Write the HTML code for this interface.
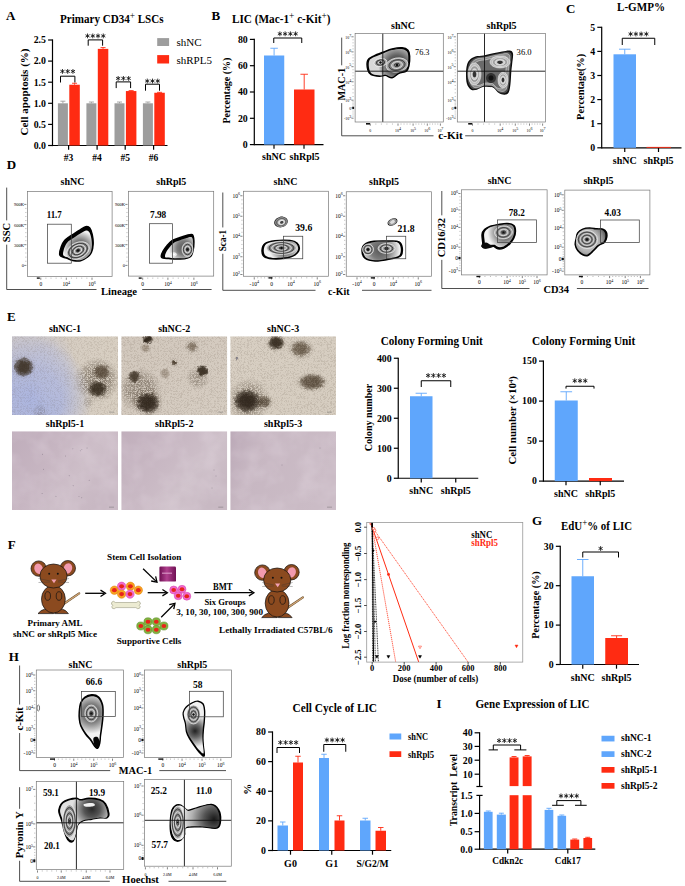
<!DOCTYPE html>
<html><head><meta charset="utf-8"><title>Figure</title>
<style>html,body{margin:0;padding:0;background:#fff;} svg{display:block;} text{font-family:"Liberation Serif", serif;}</style>
</head><body>
<svg width="685" height="886" viewBox="0 0 685 886">
<defs><radialGradient id="z3g1" gradientUnits="userSpaceOnUse" cx="397" cy="65" r="18.76"><stop offset="0" stop-color="#3a3a3a"/><stop offset="0.5" stop-color="#5e5e5e"/><stop offset="0.85" stop-color="#a0a0a0"/><stop offset="1" stop-color="#d8d8d8"/></radialGradient><radialGradient id="z3g2" gradientUnits="userSpaceOnUse" cx="80" cy="248" r="16.94"><stop offset="0" stop-color="#555"/><stop offset="0.45" stop-color="#7a7a7a"/><stop offset="0.8" stop-color="#c4c4c4"/><stop offset="1" stop-color="#f2f2f2"/></radialGradient><radialGradient id="z3g3" gradientUnits="userSpaceOnUse" cx="184" cy="248" r="15.35"><stop offset="0" stop-color="#555"/><stop offset="0.45" stop-color="#7a7a7a"/><stop offset="0.8" stop-color="#c4c4c4"/><stop offset="1" stop-color="#f2f2f2"/></radialGradient><radialGradient id="z3g4" gradientUnits="userSpaceOnUse" cx="284.5" cy="247.8" r="15.39"><stop offset="0" stop-color="#555"/><stop offset="0.45" stop-color="#7a7a7a"/><stop offset="0.8" stop-color="#c4c4c4"/><stop offset="1" stop-color="#f2f2f2"/></radialGradient><radialGradient id="z3g5" gradientUnits="userSpaceOnUse" cx="380" cy="250" r="20"><stop offset="0" stop-color="#555"/><stop offset="0.45" stop-color="#7a7a7a"/><stop offset="0.8" stop-color="#c4c4c4"/><stop offset="1" stop-color="#f2f2f2"/></radialGradient><radialGradient id="z3g6" gradientUnits="userSpaceOnUse" cx="504.6" cy="232.4" r="16.97"><stop offset="0" stop-color="#555"/><stop offset="0.45" stop-color="#7a7a7a"/><stop offset="0.8" stop-color="#c4c4c4"/><stop offset="1" stop-color="#f2f2f2"/></radialGradient><radialGradient id="z3g7" gradientUnits="userSpaceOnUse" cx="588" cy="241" r="19"><stop offset="0" stop-color="#ddd"/><stop offset="0.6" stop-color="#b0b0b0"/><stop offset="0.85" stop-color="#808080"/><stop offset="1" stop-color="#555"/></radialGradient><filter color-interpolation-filters="sRGB" id="grain" x="0" y="0" width="100%" height="100%"><feTurbulence type="turbulence" baseFrequency="1.3" numOctaves="1" seed="4"/><feColorMatrix type="matrix" values="0 0 0 0 0.3  0 0 0 0 0.24  0 0 0 0 0.18  0 0 0 4 -0.45"/></filter><filter color-interpolation-filters="sRGB" id="grain2" x="0" y="0" width="100%" height="100%"><feTurbulence type="fractalNoise" baseFrequency="0.05" numOctaves="3" seed="9"/><feColorMatrix type="matrix" values="0 0 0 0 1  0 0 0 0 0.97  0 0 0 0 1  0 0 0 -1.6 1.05"/></filter><filter color-interpolation-filters="sRGB" id="speck" x="-10%" y="-10%" width="120%" height="120%"><feTurbulence type="turbulence" baseFrequency="0.75" numOctaves="2" seed="2" result="n"/><feColorMatrix in="n" type="matrix" values="0 0 0 0 0.24  0 0 0 0 0.19  0 0 0 0 0.13  0 0 0 3.2 -0.05" result="m"/><feComposite in="m" in2="SourceGraphic" operator="in"/></filter><filter color-interpolation-filters="sRGB" id="rough" x="-30%" y="-30%" width="160%" height="160%"><feTurbulence type="fractalNoise" baseFrequency="0.35" numOctaves="2" seed="5" result="t"/><feDisplacementMap in="SourceGraphic" in2="t" scale="4" xChannelSelector="R" yChannelSelector="G"/></filter><radialGradient id="halo"><stop offset="0" stop-color="#000" stop-opacity="1"/><stop offset="0.55" stop-color="#000" stop-opacity="0.8"/><stop offset="1" stop-color="#000" stop-opacity="0"/></radialGradient><radialGradient id="col"><stop offset="0" stop-color="currentColor" stop-opacity="1"/><stop offset="0.5" stop-color="currentColor" stop-opacity="0.95"/><stop offset="0.78" stop-color="currentColor" stop-opacity="0.6"/><stop offset="1" stop-color="currentColor" stop-opacity="0"/></radialGradient><radialGradient id="softw2"><stop offset="0" stop-color="currentColor" stop-opacity="1"/><stop offset="0.5" stop-color="currentColor" stop-opacity="0.85"/><stop offset="1" stop-color="currentColor" stop-opacity="0"/></radialGradient><clipPath id="clipE1"><rect x="12" y="336.25" width="106" height="78.75"/></clipPath><linearGradient id="gE1" x1="0" y1="0" x2="1" y2="0"><stop offset="0" stop-color="#d4cbc2"/><stop offset="1" stop-color="#d8cfc2"/></linearGradient><radialGradient id="sw0"><stop offset="0" stop-color="#a8b3e2" stop-opacity="1"/><stop offset="0.5" stop-color="#a8b3e2" stop-opacity="0.85"/><stop offset="1" stop-color="#a8b3e2" stop-opacity="0"/></radialGradient><radialGradient id="sw1"><stop offset="0" stop-color="#b8bcd8" stop-opacity="1"/><stop offset="0.5" stop-color="#b8bcd8" stop-opacity="0.85"/><stop offset="1" stop-color="#b8bcd8" stop-opacity="0"/></radialGradient><radialGradient id="sw2"><stop offset="0" stop-color="#bcc0dc" stop-opacity="1"/><stop offset="0.5" stop-color="#bcc0dc" stop-opacity="0.85"/><stop offset="1" stop-color="#bcc0dc" stop-opacity="0"/></radialGradient><radialGradient id="col3"><stop offset="0" stop-color="#3a2e20" stop-opacity="1"/><stop offset="0.5" stop-color="#3a2e20" stop-opacity="0.95"/><stop offset="0.78" stop-color="#3a2e20" stop-opacity="0.6"/><stop offset="1" stop-color="#3a2e20" stop-opacity="0"/></radialGradient><radialGradient id="col4"><stop offset="0" stop-color="#4a3c2c" stop-opacity="1"/><stop offset="0.5" stop-color="#4a3c2c" stop-opacity="0.95"/><stop offset="0.78" stop-color="#4a3c2c" stop-opacity="0.6"/><stop offset="1" stop-color="#4a3c2c" stop-opacity="0"/></radialGradient><radialGradient id="col5"><stop offset="0" stop-color="#33291c" stop-opacity="1"/><stop offset="0.5" stop-color="#33291c" stop-opacity="0.95"/><stop offset="0.78" stop-color="#33291c" stop-opacity="0.6"/><stop offset="1" stop-color="#33291c" stop-opacity="0"/></radialGradient><clipPath id="clipE2"><rect x="121.25" y="336.25" width="106" height="78.75"/></clipPath><linearGradient id="gE2" x1="0" y1="0" x2="1" y2="1"><stop offset="0" stop-color="#d2c8bd"/><stop offset="1" stop-color="#d6cdc2"/></linearGradient><radialGradient id="col6"><stop offset="0" stop-color="#2a2016" stop-opacity="1"/><stop offset="0.5" stop-color="#2a2016" stop-opacity="0.95"/><stop offset="0.78" stop-color="#2a2016" stop-opacity="0.6"/><stop offset="1" stop-color="#2a2016" stop-opacity="0"/></radialGradient><radialGradient id="col7"><stop offset="0" stop-color="#8a7a68" stop-opacity="1"/><stop offset="0.5" stop-color="#8a7a68" stop-opacity="0.95"/><stop offset="0.78" stop-color="#8a7a68" stop-opacity="0.6"/><stop offset="1" stop-color="#8a7a68" stop-opacity="0"/></radialGradient><radialGradient id="col8"><stop offset="0" stop-color="#3b2f22" stop-opacity="1"/><stop offset="0.5" stop-color="#3b2f22" stop-opacity="0.95"/><stop offset="0.78" stop-color="#3b2f22" stop-opacity="0.6"/><stop offset="1" stop-color="#3b2f22" stop-opacity="0"/></radialGradient><radialGradient id="col9"><stop offset="0" stop-color="#2e241a" stop-opacity="1"/><stop offset="0.5" stop-color="#2e241a" stop-opacity="0.95"/><stop offset="0.78" stop-color="#2e241a" stop-opacity="0.6"/><stop offset="1" stop-color="#2e241a" stop-opacity="0"/></radialGradient><radialGradient id="col10"><stop offset="0" stop-color="#6a5a48" stop-opacity="1"/><stop offset="0.5" stop-color="#6a5a48" stop-opacity="0.95"/><stop offset="0.78" stop-color="#6a5a48" stop-opacity="0.6"/><stop offset="1" stop-color="#6a5a48" stop-opacity="0"/></radialGradient><radialGradient id="col11"><stop offset="0" stop-color="#2e2418" stop-opacity="1"/><stop offset="0.5" stop-color="#2e2418" stop-opacity="0.95"/><stop offset="0.78" stop-color="#2e2418" stop-opacity="0.6"/><stop offset="1" stop-color="#2e2418" stop-opacity="0"/></radialGradient><radialGradient id="col12"><stop offset="0" stop-color="#3a2c1c" stop-opacity="1"/><stop offset="0.5" stop-color="#3a2c1c" stop-opacity="0.95"/><stop offset="0.78" stop-color="#3a2c1c" stop-opacity="0.6"/><stop offset="1" stop-color="#3a2c1c" stop-opacity="0"/></radialGradient><radialGradient id="col13"><stop offset="0" stop-color="#7a6a58" stop-opacity="1"/><stop offset="0.5" stop-color="#7a6a58" stop-opacity="0.95"/><stop offset="0.78" stop-color="#7a6a58" stop-opacity="0.6"/><stop offset="1" stop-color="#7a6a58" stop-opacity="0"/></radialGradient><clipPath id="clipE3"><rect x="230.25" y="336.25" width="105.75" height="78.75"/></clipPath><linearGradient id="gE3" x1="0" y1="0" x2="1" y2="1"><stop offset="0" stop-color="#d8cfc3"/><stop offset="1" stop-color="#d6cdc0"/></linearGradient><radialGradient id="col14"><stop offset="0" stop-color="#32281c" stop-opacity="1"/><stop offset="0.5" stop-color="#32281c" stop-opacity="0.95"/><stop offset="0.78" stop-color="#32281c" stop-opacity="0.6"/><stop offset="1" stop-color="#32281c" stop-opacity="0"/></radialGradient><radialGradient id="col15"><stop offset="0" stop-color="#4b3c2a" stop-opacity="1"/><stop offset="0.5" stop-color="#4b3c2a" stop-opacity="0.95"/><stop offset="0.78" stop-color="#4b3c2a" stop-opacity="0.6"/><stop offset="1" stop-color="#4b3c2a" stop-opacity="0"/></radialGradient><radialGradient id="col16"><stop offset="0" stop-color="#5a5a70" stop-opacity="1"/><stop offset="0.5" stop-color="#5a5a70" stop-opacity="0.95"/><stop offset="0.78" stop-color="#5a5a70" stop-opacity="0.6"/><stop offset="1" stop-color="#5a5a70" stop-opacity="0"/></radialGradient><clipPath id="clipE4"><rect x="12" y="431.25" width="106" height="78.75"/></clipPath><linearGradient id="gE4" x1="0" y1="0" x2="1" y2="0.5"><stop offset="0" stop-color="#bfadbb"/><stop offset="0.45" stop-color="#c7b6c2"/><stop offset="0.7" stop-color="#cdbec8"/><stop offset="1" stop-color="#c8b8c3"/></linearGradient><clipPath id="clipE5"><rect x="121.25" y="431.25" width="106" height="78.75"/></clipPath><linearGradient id="gE5" x1="0" y1="0" x2="1" y2="0.6"><stop offset="0" stop-color="#c1afbc"/><stop offset="0.5" stop-color="#c9b9c4"/><stop offset="0.75" stop-color="#cec0c9"/><stop offset="1" stop-color="#c8b9c3"/></linearGradient><clipPath id="clipE6"><rect x="230.25" y="431.25" width="105.75" height="78.75"/></clipPath><linearGradient id="gE6" x1="0" y1="0" x2="1" y2="0.3"><stop offset="0" stop-color="#bba9b7"/><stop offset="0.3" stop-color="#c7b7c2"/><stop offset="1" stop-color="#cbbcc6"/></linearGradient><linearGradient id="mag" x1="0" y1="0" x2="1" y2="0"><stop offset="0" stop-color="#6e0f52"/><stop offset="0.45" stop-color="#b0408e"/><stop offset="1" stop-color="#701054"/></linearGradient><clipPath id="ldaclip"><rect x="366.7" y="522.5" width="156.05" height="139.6"/></clipPath><radialGradient id="z3g8" gradientUnits="userSpaceOnUse" cx="91.3" cy="713.2" r="20.42"><stop offset="0" stop-color="#555"/><stop offset="0.45" stop-color="#7a7a7a"/><stop offset="0.8" stop-color="#c4c4c4"/><stop offset="1" stop-color="#f2f2f2"/></radialGradient><radialGradient id="z3g9" gradientUnits="userSpaceOnUse" cx="195" cy="731" r="16"><stop offset="0" stop-color="#222"/><stop offset="0.4" stop-color="#666"/><stop offset="0.8" stop-color="#c0c0c0"/><stop offset="1" stop-color="#f0f0f0"/></radialGradient><radialGradient id="z3g10" gradientUnits="userSpaceOnUse" cx="92" cy="809" r="20"><stop offset="0" stop-color="#2a2a2a"/><stop offset="0.4" stop-color="#555"/><stop offset="0.75" stop-color="#a0a0a0"/><stop offset="1" stop-color="#e0e0e0"/></radialGradient><radialGradient id="z3g11" gradientUnits="userSpaceOnUse" cx="214" cy="819" r="34"><stop offset="0" stop-color="#1a1a1a"/><stop offset="0.3" stop-color="#555"/><stop offset="0.65" stop-color="#b0b0b0"/><stop offset="1" stop-color="#f2f2f2"/></radialGradient></defs>
<rect width="685" height="886" fill="#fff"/>
<text x="6" y="20" font-size="13" font-weight="bold" fill="#000" text-anchor="start">A</text>
<text x="60" y="22.5" font-size="12" font-weight="bold" textLength="103.5" lengthAdjust="spacingAndGlyphs">Primary CD34<tspan dy="-4" font-size="10" font-weight="normal">+</tspan><tspan dy="4"> LSCs</tspan></text>
<line x1="52.5" y1="39.4" x2="52.5" y2="146.1" stroke="#000" stroke-width="1.2"/>
<line x1="48.1" y1="145.5" x2="52.5" y2="145.5" stroke="#000" stroke-width="1.2"/>
<text x="45.9" y="148.83" font-size="9.8" font-weight="bold" fill="#000" text-anchor="end">0.0</text>
<line x1="48.1" y1="124.4" x2="52.5" y2="124.4" stroke="#000" stroke-width="1.2"/>
<text x="45.9" y="127.73" font-size="9.8" font-weight="bold" fill="#000" text-anchor="end">0.5</text>
<line x1="48.1" y1="103.3" x2="52.5" y2="103.3" stroke="#000" stroke-width="1.2"/>
<text x="45.9" y="106.63" font-size="9.8" font-weight="bold" fill="#000" text-anchor="end">1.0</text>
<line x1="48.1" y1="82.2" x2="52.5" y2="82.2" stroke="#000" stroke-width="1.2"/>
<text x="45.9" y="85.53" font-size="9.8" font-weight="bold" fill="#000" text-anchor="end">1.5</text>
<line x1="48.1" y1="61.1" x2="52.5" y2="61.1" stroke="#000" stroke-width="1.2"/>
<text x="45.9" y="64.43" font-size="9.8" font-weight="bold" fill="#000" text-anchor="end">2.0</text>
<line x1="48.1" y1="40" x2="52.5" y2="40" stroke="#000" stroke-width="1.2"/>
<text x="45.9" y="43.33" font-size="9.8" font-weight="bold" fill="#000" text-anchor="end">2.5</text>
<text x="27.8" y="92" font-size="11" font-weight="bold" fill="#000" text-anchor="middle" textLength="87" lengthAdjust="spacingAndGlyphs" transform="rotate(-90 27.8 92)">Cell apoptosis (%)</text>
<line x1="52.5" y1="145.5" x2="167.5" y2="145.5" stroke="#000" stroke-width="1.2"/>
<line x1="68.6" y1="145.5" x2="68.6" y2="149.7" stroke="#000" stroke-width="1.2"/>
<line x1="97.1" y1="145.5" x2="97.1" y2="149.7" stroke="#000" stroke-width="1.2"/>
<line x1="125.2" y1="145.5" x2="125.2" y2="149.7" stroke="#000" stroke-width="1.2"/>
<line x1="153.6" y1="145.5" x2="153.6" y2="149.7" stroke="#000" stroke-width="1.2"/>
<rect x="57.9" y="103.3" width="10" height="42.2" fill="#9d9d9d"/>
<line x1="62.9" y1="103.3" x2="62.9" y2="101.19" stroke="#9d9d9d" stroke-width="0.9"/>
<line x1="60.4" y1="101.19" x2="65.4" y2="101.19" stroke="#9d9d9d" stroke-width="0.9"/>
<rect x="69.3" y="84.73" width="10.5" height="60.77" fill="#ff2b12"/>
<line x1="74.55" y1="84.73" x2="74.55" y2="83.25" stroke="#ff2b12" stroke-width="0.9"/>
<line x1="72.05" y1="83.25" x2="77.05" y2="83.25" stroke="#ff2b12" stroke-width="0.9"/>
<text x="68.6" y="160.5" font-size="9.5" font-weight="bold" fill="#000" text-anchor="middle">#3</text>
<rect x="86.4" y="103.3" width="10" height="42.2" fill="#9d9d9d"/>
<line x1="91.4" y1="103.3" x2="91.4" y2="102.03" stroke="#9d9d9d" stroke-width="0.9"/>
<line x1="88.9" y1="102.03" x2="93.9" y2="102.03" stroke="#9d9d9d" stroke-width="0.9"/>
<rect x="97.8" y="48.86" width="10.5" height="96.64" fill="#ff2b12"/>
<line x1="103.05" y1="48.86" x2="103.05" y2="47.6" stroke="#ff2b12" stroke-width="0.9"/>
<line x1="100.55" y1="47.6" x2="105.55" y2="47.6" stroke="#ff2b12" stroke-width="0.9"/>
<text x="97.1" y="160.5" font-size="9.5" font-weight="bold" fill="#000" text-anchor="middle">#4</text>
<rect x="114.5" y="103.3" width="10" height="42.2" fill="#9d9d9d"/>
<line x1="119.5" y1="103.3" x2="119.5" y2="102.03" stroke="#9d9d9d" stroke-width="0.9"/>
<line x1="117" y1="102.03" x2="122" y2="102.03" stroke="#9d9d9d" stroke-width="0.9"/>
<rect x="125.9" y="91.06" width="10.5" height="54.44" fill="#ff2b12"/>
<line x1="131.15" y1="91.06" x2="131.15" y2="90.64" stroke="#ff2b12" stroke-width="0.9"/>
<line x1="128.65" y1="90.64" x2="133.65" y2="90.64" stroke="#ff2b12" stroke-width="0.9"/>
<text x="125.2" y="160.5" font-size="9.5" font-weight="bold" fill="#000" text-anchor="middle">#5</text>
<rect x="142.9" y="103.3" width="10" height="42.2" fill="#9d9d9d"/>
<line x1="147.9" y1="103.3" x2="147.9" y2="102.03" stroke="#9d9d9d" stroke-width="0.9"/>
<line x1="145.4" y1="102.03" x2="150.4" y2="102.03" stroke="#9d9d9d" stroke-width="0.9"/>
<rect x="154.3" y="92.75" width="10.5" height="52.75" fill="#ff2b12"/>
<line x1="159.55" y1="92.75" x2="159.55" y2="92.33" stroke="#ff2b12" stroke-width="0.9"/>
<line x1="157.05" y1="92.33" x2="162.05" y2="92.33" stroke="#ff2b12" stroke-width="0.9"/>
<text x="153.6" y="160.5" font-size="9.5" font-weight="bold" fill="#000" text-anchor="middle">#6</text>
<path d="M60.5,82.5 V76.2 H74.9 V82.5" fill="none" stroke="#000" stroke-width="1"/>
<path d="M62.45,69L62.45,73.8M60.37,70.2L64.53,72.6M64.53,70.2L60.37,72.6M67.7,69L67.7,73.8M65.62,70.2L69.78,72.6M69.78,70.2L65.62,72.6M72.95,69L72.95,73.8M70.87,70.2L75.03,72.6M75.03,70.2L70.87,72.6" stroke="#111" stroke-width="0.85" fill="none"/>
<path d="M88.2,45.7 V39.9 H102.6 V45.7" fill="none" stroke="#000" stroke-width="1"/>
<path d="M87.53,33.5L87.53,38.3M85.45,34.7L89.6,37.1M89.6,34.7L85.45,37.1M92.78,33.5L92.78,38.3M90.7,34.7L94.85,37.1M94.85,34.7L90.7,37.1M98.03,33.5L98.03,38.3M95.95,34.7L100.1,37.1M100.1,34.7L95.95,37.1M103.28,33.5L103.28,38.3M101.2,34.7L105.35,37.1M105.35,34.7L101.2,37.1" stroke="#111" stroke-width="0.85" fill="none"/>
<path d="M116.2,88.1 V81.9 H130.6 V88.1" fill="none" stroke="#000" stroke-width="1"/>
<path d="M118.15,76L118.15,80.8M116.07,77.2L120.23,79.6M120.23,77.2L116.07,79.6M123.4,76L123.4,80.8M121.32,77.2L125.48,79.6M125.48,77.2L121.32,79.6M128.65,76L128.65,80.8M126.57,77.2L130.73,79.6M130.73,77.2L126.57,79.6" stroke="#111" stroke-width="0.85" fill="none"/>
<path d="M145.5,90.7 V84.2 H159.5 V90.7" fill="none" stroke="#000" stroke-width="1"/>
<path d="M147.25,78.6L147.25,83.4M145.17,79.8L149.33,82.2M149.33,79.8L145.17,82.2M152.5,78.6L152.5,83.4M150.42,79.8L154.58,82.2M154.58,79.8L150.42,82.2M157.75,78.6L157.75,83.4M155.67,79.8L159.83,82.2M159.83,79.8L155.67,82.2" stroke="#111" stroke-width="0.85" fill="none"/>
<rect x="157.2" y="38.1" width="11.9" height="7.9" fill="#9d9d9d"/>
<rect x="157.2" y="55.1" width="11.9" height="8.4" fill="#ff2b12"/>
<text x="176.5" y="46.3" font-size="11" font-weight="normal" fill="#000" text-anchor="start">shNC</text>
<text x="176.5" y="63.5" font-size="11" font-weight="normal" fill="#000" text-anchor="start">shRPL5</text>
<text x="211.5" y="20.1" font-size="13" font-weight="bold" fill="#000" text-anchor="start">B</text>
<text x="232" y="23" font-size="12" font-weight="bold" textLength="98.5" lengthAdjust="spacingAndGlyphs">LIC (Mac-1<tspan dy="-4" font-size="10" font-weight="normal">+</tspan><tspan dy="4"> c-Kit</tspan><tspan dy="-4" font-size="10" font-weight="normal">+</tspan><tspan dy="4">)</tspan></text>
<line x1="254.3" y1="38.8" x2="254.3" y2="145.2" stroke="#000" stroke-width="1.2"/>
<line x1="249.9" y1="144.6" x2="254.3" y2="144.6" stroke="#000" stroke-width="1.2"/>
<text x="247.7" y="147.93" font-size="9.8" font-weight="bold" fill="#000" text-anchor="end">0</text>
<line x1="249.9" y1="118.3" x2="254.3" y2="118.3" stroke="#000" stroke-width="1.2"/>
<text x="247.7" y="121.63" font-size="9.8" font-weight="bold" fill="#000" text-anchor="end">20</text>
<line x1="249.9" y1="92" x2="254.3" y2="92" stroke="#000" stroke-width="1.2"/>
<text x="247.7" y="95.33" font-size="9.8" font-weight="bold" fill="#000" text-anchor="end">40</text>
<line x1="249.9" y1="65.7" x2="254.3" y2="65.7" stroke="#000" stroke-width="1.2"/>
<text x="247.7" y="69.03" font-size="9.8" font-weight="bold" fill="#000" text-anchor="end">60</text>
<line x1="249.9" y1="39.4" x2="254.3" y2="39.4" stroke="#000" stroke-width="1.2"/>
<text x="247.7" y="42.73" font-size="9.8" font-weight="bold" fill="#000" text-anchor="end">80</text>
<text x="230" y="90.6" font-size="11" font-weight="bold" fill="#000" text-anchor="middle" textLength="66" lengthAdjust="spacingAndGlyphs" transform="rotate(-90 230 90.6)">Percentage (%)</text>
<line x1="254.3" y1="144.6" x2="323.5" y2="144.6" stroke="#000" stroke-width="1.2"/>
<line x1="274" y1="144.6" x2="274" y2="148.8" stroke="#000" stroke-width="1.2"/>
<line x1="304" y1="144.6" x2="304" y2="148.8" stroke="#000" stroke-width="1.2"/>
<rect x="264" y="55.5" width="20.25" height="89.1" fill="#5fa6fc"/>
<line x1="274.1" y1="55.5" x2="274.1" y2="48.25" stroke="#5fa6fc" stroke-width="0.9"/>
<line x1="270.35" y1="48.25" x2="277.85" y2="48.25" stroke="#5fa6fc" stroke-width="0.9"/>
<rect x="294" y="89.5" width="20.5" height="55.1" fill="#ff2b12"/>
<line x1="304.2" y1="89.5" x2="304.2" y2="74.25" stroke="#ff2b12" stroke-width="0.9"/>
<line x1="300.45" y1="74.25" x2="307.95" y2="74.25" stroke="#ff2b12" stroke-width="0.9"/>
<text x="274" y="160" font-size="10" font-weight="bold" fill="#000" text-anchor="middle">shNC</text>
<text x="304.5" y="160" font-size="10" font-weight="bold" fill="#000" text-anchor="middle">shRpl5</text>
<path d="M273.75,43 V38 H301.75 V43" fill="none" stroke="#000" stroke-width="1"/>
<path d="M279.88,31.4L279.88,36.2M277.8,32.6L281.95,35M281.95,32.6L277.8,35M285.12,31.4L285.12,36.2M283.05,32.6L287.2,35M287.2,32.6L283.05,35M290.38,31.4L290.38,36.2M288.3,32.6L292.45,35M292.45,32.6L288.3,35M295.62,31.4L295.62,36.2M293.55,32.6L297.7,35M297.7,32.6L293.55,35" stroke="#111" stroke-width="0.85" fill="none"/>
<line x1="341.7" y1="37.6" x2="341.7" y2="65.3" stroke="#222" stroke-width="0.8"/>
<line x1="341.7" y1="103.1" x2="341.7" y2="135.8" stroke="#222" stroke-width="0.8"/>
<line x1="341.7" y1="135.8" x2="433.5" y2="135.8" stroke="#222" stroke-width="0.8"/>
<line x1="465.2" y1="135.8" x2="543" y2="135.8" stroke="#222" stroke-width="0.8"/>
<text x="345.27" y="84.2" font-size="10.5" font-weight="bold" fill="#000" text-anchor="middle" textLength="32.8" lengthAdjust="spacingAndGlyphs" transform="rotate(-90 345.27 84.2)">MAC-1</text>
<text x="450.5" y="139.3" font-size="10.5" font-weight="bold" fill="#000" text-anchor="middle" textLength="24.5" lengthAdjust="spacingAndGlyphs">c-Kit</text>
<text x="403" y="28.9" font-size="10" font-weight="bold" fill="#000" text-anchor="middle">shNC</text>
<line x1="351.4" y1="36.8" x2="353.6" y2="36.8" stroke="#333" stroke-width="0.6"/>
<text x="351.2" y="38.7" font-size="3.9" font-weight="normal" fill="#000" text-anchor="end">10<tspan dy="-2.2" font-size="4">7</tspan></text>
<line x1="351.4" y1="51.9" x2="353.6" y2="51.9" stroke="#333" stroke-width="0.6"/>
<text x="351.2" y="53.8" font-size="3.9" font-weight="normal" fill="#000" text-anchor="end">10<tspan dy="-2.2" font-size="4">6</tspan></text>
<line x1="351.4" y1="66.7" x2="353.6" y2="66.7" stroke="#333" stroke-width="0.6"/>
<text x="351.2" y="68.6" font-size="3.9" font-weight="normal" fill="#000" text-anchor="end">10<tspan dy="-2.2" font-size="4">5</tspan></text>
<line x1="351.4" y1="81.8" x2="353.6" y2="81.8" stroke="#333" stroke-width="0.6"/>
<text x="351.2" y="83.7" font-size="3.9" font-weight="normal" fill="#000" text-anchor="end">10<tspan dy="-2.2" font-size="4">4</tspan></text>
<line x1="351.4" y1="100.2" x2="353.6" y2="100.2" stroke="#333" stroke-width="0.6"/>
<text x="351.2" y="102.1" font-size="3.9" font-weight="normal" fill="#000" text-anchor="end">10<tspan dy="-2.2" font-size="4">3</tspan></text>
<line x1="351.4" y1="107.8" x2="353.6" y2="107.8" stroke="#333" stroke-width="0.6"/>
<text x="351.2" y="109.7" font-size="3.9" font-weight="normal" fill="#000" text-anchor="end">0</text>
<line x1="351.4" y1="118.2" x2="353.6" y2="118.2" stroke="#333" stroke-width="0.6"/>
<text x="351.2" y="120.1" font-size="3.9" font-weight="normal" fill="#000" text-anchor="end">-10<tspan dy="-2.2" font-size="4">3</tspan></text>
<line x1="352.5" y1="39.82" x2="353.6" y2="39.82" stroke="#555" stroke-width="0.4"/>
<line x1="352.5" y1="42.84" x2="353.6" y2="42.84" stroke="#555" stroke-width="0.4"/>
<line x1="352.5" y1="45.86" x2="353.6" y2="45.86" stroke="#555" stroke-width="0.4"/>
<line x1="352.5" y1="48.88" x2="353.6" y2="48.88" stroke="#555" stroke-width="0.4"/>
<line x1="352.5" y1="54.86" x2="353.6" y2="54.86" stroke="#555" stroke-width="0.4"/>
<line x1="352.5" y1="57.82" x2="353.6" y2="57.82" stroke="#555" stroke-width="0.4"/>
<line x1="352.5" y1="60.78" x2="353.6" y2="60.78" stroke="#555" stroke-width="0.4"/>
<line x1="352.5" y1="63.74" x2="353.6" y2="63.74" stroke="#555" stroke-width="0.4"/>
<line x1="352.5" y1="69.72" x2="353.6" y2="69.72" stroke="#555" stroke-width="0.4"/>
<line x1="352.5" y1="72.74" x2="353.6" y2="72.74" stroke="#555" stroke-width="0.4"/>
<line x1="352.5" y1="75.76" x2="353.6" y2="75.76" stroke="#555" stroke-width="0.4"/>
<line x1="352.5" y1="78.78" x2="353.6" y2="78.78" stroke="#555" stroke-width="0.4"/>
<line x1="352.5" y1="85.48" x2="353.6" y2="85.48" stroke="#555" stroke-width="0.4"/>
<line x1="352.5" y1="89.16" x2="353.6" y2="89.16" stroke="#555" stroke-width="0.4"/>
<line x1="352.5" y1="92.84" x2="353.6" y2="92.84" stroke="#555" stroke-width="0.4"/>
<line x1="352.5" y1="96.52" x2="353.6" y2="96.52" stroke="#555" stroke-width="0.4"/>
<line x1="352.5" y1="101.72" x2="353.6" y2="101.72" stroke="#555" stroke-width="0.4"/>
<line x1="352.5" y1="103.24" x2="353.6" y2="103.24" stroke="#555" stroke-width="0.4"/>
<line x1="352.5" y1="104.76" x2="353.6" y2="104.76" stroke="#555" stroke-width="0.4"/>
<line x1="352.5" y1="106.28" x2="353.6" y2="106.28" stroke="#555" stroke-width="0.4"/>
<line x1="352.5" y1="109.88" x2="353.6" y2="109.88" stroke="#555" stroke-width="0.4"/>
<line x1="352.5" y1="111.96" x2="353.6" y2="111.96" stroke="#555" stroke-width="0.4"/>
<line x1="352.5" y1="114.04" x2="353.6" y2="114.04" stroke="#555" stroke-width="0.4"/>
<line x1="352.5" y1="116.12" x2="353.6" y2="116.12" stroke="#555" stroke-width="0.4"/>
<line x1="370.3" y1="123.5" x2="370.3" y2="125.7" stroke="#333" stroke-width="0.6"/>
<text x="370.3" y="131.8" font-size="3.9" font-weight="normal" fill="#000" text-anchor="middle">0</text>
<line x1="398" y1="123.5" x2="398" y2="125.7" stroke="#333" stroke-width="0.6"/>
<text x="398" y="131.8" font-size="3.9" font-weight="normal" fill="#000" text-anchor="middle">10<tspan dy="-2.2" font-size="4">4</tspan></text>
<line x1="413.1" y1="123.5" x2="413.1" y2="125.7" stroke="#333" stroke-width="0.6"/>
<text x="413.1" y="131.8" font-size="3.9" font-weight="normal" fill="#000" text-anchor="middle">10<tspan dy="-2.2" font-size="4">5</tspan></text>
<line x1="427.3" y1="123.5" x2="427.3" y2="125.7" stroke="#333" stroke-width="0.6"/>
<text x="427.3" y="131.8" font-size="3.9" font-weight="normal" fill="#000" text-anchor="middle">10<tspan dy="-2.2" font-size="4">6</tspan></text>
<line x1="440.4" y1="123.5" x2="440.4" y2="125.7" stroke="#333" stroke-width="0.6"/>
<text x="440.4" y="131.8" font-size="3.9" font-weight="normal" fill="#000" text-anchor="middle">10<tspan dy="-2.2" font-size="4">7</tspan></text>
<line x1="375.84" y1="123.5" x2="375.84" y2="124.6" stroke="#555" stroke-width="0.4"/>
<line x1="381.38" y1="123.5" x2="381.38" y2="124.6" stroke="#555" stroke-width="0.4"/>
<line x1="386.92" y1="123.5" x2="386.92" y2="124.6" stroke="#555" stroke-width="0.4"/>
<line x1="392.46" y1="123.5" x2="392.46" y2="124.6" stroke="#555" stroke-width="0.4"/>
<line x1="401.02" y1="123.5" x2="401.02" y2="124.6" stroke="#555" stroke-width="0.4"/>
<line x1="404.04" y1="123.5" x2="404.04" y2="124.6" stroke="#555" stroke-width="0.4"/>
<line x1="407.06" y1="123.5" x2="407.06" y2="124.6" stroke="#555" stroke-width="0.4"/>
<line x1="410.08" y1="123.5" x2="410.08" y2="124.6" stroke="#555" stroke-width="0.4"/>
<line x1="415.94" y1="123.5" x2="415.94" y2="124.6" stroke="#555" stroke-width="0.4"/>
<line x1="418.78" y1="123.5" x2="418.78" y2="124.6" stroke="#555" stroke-width="0.4"/>
<line x1="421.62" y1="123.5" x2="421.62" y2="124.6" stroke="#555" stroke-width="0.4"/>
<line x1="424.46" y1="123.5" x2="424.46" y2="124.6" stroke="#555" stroke-width="0.4"/>
<line x1="429.92" y1="123.5" x2="429.92" y2="124.6" stroke="#555" stroke-width="0.4"/>
<line x1="432.54" y1="123.5" x2="432.54" y2="124.6" stroke="#555" stroke-width="0.4"/>
<line x1="435.16" y1="123.5" x2="435.16" y2="124.6" stroke="#555" stroke-width="0.4"/>
<line x1="437.78" y1="123.5" x2="437.78" y2="124.6" stroke="#555" stroke-width="0.4"/>
<rect x="352.3" y="106.8" width="1.8" height="2.2" fill="#111"/>
<rect x="366" y="123" width="4" height="1.6" fill="#111"/>
<text x="501.5" y="28.9" font-size="10" font-weight="bold" fill="#000" text-anchor="middle">shRpl5</text>
<line x1="453.6" y1="36.8" x2="455.8" y2="36.8" stroke="#333" stroke-width="0.6"/>
<text x="453.4" y="38.7" font-size="3.9" font-weight="normal" fill="#000" text-anchor="end">10<tspan dy="-2.2" font-size="4">7</tspan></text>
<line x1="453.6" y1="51.9" x2="455.8" y2="51.9" stroke="#333" stroke-width="0.6"/>
<text x="453.4" y="53.8" font-size="3.9" font-weight="normal" fill="#000" text-anchor="end">10<tspan dy="-2.2" font-size="4">6</tspan></text>
<line x1="453.6" y1="66.7" x2="455.8" y2="66.7" stroke="#333" stroke-width="0.6"/>
<text x="453.4" y="68.6" font-size="3.9" font-weight="normal" fill="#000" text-anchor="end">10<tspan dy="-2.2" font-size="4">5</tspan></text>
<line x1="453.6" y1="81.8" x2="455.8" y2="81.8" stroke="#333" stroke-width="0.6"/>
<text x="453.4" y="83.7" font-size="3.9" font-weight="normal" fill="#000" text-anchor="end">10<tspan dy="-2.2" font-size="4">4</tspan></text>
<line x1="453.6" y1="100.2" x2="455.8" y2="100.2" stroke="#333" stroke-width="0.6"/>
<text x="453.4" y="102.1" font-size="3.9" font-weight="normal" fill="#000" text-anchor="end">10<tspan dy="-2.2" font-size="4">3</tspan></text>
<line x1="453.6" y1="107.8" x2="455.8" y2="107.8" stroke="#333" stroke-width="0.6"/>
<text x="453.4" y="109.7" font-size="3.9" font-weight="normal" fill="#000" text-anchor="end">0</text>
<line x1="453.6" y1="118.2" x2="455.8" y2="118.2" stroke="#333" stroke-width="0.6"/>
<text x="453.4" y="120.1" font-size="3.9" font-weight="normal" fill="#000" text-anchor="end">-10<tspan dy="-2.2" font-size="4">3</tspan></text>
<line x1="454.7" y1="39.82" x2="455.8" y2="39.82" stroke="#555" stroke-width="0.4"/>
<line x1="454.7" y1="42.84" x2="455.8" y2="42.84" stroke="#555" stroke-width="0.4"/>
<line x1="454.7" y1="45.86" x2="455.8" y2="45.86" stroke="#555" stroke-width="0.4"/>
<line x1="454.7" y1="48.88" x2="455.8" y2="48.88" stroke="#555" stroke-width="0.4"/>
<line x1="454.7" y1="54.86" x2="455.8" y2="54.86" stroke="#555" stroke-width="0.4"/>
<line x1="454.7" y1="57.82" x2="455.8" y2="57.82" stroke="#555" stroke-width="0.4"/>
<line x1="454.7" y1="60.78" x2="455.8" y2="60.78" stroke="#555" stroke-width="0.4"/>
<line x1="454.7" y1="63.74" x2="455.8" y2="63.74" stroke="#555" stroke-width="0.4"/>
<line x1="454.7" y1="69.72" x2="455.8" y2="69.72" stroke="#555" stroke-width="0.4"/>
<line x1="454.7" y1="72.74" x2="455.8" y2="72.74" stroke="#555" stroke-width="0.4"/>
<line x1="454.7" y1="75.76" x2="455.8" y2="75.76" stroke="#555" stroke-width="0.4"/>
<line x1="454.7" y1="78.78" x2="455.8" y2="78.78" stroke="#555" stroke-width="0.4"/>
<line x1="454.7" y1="85.48" x2="455.8" y2="85.48" stroke="#555" stroke-width="0.4"/>
<line x1="454.7" y1="89.16" x2="455.8" y2="89.16" stroke="#555" stroke-width="0.4"/>
<line x1="454.7" y1="92.84" x2="455.8" y2="92.84" stroke="#555" stroke-width="0.4"/>
<line x1="454.7" y1="96.52" x2="455.8" y2="96.52" stroke="#555" stroke-width="0.4"/>
<line x1="454.7" y1="101.72" x2="455.8" y2="101.72" stroke="#555" stroke-width="0.4"/>
<line x1="454.7" y1="103.24" x2="455.8" y2="103.24" stroke="#555" stroke-width="0.4"/>
<line x1="454.7" y1="104.76" x2="455.8" y2="104.76" stroke="#555" stroke-width="0.4"/>
<line x1="454.7" y1="106.28" x2="455.8" y2="106.28" stroke="#555" stroke-width="0.4"/>
<line x1="454.7" y1="109.88" x2="455.8" y2="109.88" stroke="#555" stroke-width="0.4"/>
<line x1="454.7" y1="111.96" x2="455.8" y2="111.96" stroke="#555" stroke-width="0.4"/>
<line x1="454.7" y1="114.04" x2="455.8" y2="114.04" stroke="#555" stroke-width="0.4"/>
<line x1="454.7" y1="116.12" x2="455.8" y2="116.12" stroke="#555" stroke-width="0.4"/>
<line x1="472.5" y1="123.5" x2="472.5" y2="125.7" stroke="#333" stroke-width="0.6"/>
<text x="472.5" y="131.8" font-size="3.9" font-weight="normal" fill="#000" text-anchor="middle">0</text>
<line x1="500.2" y1="123.5" x2="500.2" y2="125.7" stroke="#333" stroke-width="0.6"/>
<text x="500.2" y="131.8" font-size="3.9" font-weight="normal" fill="#000" text-anchor="middle">10<tspan dy="-2.2" font-size="4">4</tspan></text>
<line x1="515.3" y1="123.5" x2="515.3" y2="125.7" stroke="#333" stroke-width="0.6"/>
<text x="515.3" y="131.8" font-size="3.9" font-weight="normal" fill="#000" text-anchor="middle">10<tspan dy="-2.2" font-size="4">5</tspan></text>
<line x1="529.5" y1="123.5" x2="529.5" y2="125.7" stroke="#333" stroke-width="0.6"/>
<text x="529.5" y="131.8" font-size="3.9" font-weight="normal" fill="#000" text-anchor="middle">10<tspan dy="-2.2" font-size="4">6</tspan></text>
<line x1="542.6" y1="123.5" x2="542.6" y2="125.7" stroke="#333" stroke-width="0.6"/>
<text x="542.6" y="131.8" font-size="3.9" font-weight="normal" fill="#000" text-anchor="middle">10<tspan dy="-2.2" font-size="4">7</tspan></text>
<line x1="478.04" y1="123.5" x2="478.04" y2="124.6" stroke="#555" stroke-width="0.4"/>
<line x1="483.58" y1="123.5" x2="483.58" y2="124.6" stroke="#555" stroke-width="0.4"/>
<line x1="489.12" y1="123.5" x2="489.12" y2="124.6" stroke="#555" stroke-width="0.4"/>
<line x1="494.66" y1="123.5" x2="494.66" y2="124.6" stroke="#555" stroke-width="0.4"/>
<line x1="503.22" y1="123.5" x2="503.22" y2="124.6" stroke="#555" stroke-width="0.4"/>
<line x1="506.24" y1="123.5" x2="506.24" y2="124.6" stroke="#555" stroke-width="0.4"/>
<line x1="509.26" y1="123.5" x2="509.26" y2="124.6" stroke="#555" stroke-width="0.4"/>
<line x1="512.28" y1="123.5" x2="512.28" y2="124.6" stroke="#555" stroke-width="0.4"/>
<line x1="518.14" y1="123.5" x2="518.14" y2="124.6" stroke="#555" stroke-width="0.4"/>
<line x1="520.98" y1="123.5" x2="520.98" y2="124.6" stroke="#555" stroke-width="0.4"/>
<line x1="523.82" y1="123.5" x2="523.82" y2="124.6" stroke="#555" stroke-width="0.4"/>
<line x1="526.66" y1="123.5" x2="526.66" y2="124.6" stroke="#555" stroke-width="0.4"/>
<line x1="532.12" y1="123.5" x2="532.12" y2="124.6" stroke="#555" stroke-width="0.4"/>
<line x1="534.74" y1="123.5" x2="534.74" y2="124.6" stroke="#555" stroke-width="0.4"/>
<line x1="537.36" y1="123.5" x2="537.36" y2="124.6" stroke="#555" stroke-width="0.4"/>
<line x1="539.98" y1="123.5" x2="539.98" y2="124.6" stroke="#555" stroke-width="0.4"/>
<rect x="454.5" y="106.8" width="1.8" height="2.2" fill="#111"/>
<rect x="468.2" y="123" width="4" height="1.6" fill="#111"/>
<path d="M367.7,60.3 C368.68,58.07 370.93,57.5 373.6,56.1 C376.27,54.7 380.62,53.1 383.7,51.9 C386.78,50.7 389.03,49.6 392.1,48.9 C395.17,48.2 399.45,47.48 402.1,47.7 C404.75,47.92 406.73,48.8 408,50.2 C409.27,51.6 409.55,53.43 409.7,56.1 C409.85,58.77 409.47,63.68 408.9,66.2 C408.33,68.72 407.98,70 406.3,71.2 C404.62,72.4 401.17,72.28 398.8,73.4 C396.43,74.52 394.33,77.57 392.1,77.9 C389.87,78.23 387.5,75.68 385.4,75.4 C383.3,75.12 381.88,76.33 379.5,76.2 C377.12,76.07 373.07,75.72 371.1,74.6 C369.13,73.48 368.27,71.88 367.7,69.5 C367.13,67.12 366.72,62.53 367.7,60.3Z" fill="#000" stroke="#000" stroke-width="1.4"/>
<path d="M369.26,60.7 C370.18,58.62 372.27,58.09 374.75,56.79 C377.23,55.49 381.27,54 384.14,52.89 C387.01,51.77 389.1,50.75 391.95,50.1 C394.81,49.45 398.79,48.78 401.25,48.98 C403.72,49.18 405.56,50 406.74,51.31 C407.92,52.61 408.18,54.31 408.32,56.79 C408.46,59.27 408.1,63.85 407.58,66.19 C407.05,68.53 406.72,69.72 405.16,70.84 C403.59,71.95 400.38,71.84 398.18,72.88 C395.98,73.92 394.03,76.76 391.95,77.07 C389.88,77.38 387.67,75.01 385.72,74.74 C383.77,74.48 382.45,75.61 380.24,75.49 C378.02,75.36 374.25,75.04 372.42,74 C370.59,72.96 369.79,71.47 369.26,69.25 C368.73,67.04 368.35,62.78 369.26,60.7Z" fill="url(#z3g1)"/>
<ellipse cx="397" cy="65" rx="11" ry="7" fill="#a8a8a8" stroke="#fff" stroke-width="0.6" transform="rotate(-10 397 65)"/>
<ellipse cx="397" cy="65" rx="8.25" ry="5.25" fill="#7e7e7e" stroke="#111" stroke-width="0.6" transform="rotate(-10 397 65)"/>
<ellipse cx="397" cy="65" rx="5.5" ry="3.5" fill="#a8a8a8" stroke="#fff" stroke-width="0.6" transform="rotate(-10 397 65)"/>
<ellipse cx="397" cy="65" rx="2.75" ry="1.75" fill="#7e7e7e" stroke="#111" stroke-width="0.6" transform="rotate(-10 397 65)"/>
<circle cx="397" cy="65" r="1.2" fill="#111"/>
<ellipse cx="380.5" cy="62.5" rx="6.5" ry="4" fill="#a8a8a8" stroke="#fff" stroke-width="0.6" transform="rotate(-10 380.5 62.5)"/>
<ellipse cx="380.5" cy="62.5" rx="4.33" ry="2.67" fill="#7e7e7e" stroke="#111" stroke-width="0.6" transform="rotate(-10 380.5 62.5)"/>
<ellipse cx="380.5" cy="62.5" rx="2.17" ry="1.33" fill="#a8a8a8" stroke="#fff" stroke-width="0.6" transform="rotate(-10 380.5 62.5)"/>
<circle cx="380.5" cy="62.5" r="1.2" fill="#111"/>
<path d="M466.9,65.3 C467.47,63.07 468,61.75 469.4,60.3 C470.8,58.85 472.93,57.38 475.3,56.6 C477.67,55.82 480.82,56.1 483.6,55.6 C486.38,55.1 488.92,54.27 492,53.6 C495.08,52.93 499.15,52.1 502.1,51.6 C505.05,51.1 507.88,50.27 509.7,50.6 C511.52,50.93 512.58,51.43 513,53.6 C513.42,55.77 512.48,60.53 512.2,63.6 C511.92,66.67 511.58,68.63 511.3,72 C511.02,75.37 510.92,80.43 510.5,83.8 C510.08,87.17 509.78,90.38 508.8,92.2 C507.82,94.02 506.27,94.57 504.6,94.7 C502.93,94.83 500.62,94.12 498.8,93 C496.98,91.88 495.38,88.98 493.7,88 C492.02,87.02 490.52,87.25 488.7,87.1 C486.88,86.95 484.77,86.67 482.8,87.1 C480.83,87.53 478.85,89.27 476.9,89.7 C474.95,90.13 472.77,90.68 471.1,89.7 C469.43,88.72 467.75,86.47 466.9,83.8 C466.05,81.13 466,76.78 466,73.7 C466,70.62 466.33,67.53 466.9,65.3Z" fill="#0d0d0d"/>
<path d="M468.29,65.7 C468.82,63.6 469.32,62.36 470.64,61 C471.95,59.64 473.96,58.26 476.18,57.52 C478.41,56.79 481.37,57.05 483.98,56.58 C486.6,56.11 488.98,55.33 491.88,54.7 C494.78,54.08 498.6,53.29 501.37,52.82 C504.15,52.35 506.81,51.57 508.52,51.88 C510.23,52.2 511.23,52.67 511.62,54.7 C512.01,56.74 511.13,61.22 510.87,64.1 C510.6,66.99 510.29,68.84 510.02,72 C509.76,75.16 509.66,79.93 509.27,83.09 C508.88,86.26 508.6,89.28 507.67,90.99 C506.75,92.7 505.29,93.21 503.72,93.34 C502.16,93.46 499.98,92.79 498.27,91.74 C496.56,90.69 495.06,87.96 493.48,87.04 C491.9,86.12 490.49,86.33 488.78,86.19 C487.07,86.05 485.08,85.79 483.23,86.19 C481.38,86.6 479.52,88.23 477.69,88.64 C475.85,89.05 473.8,89.56 472.23,88.64 C470.67,87.71 469.09,85.6 468.29,83.09 C467.49,80.59 467.44,76.5 467.44,73.6 C467.44,70.7 467.75,67.8 468.29,65.7Z" fill="#4a4a4a"/>
<path d="M470.13,66.24 C470.62,64.32 471.08,63.18 472.28,61.94 C473.49,60.69 475.32,59.43 477.36,58.76 C479.39,58.08 482.1,58.33 484.5,57.9 C486.89,57.47 489.07,56.75 491.72,56.18 C494.37,55.6 497.87,54.89 500.41,54.46 C502.94,54.03 505.38,53.31 506.94,53.6 C508.5,53.88 509.42,54.31 509.78,56.18 C510.14,58.04 509.34,62.14 509.09,64.78 C508.85,67.41 508.56,69.1 508.32,72 C508.07,74.9 507.99,79.25 507.63,82.15 C507.27,85.04 507.01,87.81 506.17,89.37 C505.32,90.93 503.99,91.41 502.56,91.52 C501.12,91.64 499.13,91.02 497.57,90.06 C496.01,89.1 494.63,86.61 493.18,85.76 C491.73,84.91 490.44,85.11 488.88,84.99 C487.32,84.86 485.5,84.61 483.81,84.99 C482.12,85.36 480.41,86.85 478.73,87.22 C477.06,87.59 475.18,88.07 473.75,87.22 C472.31,86.38 470.86,84.44 470.13,82.15 C469.4,79.85 469.36,76.11 469.36,73.46 C469.36,70.81 469.65,68.16 470.13,66.24Z" fill="#8a8a8a" stroke="#fff" stroke-width="0.45"/>
<path d="M472.91,67.04 C473.33,65.39 473.72,64.41 474.76,63.34 C475.79,62.27 477.37,61.18 479.12,60.6 C480.87,60.02 483.2,60.23 485.26,59.86 C487.32,59.49 489.2,58.88 491.48,58.38 C493.76,57.89 496.77,57.27 498.95,56.9 C501.14,56.53 503.23,55.92 504.58,56.16 C505.92,56.41 506.71,56.78 507.02,58.38 C507.33,59.99 506.64,63.51 506.43,65.78 C506.22,68.05 505.97,69.51 505.76,72 C505.55,74.49 505.48,78.24 505.17,80.73 C504.86,83.22 504.64,85.6 503.91,86.95 C503.18,88.29 502.04,88.7 500.8,88.8 C499.57,88.9 497.86,88.37 496.51,87.54 C495.17,86.71 493.98,84.57 492.74,83.84 C491.49,83.11 490.38,83.28 489.04,83.17 C487.69,83.06 486.13,82.85 484.67,83.17 C483.22,83.49 481.75,84.78 480.31,85.1 C478.86,85.42 477.25,85.83 476.01,85.1 C474.78,84.37 473.54,82.71 472.91,80.73 C472.28,78.76 472.24,75.54 472.24,73.26 C472.24,70.98 472.49,68.69 472.91,67.04Z" fill="#6a6a6a" stroke="#fff" stroke-width="0.45"/>
<path d="M481,74 C481,76.16 480.51,78.72 479.76,80.47 C479.01,82.21 477.72,83.8 476.51,84.46 C475.3,85.13 473.7,85.13 472.49,84.46 C471.28,83.8 469.99,82.21 469.24,80.47 C468.49,78.72 468,76.16 468,74 C468,71.84 468.49,69.28 469.24,67.53 C469.99,65.79 471.28,64.2 472.49,63.54 C473.7,62.87 475.3,62.87 476.51,63.54 C477.72,64.2 479.01,65.79 479.76,67.53 C480.51,69.28 481,71.84 481,74Z" fill="#bdbdbd" stroke="#fff" stroke-width="0.5"/>
<path d="M479.38,74.12 C479.38,75.74 479.01,77.67 478.44,78.97 C477.88,80.28 476.91,81.47 476.01,81.97 C475.1,82.47 473.9,82.47 472.99,81.97 C472.09,81.47 471.12,80.28 470.56,78.97 C469.99,77.67 469.62,75.74 469.62,74.12 C469.62,72.51 469.99,70.58 470.56,69.28 C471.12,67.97 472.09,66.78 472.99,66.28 C473.9,65.78 475.1,65.78 476.01,66.28 C476.91,66.78 477.88,67.97 478.44,69.28 C479.01,70.58 479.38,72.51 479.38,74.12Z" fill="#9a9a9a" stroke="#fff" stroke-width="0.5"/>
<path d="M477.75,74.25 C477.75,75.33 477.5,76.61 477.13,77.48 C476.76,78.35 476.11,79.15 475.5,79.48 C474.9,79.81 474.1,79.81 473.5,79.48 C472.89,79.15 472.24,78.35 471.87,77.48 C471.5,76.61 471.25,75.33 471.25,74.25 C471.25,73.17 471.5,71.89 471.87,71.02 C472.24,70.15 472.89,69.35 473.5,69.02 C474.1,68.69 474.9,68.69 475.5,69.02 C476.11,69.35 476.76,70.15 477.13,71.02 C477.5,71.89 477.75,73.17 477.75,74.25Z" fill="#cfcfcf" stroke="#fff" stroke-width="0.5"/>
<path d="M476.32,74.36 C476.32,74.96 476.18,75.68 475.97,76.17 C475.76,76.66 475.4,77.1 475.06,77.29 C474.72,77.48 474.28,77.48 473.94,77.29 C473.6,77.1 473.24,76.66 473.03,76.17 C472.82,75.68 472.68,74.96 472.68,74.36 C472.68,73.76 472.82,73.04 473.03,72.55 C473.24,72.06 473.6,71.62 473.94,71.43 C474.28,71.24 474.72,71.24 475.06,71.43 C475.4,71.62 475.76,72.06 475.97,72.55 C476.18,73.04 476.32,73.76 476.32,74.36Z" fill="#333"/>
<path d="M510,62 C510,63.18 509.24,64.58 508.09,65.53 C506.94,66.48 504.95,67.34 503.09,67.71 C501.23,68.07 498.77,68.07 496.91,67.71 C495.05,67.34 493.06,66.48 491.91,65.53 C490.76,64.58 490,63.18 490,62 C490,60.82 490.76,59.42 491.91,58.47 C493.06,57.52 495.05,56.66 496.91,56.29 C498.77,55.93 501.23,55.93 503.09,56.29 C504.95,56.66 506.94,57.52 508.09,58.47 C509.24,59.42 510,60.82 510,62Z" fill="#bdbdbd" stroke="#fff" stroke-width="0.5"/>
<path d="M507.5,62.12 C507.5,63.01 506.93,64.06 506.07,64.77 C505.2,65.48 503.72,66.13 502.32,66.4 C500.92,66.68 499.08,66.68 497.68,66.4 C496.28,66.13 494.8,65.48 493.93,64.77 C493.07,64.06 492.5,63.01 492.5,62.12 C492.5,61.24 493.07,60.19 493.93,59.48 C494.8,58.77 496.28,58.12 497.68,57.85 C499.08,57.57 500.92,57.57 502.32,57.85 C503.72,58.12 505.2,58.77 506.07,59.48 C506.93,60.19 507.5,61.24 507.5,62.12Z" fill="#9a9a9a" stroke="#fff" stroke-width="0.5"/>
<path d="M505,62.25 C505,62.84 504.62,63.54 504.05,64.01 C503.47,64.49 502.48,64.92 501.55,65.1 C500.61,65.28 499.39,65.28 498.45,65.1 C497.52,64.92 496.53,64.49 495.95,64.01 C495.38,63.54 495,62.84 495,62.25 C495,61.66 495.38,60.96 495.95,60.49 C496.53,60.01 497.52,59.58 498.45,59.4 C499.39,59.22 500.61,59.22 501.55,59.4 C502.48,59.58 503.47,60.01 504.05,60.49 C504.62,60.96 505,61.66 505,62.25Z" fill="#cfcfcf" stroke="#fff" stroke-width="0.5"/>
<path d="M502.8,62.36 C502.8,62.69 502.59,63.08 502.27,63.35 C501.94,63.61 501.39,63.86 500.87,63.96 C500.34,64.06 499.66,64.06 499.13,63.96 C498.61,63.86 498.06,63.61 497.73,63.35 C497.41,63.08 497.2,62.69 497.2,62.36 C497.2,62.03 497.41,61.64 497.73,61.37 C498.06,61.11 498.61,60.86 499.13,60.76 C499.66,60.66 500.34,60.66 500.87,60.76 C501.39,60.86 501.94,61.11 502.27,61.37 C502.59,61.64 502.8,62.03 502.8,62.36Z" fill="#333"/>
<path d="M508,80 C508,81.57 507.62,83.43 507.05,84.7 C506.47,85.97 505.48,87.12 504.55,87.61 C503.61,88.09 502.39,88.09 501.45,87.61 C500.52,87.12 499.53,85.97 498.95,84.7 C498.38,83.43 498,81.57 498,80 C498,78.43 498.38,76.57 498.95,75.3 C499.53,74.03 500.52,72.88 501.45,72.39 C502.39,71.91 503.61,71.91 504.55,72.39 C505.48,72.88 506.47,74.03 507.05,75.3 C507.62,76.57 508,78.43 508,80Z" fill="#bdbdbd" stroke="#fff" stroke-width="0.5"/>
<path d="M506.75,80 C506.75,81.18 506.47,82.58 506.03,83.53 C505.6,84.48 504.86,85.34 504.16,85.71 C503.46,86.07 502.54,86.07 501.84,85.71 C501.14,85.34 500.4,84.48 499.97,83.53 C499.53,82.58 499.25,81.18 499.25,80 C499.25,78.82 499.53,77.42 499.97,76.47 C500.4,75.52 501.14,74.66 501.84,74.29 C502.54,73.93 503.46,73.93 504.16,74.29 C504.86,74.66 505.6,75.52 506.03,76.47 C506.47,77.42 506.75,78.82 506.75,80Z" fill="#9a9a9a" stroke="#fff" stroke-width="0.5"/>
<path d="M505.5,80 C505.5,80.78 505.31,81.72 505.02,82.35 C504.73,82.99 504.24,83.56 503.77,83.8 C503.31,84.05 502.69,84.05 502.23,83.8 C501.76,83.56 501.27,82.99 500.98,82.35 C500.69,81.72 500.5,80.78 500.5,80 C500.5,79.22 500.69,78.28 500.98,77.65 C501.27,77.01 501.76,76.44 502.23,76.2 C502.69,75.95 503.31,75.95 503.77,76.2 C504.24,76.44 504.73,77.01 505.02,77.65 C505.31,78.28 505.5,79.22 505.5,80Z" fill="#cfcfcf" stroke="#fff" stroke-width="0.5"/>
<path d="M504.4,80 C504.4,80.44 504.29,80.96 504.13,81.32 C503.97,81.67 503.69,81.99 503.43,82.13 C503.17,82.27 502.83,82.27 502.57,82.13 C502.31,81.99 502.03,81.67 501.87,81.32 C501.71,80.96 501.6,80.44 501.6,80 C501.6,79.56 501.71,79.04 501.87,78.68 C502.03,78.33 502.31,78.01 502.57,77.87 C502.83,77.73 503.17,77.73 503.43,77.87 C503.69,78.01 503.97,78.33 504.13,78.68 C504.29,79.04 504.4,79.56 504.4,80Z" fill="#333"/>
<path d="M496,78 C496,78.98 495.62,80.15 495.05,80.94 C494.47,81.73 493.48,82.45 492.55,82.76 C491.61,83.06 490.39,83.06 489.45,82.76 C488.52,82.45 487.53,81.73 486.95,80.94 C486.38,80.15 486,78.98 486,78 C486,77.02 486.38,75.85 486.95,75.06 C487.53,74.27 488.52,73.55 489.45,73.24 C490.39,72.94 491.61,72.94 492.55,73.24 C493.48,73.55 494.47,74.27 495.05,75.06 C495.62,75.85 496,77.02 496,78Z" fill="#333"/>
<path d="M493.5,78 C493.5,78.49 493.31,79.07 493.02,79.47 C492.73,79.87 492.24,80.23 491.77,80.38 C491.31,80.53 490.69,80.53 490.23,80.38 C489.76,80.23 489.27,79.87 488.98,79.47 C488.69,79.07 488.5,78.49 488.5,78 C488.5,77.51 488.69,76.93 488.98,76.53 C489.27,76.13 489.76,75.77 490.23,75.62 C490.69,75.47 491.31,75.47 491.77,75.62 C492.24,75.77 492.73,76.13 493.02,76.53 C493.31,76.93 493.5,77.51 493.5,78Z" fill="#111"/>
<line x1="382.8" y1="33.4" x2="382.8" y2="122" stroke="#111" stroke-width="0.9"/>
<line x1="355.1" y1="71.2" x2="443.3" y2="71.2" stroke="#111" stroke-width="0.9"/>
<rect x="355.1" y="33.4" width="88.2" height="88.6" fill="none" stroke="#777" stroke-width="0.7"/>
<line x1="484.5" y1="33.4" x2="484.5" y2="122" stroke="#111" stroke-width="0.9"/>
<line x1="457.3" y1="71.2" x2="545.4" y2="71.2" stroke="#111" stroke-width="0.9"/>
<rect x="457.3" y="33.4" width="88.1" height="88.6" fill="none" stroke="#777" stroke-width="0.7"/>
<text x="415" y="55.2" font-size="9" font-weight="normal" fill="#000" text-anchor="start" textLength="14.5" lengthAdjust="spacingAndGlyphs">76.3</text>
<text x="516.6" y="55.2" font-size="9" font-weight="normal" fill="#000" text-anchor="start" textLength="15" lengthAdjust="spacingAndGlyphs">36.0</text>
<text x="566" y="13.1" font-size="13" font-weight="bold" fill="#000" text-anchor="start">C</text>
<text x="617" y="10.6" font-size="12" font-weight="bold" fill="#000" text-anchor="start" textLength="48" lengthAdjust="spacingAndGlyphs">L-GMP%</text>
<line x1="601.7" y1="26.7" x2="601.7" y2="148.4" stroke="#000" stroke-width="1.2"/>
<line x1="597.3" y1="147.8" x2="601.7" y2="147.8" stroke="#000" stroke-width="1.2"/>
<text x="595.1" y="151.13" font-size="9.8" font-weight="bold" fill="#000" text-anchor="end">0</text>
<line x1="597.3" y1="123.7" x2="601.7" y2="123.7" stroke="#000" stroke-width="1.2"/>
<text x="595.1" y="127.03" font-size="9.8" font-weight="bold" fill="#000" text-anchor="end">1</text>
<line x1="597.3" y1="99.6" x2="601.7" y2="99.6" stroke="#000" stroke-width="1.2"/>
<text x="595.1" y="102.93" font-size="9.8" font-weight="bold" fill="#000" text-anchor="end">2</text>
<line x1="597.3" y1="75.5" x2="601.7" y2="75.5" stroke="#000" stroke-width="1.2"/>
<text x="595.1" y="78.83" font-size="9.8" font-weight="bold" fill="#000" text-anchor="end">3</text>
<line x1="597.3" y1="51.4" x2="601.7" y2="51.4" stroke="#000" stroke-width="1.2"/>
<text x="595.1" y="54.73" font-size="9.8" font-weight="bold" fill="#000" text-anchor="end">4</text>
<line x1="597.3" y1="27.3" x2="601.7" y2="27.3" stroke="#000" stroke-width="1.2"/>
<text x="595.1" y="30.63" font-size="9.8" font-weight="bold" fill="#000" text-anchor="end">5</text>
<text x="584" y="86.9" font-size="11" font-weight="bold" fill="#000" text-anchor="middle" textLength="66" lengthAdjust="spacingAndGlyphs" transform="rotate(-90 584 86.9)">Percentage(%)</text>
<line x1="601.7" y1="147.8" x2="681.5" y2="147.8" stroke="#000" stroke-width="1.2"/>
<line x1="624.75" y1="147.8" x2="624.75" y2="152" stroke="#000" stroke-width="1.2"/>
<line x1="658.5" y1="147.8" x2="658.5" y2="152" stroke="#000" stroke-width="1.2"/>
<rect x="613.5" y="54.3" width="22.5" height="93.5" fill="#5fa6fc"/>
<line x1="624.75" y1="54.3" x2="624.75" y2="49.2" stroke="#5fa6fc" stroke-width="0.9"/>
<line x1="619" y1="49.2" x2="630.5" y2="49.2" stroke="#5fa6fc" stroke-width="0.9"/>
<rect x="646.5" y="146.9" width="24.5" height="0.9" fill="#ff2b12"/>
<text x="624.75" y="163.75" font-size="10" font-weight="bold" fill="#000" text-anchor="middle">shNC</text>
<text x="658.5" y="163.75" font-size="10" font-weight="bold" fill="#000" text-anchor="middle">shRpl5</text>
<path d="M622.25,45 V38.25 H654.75 V45" fill="none" stroke="#000" stroke-width="1"/>
<path d="M630.62,31.6L630.62,36.4M628.55,32.8L632.7,35.2M632.7,32.8L628.55,35.2M635.88,31.6L635.88,36.4M633.8,32.8L637.95,35.2M637.95,32.8L633.8,35.2M641.12,31.6L641.12,36.4M639.05,32.8L643.2,35.2M643.2,32.8L639.05,35.2M646.38,31.6L646.38,36.4M644.3,32.8L648.45,35.2M648.45,32.8L644.3,35.2" stroke="#111" stroke-width="0.85" fill="none"/>
<text x="6.7" y="169" font-size="13" font-weight="bold" fill="#000" text-anchor="start">D</text>
<line x1="6.7" y1="187.6" x2="6.7" y2="220.35" stroke="#222" stroke-width="0.8"/>
<line x1="6.7" y1="244.65" x2="6.7" y2="289.5" stroke="#222" stroke-width="0.8"/>
<line x1="6.7" y1="289.5" x2="96.5" y2="289.5" stroke="#222" stroke-width="0.8"/>
<line x1="142.2" y1="289.5" x2="211.6" y2="289.5" stroke="#222" stroke-width="0.8"/>
<text x="10.27" y="232.5" font-size="10.5" font-weight="bold" fill="#000" text-anchor="middle" textLength="19.3" lengthAdjust="spacingAndGlyphs" transform="rotate(-90 10.27 232.5)">SSC</text>
<text x="119" y="294.5" font-size="10.5" font-weight="bold" fill="#000" text-anchor="middle" textLength="36" lengthAdjust="spacingAndGlyphs">Lineage</text>
<line x1="222.8" y1="192.5" x2="222.8" y2="227.45" stroke="#222" stroke-width="0.8"/>
<line x1="222.8" y1="253.75" x2="222.8" y2="290.3" stroke="#222" stroke-width="0.8"/>
<line x1="222.8" y1="290.3" x2="315.5" y2="290.3" stroke="#222" stroke-width="0.8"/>
<line x1="362" y1="290.3" x2="431.5" y2="290.3" stroke="#222" stroke-width="0.8"/>
<text x="226.37" y="240.6" font-size="10.5" font-weight="bold" fill="#000" text-anchor="middle" textLength="21.3" lengthAdjust="spacingAndGlyphs" transform="rotate(-90 226.37 240.6)">Sca-1</text>
<text x="338.75" y="294.5" font-size="10.5" font-weight="bold" fill="#000" text-anchor="middle" textLength="21.5" lengthAdjust="spacingAndGlyphs">c-Kit</text>
<line x1="441.8" y1="191" x2="441.8" y2="215.35" stroke="#222" stroke-width="0.8"/>
<line x1="441.8" y1="259.85" x2="441.8" y2="288.5" stroke="#222" stroke-width="0.8"/>
<line x1="441.8" y1="288.5" x2="529.5" y2="288.5" stroke="#222" stroke-width="0.8"/>
<line x1="576.9" y1="288.5" x2="648.5" y2="288.5" stroke="#222" stroke-width="0.8"/>
<text x="445.37" y="237.6" font-size="10.5" font-weight="bold" fill="#000" text-anchor="middle" textLength="39.5" lengthAdjust="spacingAndGlyphs" transform="rotate(-90 445.37 237.6)">CD16/32</text>
<text x="556.2" y="292.5" font-size="10.5" font-weight="bold" fill="#000" text-anchor="middle" textLength="25.5" lengthAdjust="spacingAndGlyphs">CD34</text>
<text x="72.5" y="184.8" font-size="10" font-weight="bold" fill="#000" text-anchor="middle">shNC</text>
<line x1="24.2" y1="204.4" x2="26.4" y2="204.4" stroke="#333" stroke-width="0.6"/>
<text x="24" y="206.3" font-size="4.5" font-weight="normal" fill="#000" text-anchor="end">900K</text>
<line x1="24.2" y1="224.6" x2="26.4" y2="224.6" stroke="#333" stroke-width="0.6"/>
<text x="24" y="226.5" font-size="4.5" font-weight="normal" fill="#000" text-anchor="end">600K</text>
<line x1="24.2" y1="244.7" x2="26.4" y2="244.7" stroke="#333" stroke-width="0.6"/>
<text x="24" y="246.6" font-size="4.5" font-weight="normal" fill="#000" text-anchor="end">300K</text>
<line x1="24.2" y1="265.4" x2="26.4" y2="265.4" stroke="#333" stroke-width="0.6"/>
<text x="24" y="267.3" font-size="4.5" font-weight="normal" fill="#000" text-anchor="end">0</text>
<line x1="25.3" y1="208.44" x2="26.4" y2="208.44" stroke="#555" stroke-width="0.4"/>
<line x1="25.3" y1="212.48" x2="26.4" y2="212.48" stroke="#555" stroke-width="0.4"/>
<line x1="25.3" y1="216.52" x2="26.4" y2="216.52" stroke="#555" stroke-width="0.4"/>
<line x1="25.3" y1="220.56" x2="26.4" y2="220.56" stroke="#555" stroke-width="0.4"/>
<line x1="25.3" y1="228.62" x2="26.4" y2="228.62" stroke="#555" stroke-width="0.4"/>
<line x1="25.3" y1="232.64" x2="26.4" y2="232.64" stroke="#555" stroke-width="0.4"/>
<line x1="25.3" y1="236.66" x2="26.4" y2="236.66" stroke="#555" stroke-width="0.4"/>
<line x1="25.3" y1="240.68" x2="26.4" y2="240.68" stroke="#555" stroke-width="0.4"/>
<line x1="25.3" y1="248.84" x2="26.4" y2="248.84" stroke="#555" stroke-width="0.4"/>
<line x1="25.3" y1="252.98" x2="26.4" y2="252.98" stroke="#555" stroke-width="0.4"/>
<line x1="25.3" y1="257.12" x2="26.4" y2="257.12" stroke="#555" stroke-width="0.4"/>
<line x1="25.3" y1="261.26" x2="26.4" y2="261.26" stroke="#555" stroke-width="0.4"/>
<line x1="40.8" y1="277.6" x2="40.8" y2="279.8" stroke="#333" stroke-width="0.6"/>
<text x="40.8" y="285.9" font-size="5.5" font-weight="normal" fill="#000" text-anchor="middle">0</text>
<line x1="66.3" y1="277.6" x2="66.3" y2="279.8" stroke="#333" stroke-width="0.6"/>
<text x="66.3" y="285.9" font-size="5.5" font-weight="normal" fill="#000" text-anchor="middle">10<tspan dy="-2.2" font-size="4">4</tspan></text>
<line x1="92" y1="277.6" x2="92" y2="279.8" stroke="#333" stroke-width="0.6"/>
<text x="92" y="285.9" font-size="5.5" font-weight="normal" fill="#000" text-anchor="middle">10<tspan dy="-2.2" font-size="4">6</tspan></text>
<line x1="45.9" y1="277.6" x2="45.9" y2="278.7" stroke="#555" stroke-width="0.4"/>
<line x1="51" y1="277.6" x2="51" y2="278.7" stroke="#555" stroke-width="0.4"/>
<line x1="56.1" y1="277.6" x2="56.1" y2="278.7" stroke="#555" stroke-width="0.4"/>
<line x1="61.2" y1="277.6" x2="61.2" y2="278.7" stroke="#555" stroke-width="0.4"/>
<line x1="71.44" y1="277.6" x2="71.44" y2="278.7" stroke="#555" stroke-width="0.4"/>
<line x1="76.58" y1="277.6" x2="76.58" y2="278.7" stroke="#555" stroke-width="0.4"/>
<line x1="81.72" y1="277.6" x2="81.72" y2="278.7" stroke="#555" stroke-width="0.4"/>
<line x1="86.86" y1="277.6" x2="86.86" y2="278.7" stroke="#555" stroke-width="0.4"/>
<rect x="36.8" y="277.4" width="3" height="1.4" fill="#111"/>
<text x="171.3" y="184.8" font-size="10" font-weight="bold" fill="#000" text-anchor="middle">shRpl5</text>
<line x1="125.3" y1="204.4" x2="127.5" y2="204.4" stroke="#333" stroke-width="0.6"/>
<text x="125.1" y="206.3" font-size="4.5" font-weight="normal" fill="#000" text-anchor="end">900K</text>
<line x1="125.3" y1="224.6" x2="127.5" y2="224.6" stroke="#333" stroke-width="0.6"/>
<text x="125.1" y="226.5" font-size="4.5" font-weight="normal" fill="#000" text-anchor="end">600K</text>
<line x1="125.3" y1="244.7" x2="127.5" y2="244.7" stroke="#333" stroke-width="0.6"/>
<text x="125.1" y="246.6" font-size="4.5" font-weight="normal" fill="#000" text-anchor="end">300K</text>
<line x1="125.3" y1="265.4" x2="127.5" y2="265.4" stroke="#333" stroke-width="0.6"/>
<text x="125.1" y="267.3" font-size="4.5" font-weight="normal" fill="#000" text-anchor="end">0</text>
<line x1="126.4" y1="208.44" x2="127.5" y2="208.44" stroke="#555" stroke-width="0.4"/>
<line x1="126.4" y1="212.48" x2="127.5" y2="212.48" stroke="#555" stroke-width="0.4"/>
<line x1="126.4" y1="216.52" x2="127.5" y2="216.52" stroke="#555" stroke-width="0.4"/>
<line x1="126.4" y1="220.56" x2="127.5" y2="220.56" stroke="#555" stroke-width="0.4"/>
<line x1="126.4" y1="228.62" x2="127.5" y2="228.62" stroke="#555" stroke-width="0.4"/>
<line x1="126.4" y1="232.64" x2="127.5" y2="232.64" stroke="#555" stroke-width="0.4"/>
<line x1="126.4" y1="236.66" x2="127.5" y2="236.66" stroke="#555" stroke-width="0.4"/>
<line x1="126.4" y1="240.68" x2="127.5" y2="240.68" stroke="#555" stroke-width="0.4"/>
<line x1="126.4" y1="248.84" x2="127.5" y2="248.84" stroke="#555" stroke-width="0.4"/>
<line x1="126.4" y1="252.98" x2="127.5" y2="252.98" stroke="#555" stroke-width="0.4"/>
<line x1="126.4" y1="257.12" x2="127.5" y2="257.12" stroke="#555" stroke-width="0.4"/>
<line x1="126.4" y1="261.26" x2="127.5" y2="261.26" stroke="#555" stroke-width="0.4"/>
<line x1="142.7" y1="277.6" x2="142.7" y2="279.8" stroke="#333" stroke-width="0.6"/>
<text x="142.7" y="285.9" font-size="5.5" font-weight="normal" fill="#000" text-anchor="middle">0</text>
<line x1="167.9" y1="277.6" x2="167.9" y2="279.8" stroke="#333" stroke-width="0.6"/>
<text x="167.9" y="285.9" font-size="5.5" font-weight="normal" fill="#000" text-anchor="middle">10<tspan dy="-2.2" font-size="4">4</tspan></text>
<line x1="193.9" y1="277.6" x2="193.9" y2="279.8" stroke="#333" stroke-width="0.6"/>
<text x="193.9" y="285.9" font-size="5.5" font-weight="normal" fill="#000" text-anchor="middle">10<tspan dy="-2.2" font-size="4">6</tspan></text>
<line x1="147.74" y1="277.6" x2="147.74" y2="278.7" stroke="#555" stroke-width="0.4"/>
<line x1="152.78" y1="277.6" x2="152.78" y2="278.7" stroke="#555" stroke-width="0.4"/>
<line x1="157.82" y1="277.6" x2="157.82" y2="278.7" stroke="#555" stroke-width="0.4"/>
<line x1="162.86" y1="277.6" x2="162.86" y2="278.7" stroke="#555" stroke-width="0.4"/>
<line x1="173.1" y1="277.6" x2="173.1" y2="278.7" stroke="#555" stroke-width="0.4"/>
<line x1="178.3" y1="277.6" x2="178.3" y2="278.7" stroke="#555" stroke-width="0.4"/>
<line x1="183.5" y1="277.6" x2="183.5" y2="278.7" stroke="#555" stroke-width="0.4"/>
<line x1="188.7" y1="277.6" x2="188.7" y2="278.7" stroke="#555" stroke-width="0.4"/>
<rect x="138.7" y="277.4" width="3" height="1.4" fill="#111"/>
<path d="M59.6,253.9 C59.6,252.22 60.47,248.63 61.3,246.4 C62.13,244.17 63.35,242.05 64.6,240.5 C65.85,238.95 67.25,238.22 68.8,237.1 C70.35,235.98 72.08,234.97 73.9,233.8 C75.72,232.63 77.75,231.28 79.7,230.1 C81.65,228.92 83.92,227.07 85.6,226.7 C87.28,226.33 88.68,226.58 89.8,227.9 C90.92,229.22 91.73,231.93 92.3,234.6 C92.87,237.27 93.33,240.95 93.2,243.9 C93.07,246.85 92.48,250.07 91.5,252.3 C90.52,254.53 89.12,255.9 87.3,257.3 C85.48,258.7 82.83,260.13 80.6,260.7 C78.37,261.27 76.28,261.13 73.9,260.7 C71.52,260.27 68.4,258.8 66.3,258.1 C64.2,257.4 62.42,257.2 61.3,256.5 C60.18,255.8 59.6,255.58 59.6,253.9Z" fill="#000" stroke="#000" stroke-width="1.4"/>
<path d="M63.02,254.05 C63.02,252.61 63.76,249.52 64.48,247.6 C65.19,245.68 66.24,243.86 67.32,242.53 C68.39,241.2 69.59,240.57 70.93,239.61 C72.26,238.65 73.75,237.77 75.31,236.77 C76.88,235.76 78.63,234.6 80.3,233.59 C81.98,232.57 83.93,230.98 85.38,230.66 C86.82,230.35 88.03,230.56 88.99,231.69 C89.95,232.83 90.65,235.16 91.14,237.46 C91.63,239.75 92.03,242.92 91.91,245.45 C91.8,247.99 91.3,250.76 90.45,252.68 C89.6,254.6 88.4,255.77 86.84,256.98 C85.28,258.18 83,259.41 81.08,259.9 C79.16,260.39 77.36,260.27 75.31,259.9 C73.26,259.53 70.58,258.27 68.78,257.67 C66.97,257.06 65.44,256.89 64.48,256.29 C63.52,255.69 63.02,255.5 63.02,254.05Z" fill="url(#z3g2)"/>
<ellipse cx="78" cy="250.5" rx="12" ry="8" fill="#a8a8a8" stroke="#fff" stroke-width="0.6" transform="rotate(-25 78 250.5)"/>
<ellipse cx="78" cy="250.5" rx="10" ry="6.67" fill="#7e7e7e" stroke="#111" stroke-width="0.6" transform="rotate(-25 78 250.5)"/>
<ellipse cx="78" cy="250.5" rx="8" ry="5.33" fill="#a8a8a8" stroke="#fff" stroke-width="0.6" transform="rotate(-25 78 250.5)"/>
<ellipse cx="78" cy="250.5" rx="6" ry="4" fill="#7e7e7e" stroke="#111" stroke-width="0.6" transform="rotate(-25 78 250.5)"/>
<ellipse cx="78" cy="250.5" rx="4" ry="2.67" fill="#a8a8a8" stroke="#fff" stroke-width="0.6" transform="rotate(-25 78 250.5)"/>
<ellipse cx="78" cy="250.5" rx="2" ry="1.33" fill="#7e7e7e" stroke="#111" stroke-width="0.6" transform="rotate(-25 78 250.5)"/>
<circle cx="78" cy="250.5" r="1.2" fill="#111"/>
<path d="M161.2,256.5 C161.2,255.38 161.92,253.23 162.9,251.4 C163.88,249.57 165.57,247.32 167.1,245.5 C168.63,243.68 170.15,241.75 172.1,240.5 C174.05,239.25 176.42,238.83 178.8,238 C181.18,237.17 184.15,236.07 186.4,235.5 C188.65,234.93 191.05,233.77 192.3,234.6 C193.55,235.43 193.77,237.83 193.9,240.5 C194.03,243.17 193.65,247.93 193.1,250.6 C192.55,253.27 191.87,255.17 190.6,256.5 C189.33,257.83 187.75,258.18 185.5,258.6 C183.25,259.02 179.88,259 177.1,259 C174.32,259 171.17,258.75 168.8,258.6 C166.43,258.45 164.17,258.45 162.9,258.1 C161.63,257.75 161.2,257.62 161.2,256.5Z" fill="#000" stroke="#000" stroke-width="1.4"/>
<path d="M164.95,256.15 C164.95,255.19 165.57,253.34 166.41,251.76 C167.26,250.19 168.71,248.25 170.03,246.69 C171.34,245.13 172.65,243.46 174.33,242.39 C176,241.31 178.04,240.96 180.09,240.24 C182.14,239.52 184.69,238.58 186.62,238.09 C188.56,237.6 190.62,236.6 191.7,237.32 C192.77,238.03 192.96,240.1 193.07,242.39 C193.19,244.68 192.86,248.78 192.39,251.08 C191.91,253.37 191.33,255 190.24,256.15 C189.15,257.3 187.78,257.6 185.85,257.96 C183.91,258.31 181.02,258.3 178.63,258.3 C176.23,258.3 173.52,258.09 171.49,257.96 C169.45,257.83 167.5,257.83 166.41,257.53 C165.32,257.23 164.95,257.11 164.95,256.15Z" fill="url(#z3g3)"/>
<ellipse cx="187.5" cy="249.5" rx="5.5" ry="7" fill="#a8a8a8" stroke="#fff" stroke-width="0.6" transform="rotate(0 187.5 249.5)"/>
<ellipse cx="187.5" cy="249.5" rx="4.12" ry="5.25" fill="#7e7e7e" stroke="#111" stroke-width="0.6" transform="rotate(0 187.5 249.5)"/>
<ellipse cx="187.5" cy="249.5" rx="2.75" ry="3.5" fill="#a8a8a8" stroke="#fff" stroke-width="0.6" transform="rotate(0 187.5 249.5)"/>
<ellipse cx="187.5" cy="249.5" rx="1.38" ry="1.75" fill="#7e7e7e" stroke="#111" stroke-width="0.6" transform="rotate(0 187.5 249.5)"/>
<circle cx="187.5" cy="249.5" r="1.2" fill="#111"/>
<path d="M176.7,254.5 C176.7,254.83 176.54,255.21 176.27,255.5 C176,255.79 175.56,256.07 175.1,256.23 C174.64,256.4 174.03,256.5 173.5,256.5 C172.97,256.5 172.36,256.4 171.9,256.23 C171.44,256.07 171,255.79 170.73,255.5 C170.46,255.21 170.3,254.83 170.3,254.5 C170.3,254.17 170.46,253.79 170.73,253.5 C171,253.21 171.44,252.93 171.9,252.77 C172.36,252.6 172.97,252.5 173.5,252.5 C174.03,252.5 174.64,252.6 175.1,252.77 C175.56,252.93 176,253.21 176.27,253.5 C176.54,253.79 176.7,254.17 176.7,254.5Z" fill="#e8e8e8" stroke="#fff" stroke-width="0.3"/>
<path d="M175.1,254.5 C175.1,254.67 175.02,254.86 174.89,255 C174.75,255.14 174.53,255.28 174.3,255.37 C174.07,255.45 173.77,255.5 173.5,255.5 C173.23,255.5 172.93,255.45 172.7,255.37 C172.47,255.28 172.25,255.14 172.11,255 C171.98,254.86 171.9,254.67 171.9,254.5 C171.9,254.33 171.98,254.14 172.11,254 C172.25,253.86 172.47,253.72 172.7,253.63 C172.93,253.55 173.23,253.5 173.5,253.5 C173.77,253.5 174.07,253.55 174.3,253.63 C174.53,253.72 174.75,253.86 174.89,254 C175.02,254.14 175.1,254.33 175.1,254.5Z" fill="#fff"/>
<rect x="47.5" y="224.2" width="23.8" height="39" fill="none" stroke="#444" stroke-width="0.75"/>
<rect x="149.4" y="223.7" width="23.2" height="39.5" fill="none" stroke="#444" stroke-width="0.75"/>
<rect x="27.4" y="191.5" width="84.7" height="85.1" fill="none" stroke="#777" stroke-width="0.7"/>
<rect x="128.5" y="191.3" width="85.2" height="84.8" fill="none" stroke="#777" stroke-width="0.7"/>
<text x="46.7" y="218.3" font-size="9.5" font-weight="bold" fill="#000" text-anchor="start" textLength="15.1" lengthAdjust="spacingAndGlyphs">11.7</text>
<text x="150" y="217.8" font-size="9.5" font-weight="bold" fill="#000" text-anchor="start" textLength="16.2" lengthAdjust="spacingAndGlyphs">7.98</text>
<text x="285.5" y="184.5" font-size="10" font-weight="bold" fill="#000" text-anchor="middle">shNC</text>
<line x1="240.3" y1="195.75" x2="242.5" y2="195.75" stroke="#333" stroke-width="0.6"/>
<text x="240.1" y="197.65" font-size="5.5" font-weight="normal" fill="#000" text-anchor="end">10<tspan dy="-2.2" font-size="4">6</tspan></text>
<line x1="240.3" y1="216.25" x2="242.5" y2="216.25" stroke="#333" stroke-width="0.6"/>
<text x="240.1" y="218.15" font-size="5.5" font-weight="normal" fill="#000" text-anchor="end">10<tspan dy="-2.2" font-size="4">5</tspan></text>
<line x1="240.3" y1="236.25" x2="242.5" y2="236.25" stroke="#333" stroke-width="0.6"/>
<text x="240.1" y="238.15" font-size="5.5" font-weight="normal" fill="#000" text-anchor="end">10<tspan dy="-2.2" font-size="4">4</tspan></text>
<line x1="240.3" y1="256.75" x2="242.5" y2="256.75" stroke="#333" stroke-width="0.6"/>
<text x="240.1" y="258.65" font-size="5.5" font-weight="normal" fill="#000" text-anchor="end">10<tspan dy="-2.2" font-size="4">3</tspan></text>
<line x1="240.3" y1="274.5" x2="242.5" y2="274.5" stroke="#333" stroke-width="0.6"/>
<text x="240.1" y="276.4" font-size="5.5" font-weight="normal" fill="#000" text-anchor="end">10<tspan dy="-2.2" font-size="4">2</tspan></text>
<line x1="241.4" y1="199.85" x2="242.5" y2="199.85" stroke="#555" stroke-width="0.4"/>
<line x1="241.4" y1="203.95" x2="242.5" y2="203.95" stroke="#555" stroke-width="0.4"/>
<line x1="241.4" y1="208.05" x2="242.5" y2="208.05" stroke="#555" stroke-width="0.4"/>
<line x1="241.4" y1="212.15" x2="242.5" y2="212.15" stroke="#555" stroke-width="0.4"/>
<line x1="241.4" y1="220.25" x2="242.5" y2="220.25" stroke="#555" stroke-width="0.4"/>
<line x1="241.4" y1="224.25" x2="242.5" y2="224.25" stroke="#555" stroke-width="0.4"/>
<line x1="241.4" y1="228.25" x2="242.5" y2="228.25" stroke="#555" stroke-width="0.4"/>
<line x1="241.4" y1="232.25" x2="242.5" y2="232.25" stroke="#555" stroke-width="0.4"/>
<line x1="241.4" y1="240.35" x2="242.5" y2="240.35" stroke="#555" stroke-width="0.4"/>
<line x1="241.4" y1="244.45" x2="242.5" y2="244.45" stroke="#555" stroke-width="0.4"/>
<line x1="241.4" y1="248.55" x2="242.5" y2="248.55" stroke="#555" stroke-width="0.4"/>
<line x1="241.4" y1="252.65" x2="242.5" y2="252.65" stroke="#555" stroke-width="0.4"/>
<line x1="241.4" y1="260.3" x2="242.5" y2="260.3" stroke="#555" stroke-width="0.4"/>
<line x1="241.4" y1="263.85" x2="242.5" y2="263.85" stroke="#555" stroke-width="0.4"/>
<line x1="241.4" y1="267.4" x2="242.5" y2="267.4" stroke="#555" stroke-width="0.4"/>
<line x1="241.4" y1="270.95" x2="242.5" y2="270.95" stroke="#555" stroke-width="0.4"/>
<line x1="254.25" y1="277.25" x2="254.25" y2="279.45" stroke="#333" stroke-width="0.6"/>
<text x="254.25" y="285.55" font-size="5.5" font-weight="normal" fill="#000" text-anchor="middle">-10<tspan dy="-2.2" font-size="4">4</tspan></text>
<line x1="271.5" y1="277.25" x2="271.5" y2="279.45" stroke="#333" stroke-width="0.6"/>
<text x="271.5" y="285.55" font-size="5.5" font-weight="normal" fill="#000" text-anchor="middle">0</text>
<line x1="291" y1="277.25" x2="291" y2="279.45" stroke="#333" stroke-width="0.6"/>
<text x="291" y="285.55" font-size="5.5" font-weight="normal" fill="#000" text-anchor="middle">10<tspan dy="-2.2" font-size="4">4</tspan></text>
<line x1="317.25" y1="277.25" x2="317.25" y2="279.45" stroke="#333" stroke-width="0.6"/>
<text x="317.25" y="285.55" font-size="5.5" font-weight="normal" fill="#000" text-anchor="middle">10<tspan dy="-2.2" font-size="4">6</tspan></text>
<line x1="257.7" y1="277.25" x2="257.7" y2="278.35" stroke="#555" stroke-width="0.4"/>
<line x1="261.15" y1="277.25" x2="261.15" y2="278.35" stroke="#555" stroke-width="0.4"/>
<line x1="264.6" y1="277.25" x2="264.6" y2="278.35" stroke="#555" stroke-width="0.4"/>
<line x1="268.05" y1="277.25" x2="268.05" y2="278.35" stroke="#555" stroke-width="0.4"/>
<line x1="275.4" y1="277.25" x2="275.4" y2="278.35" stroke="#555" stroke-width="0.4"/>
<line x1="279.3" y1="277.25" x2="279.3" y2="278.35" stroke="#555" stroke-width="0.4"/>
<line x1="283.2" y1="277.25" x2="283.2" y2="278.35" stroke="#555" stroke-width="0.4"/>
<line x1="287.1" y1="277.25" x2="287.1" y2="278.35" stroke="#555" stroke-width="0.4"/>
<line x1="296.25" y1="277.25" x2="296.25" y2="278.35" stroke="#555" stroke-width="0.4"/>
<line x1="301.5" y1="277.25" x2="301.5" y2="278.35" stroke="#555" stroke-width="0.4"/>
<line x1="306.75" y1="277.25" x2="306.75" y2="278.35" stroke="#555" stroke-width="0.4"/>
<line x1="312" y1="277.25" x2="312" y2="278.35" stroke="#555" stroke-width="0.4"/>
<rect x="268.5" y="277.2" width="4" height="1.4" fill="#111"/>
<text x="384" y="184.5" font-size="10" font-weight="bold" fill="#000" text-anchor="middle">shRpl5</text>
<line x1="343.05" y1="195.75" x2="345.25" y2="195.75" stroke="#333" stroke-width="0.6"/>
<text x="342.85" y="197.65" font-size="5.5" font-weight="normal" fill="#000" text-anchor="end">10<tspan dy="-2.2" font-size="4">6</tspan></text>
<line x1="343.05" y1="216.25" x2="345.25" y2="216.25" stroke="#333" stroke-width="0.6"/>
<text x="342.85" y="218.15" font-size="5.5" font-weight="normal" fill="#000" text-anchor="end">10<tspan dy="-2.2" font-size="4">5</tspan></text>
<line x1="343.05" y1="236.25" x2="345.25" y2="236.25" stroke="#333" stroke-width="0.6"/>
<text x="342.85" y="238.15" font-size="5.5" font-weight="normal" fill="#000" text-anchor="end">10<tspan dy="-2.2" font-size="4">4</tspan></text>
<line x1="343.05" y1="256.75" x2="345.25" y2="256.75" stroke="#333" stroke-width="0.6"/>
<text x="342.85" y="258.65" font-size="5.5" font-weight="normal" fill="#000" text-anchor="end">10<tspan dy="-2.2" font-size="4">3</tspan></text>
<line x1="343.05" y1="274.5" x2="345.25" y2="274.5" stroke="#333" stroke-width="0.6"/>
<text x="342.85" y="276.4" font-size="5.5" font-weight="normal" fill="#000" text-anchor="end">10<tspan dy="-2.2" font-size="4">2</tspan></text>
<line x1="344.15" y1="199.85" x2="345.25" y2="199.85" stroke="#555" stroke-width="0.4"/>
<line x1="344.15" y1="203.95" x2="345.25" y2="203.95" stroke="#555" stroke-width="0.4"/>
<line x1="344.15" y1="208.05" x2="345.25" y2="208.05" stroke="#555" stroke-width="0.4"/>
<line x1="344.15" y1="212.15" x2="345.25" y2="212.15" stroke="#555" stroke-width="0.4"/>
<line x1="344.15" y1="220.25" x2="345.25" y2="220.25" stroke="#555" stroke-width="0.4"/>
<line x1="344.15" y1="224.25" x2="345.25" y2="224.25" stroke="#555" stroke-width="0.4"/>
<line x1="344.15" y1="228.25" x2="345.25" y2="228.25" stroke="#555" stroke-width="0.4"/>
<line x1="344.15" y1="232.25" x2="345.25" y2="232.25" stroke="#555" stroke-width="0.4"/>
<line x1="344.15" y1="240.35" x2="345.25" y2="240.35" stroke="#555" stroke-width="0.4"/>
<line x1="344.15" y1="244.45" x2="345.25" y2="244.45" stroke="#555" stroke-width="0.4"/>
<line x1="344.15" y1="248.55" x2="345.25" y2="248.55" stroke="#555" stroke-width="0.4"/>
<line x1="344.15" y1="252.65" x2="345.25" y2="252.65" stroke="#555" stroke-width="0.4"/>
<line x1="344.15" y1="260.3" x2="345.25" y2="260.3" stroke="#555" stroke-width="0.4"/>
<line x1="344.15" y1="263.85" x2="345.25" y2="263.85" stroke="#555" stroke-width="0.4"/>
<line x1="344.15" y1="267.4" x2="345.25" y2="267.4" stroke="#555" stroke-width="0.4"/>
<line x1="344.15" y1="270.95" x2="345.25" y2="270.95" stroke="#555" stroke-width="0.4"/>
<line x1="357" y1="277.25" x2="357" y2="279.45" stroke="#333" stroke-width="0.6"/>
<text x="357" y="285.55" font-size="5.5" font-weight="normal" fill="#000" text-anchor="middle">-10<tspan dy="-2.2" font-size="4">4</tspan></text>
<line x1="374" y1="277.25" x2="374" y2="279.45" stroke="#333" stroke-width="0.6"/>
<text x="374" y="285.55" font-size="5.5" font-weight="normal" fill="#000" text-anchor="middle">0</text>
<line x1="393.25" y1="277.25" x2="393.25" y2="279.45" stroke="#333" stroke-width="0.6"/>
<text x="393.25" y="285.55" font-size="5.5" font-weight="normal" fill="#000" text-anchor="middle">10<tspan dy="-2.2" font-size="4">4</tspan></text>
<line x1="418.25" y1="277.25" x2="418.25" y2="279.45" stroke="#333" stroke-width="0.6"/>
<text x="418.25" y="285.55" font-size="5.5" font-weight="normal" fill="#000" text-anchor="middle">10<tspan dy="-2.2" font-size="4">6</tspan></text>
<line x1="360.4" y1="277.25" x2="360.4" y2="278.35" stroke="#555" stroke-width="0.4"/>
<line x1="363.8" y1="277.25" x2="363.8" y2="278.35" stroke="#555" stroke-width="0.4"/>
<line x1="367.2" y1="277.25" x2="367.2" y2="278.35" stroke="#555" stroke-width="0.4"/>
<line x1="370.6" y1="277.25" x2="370.6" y2="278.35" stroke="#555" stroke-width="0.4"/>
<line x1="377.85" y1="277.25" x2="377.85" y2="278.35" stroke="#555" stroke-width="0.4"/>
<line x1="381.7" y1="277.25" x2="381.7" y2="278.35" stroke="#555" stroke-width="0.4"/>
<line x1="385.55" y1="277.25" x2="385.55" y2="278.35" stroke="#555" stroke-width="0.4"/>
<line x1="389.4" y1="277.25" x2="389.4" y2="278.35" stroke="#555" stroke-width="0.4"/>
<line x1="398.25" y1="277.25" x2="398.25" y2="278.35" stroke="#555" stroke-width="0.4"/>
<line x1="403.25" y1="277.25" x2="403.25" y2="278.35" stroke="#555" stroke-width="0.4"/>
<line x1="408.25" y1="277.25" x2="408.25" y2="278.35" stroke="#555" stroke-width="0.4"/>
<line x1="413.25" y1="277.25" x2="413.25" y2="278.35" stroke="#555" stroke-width="0.4"/>
<rect x="371" y="277.2" width="4" height="1.4" fill="#111"/>
<path d="M287.66,220.21 C287.89,221.07 287.82,222.13 287.46,223.01 C287.1,223.9 286.37,224.86 285.52,225.54 C284.67,226.22 283.48,226.82 282.37,227.12 C281.26,227.42 279.93,227.5 278.86,227.33 C277.78,227.16 276.67,226.7 275.91,226.11 C275.16,225.52 274.56,224.64 274.34,223.79 C274.11,222.93 274.18,221.87 274.54,220.99 C274.9,220.1 275.63,219.14 276.48,218.46 C277.33,217.78 278.52,217.18 279.63,216.88 C280.74,216.58 282.07,216.5 283.14,216.67 C284.22,216.84 285.33,217.3 286.09,217.89 C286.84,218.48 287.44,219.36 287.66,220.21Z" fill="#111"/>
<path d="M286.82,220.56 C287.01,221.28 286.94,222.18 286.64,222.94 C286.34,223.69 285.71,224.5 284.99,225.08 C284.27,225.67 283.26,226.17 282.32,226.43 C281.37,226.68 280.24,226.75 279.33,226.6 C278.41,226.46 277.47,226.07 276.83,225.57 C276.19,225.06 275.68,224.32 275.48,223.59 C275.29,222.87 275.36,221.97 275.66,221.21 C275.96,220.46 276.59,219.65 277.31,219.07 C278.03,218.48 279.04,217.98 279.98,217.72 C280.93,217.47 282.06,217.4 282.97,217.55 C283.89,217.69 284.83,218.08 285.47,218.58 C286.11,219.09 286.62,219.83 286.82,220.56Z" fill="#777" stroke="#fff" stroke-width="0.4"/>
<path d="M285.68,221.01 C285.83,221.57 285.78,222.26 285.55,222.83 C285.32,223.41 284.84,224.03 284.29,224.48 C283.74,224.92 282.96,225.31 282.24,225.5 C281.52,225.7 280.66,225.75 279.96,225.64 C279.26,225.53 278.53,225.23 278.04,224.84 C277.55,224.46 277.17,223.89 277.02,223.34 C276.87,222.78 276.92,222.09 277.15,221.52 C277.38,220.94 277.86,220.32 278.41,219.87 C278.96,219.43 279.74,219.04 280.46,218.85 C281.18,218.65 282.04,218.6 282.74,218.71 C283.44,218.82 284.17,219.12 284.66,219.51 C285.15,219.89 285.53,220.46 285.68,221.01Z" fill="#aaa" stroke="#222" stroke-width="0.4"/>
<path d="M284.55,221.47 C284.65,221.86 284.62,222.33 284.46,222.73 C284.3,223.13 283.97,223.56 283.58,223.87 C283.2,224.18 282.67,224.44 282.17,224.58 C281.67,224.71 281.07,224.75 280.58,224.67 C280.1,224.6 279.6,224.39 279.26,224.12 C278.92,223.86 278.65,223.46 278.55,223.08 C278.45,222.69 278.48,222.22 278.64,221.82 C278.8,221.42 279.13,220.99 279.52,220.68 C279.9,220.37 280.43,220.11 280.93,219.97 C281.43,219.84 282.03,219.8 282.52,219.88 C283,219.95 283.5,220.16 283.84,220.43 C284.18,220.69 284.45,221.09 284.55,221.47Z" fill="#ddd" stroke="#fff" stroke-width="0.4"/>
<path d="M283.42,221.93 C283.47,222.14 283.45,222.41 283.36,222.63 C283.28,222.85 283.09,223.09 282.88,223.26 C282.67,223.43 282.37,223.58 282.09,223.65 C281.82,223.73 281.48,223.75 281.21,223.71 C280.94,223.66 280.67,223.55 280.48,223.4 C280.29,223.25 280.14,223.03 280.08,222.82 C280.03,222.61 280.05,222.34 280.14,222.12 C280.22,221.9 280.41,221.66 280.62,221.49 C280.83,221.32 281.13,221.17 281.41,221.1 C281.68,221.02 282.02,221 282.29,221.04 C282.56,221.09 282.83,221.2 283.02,221.35 C283.21,221.5 283.36,221.72 283.42,221.93Z" fill="#444"/>
<path d="M262,250 C262.17,247.83 262.83,245.05 265,243.5 C267.17,241.95 270.83,241.2 275,240.7 C279.17,240.2 286.33,240.12 290,240.5 C293.67,240.88 295.45,241.58 297,243 C298.55,244.42 299.63,247 299.3,249 C298.97,251 297.38,253.47 295,255 C292.62,256.53 288.83,257.57 285,258.2 C281.17,258.83 275.5,259.08 272,258.8 C268.5,258.52 265.67,257.97 264,256.5 C262.33,255.03 261.83,252.17 262,250Z" fill="#000" stroke="#000" stroke-width="1.4"/>
<path d="M263.8,249.82 C263.95,247.83 264.57,245.27 266.56,243.84 C268.55,242.42 271.93,241.73 275.76,241.27 C279.59,240.81 286.19,240.73 289.56,241.08 C292.93,241.44 294.57,242.08 296,243.38 C297.43,244.69 298.42,247.06 298.12,248.9 C297.81,250.74 296.35,253.01 294.16,254.42 C291.97,255.83 288.49,256.79 284.96,257.37 C281.43,257.95 276.22,258.18 273,257.92 C269.78,257.66 267.17,257.15 265.64,255.8 C264.11,254.45 263.65,251.82 263.8,249.82Z" fill="url(#z3g4)"/>
<ellipse cx="281.5" cy="248" rx="15" ry="6.5" fill="#a8a8a8" stroke="#fff" stroke-width="0.6" transform="rotate(0 281.5 248)"/>
<ellipse cx="281.5" cy="248" rx="12.5" ry="5.42" fill="#7e7e7e" stroke="#111" stroke-width="0.6" transform="rotate(0 281.5 248)"/>
<ellipse cx="281.5" cy="248" rx="10" ry="4.33" fill="#a8a8a8" stroke="#fff" stroke-width="0.6" transform="rotate(0 281.5 248)"/>
<ellipse cx="281.5" cy="248" rx="7.5" ry="3.25" fill="#7e7e7e" stroke="#111" stroke-width="0.6" transform="rotate(0 281.5 248)"/>
<ellipse cx="281.5" cy="248" rx="5" ry="2.17" fill="#a8a8a8" stroke="#fff" stroke-width="0.6" transform="rotate(0 281.5 248)"/>
<ellipse cx="281.5" cy="248" rx="2.5" ry="1.08" fill="#7e7e7e" stroke="#111" stroke-width="0.6" transform="rotate(0 281.5 248)"/>
<circle cx="281.5" cy="248" r="1.2" fill="#111"/>
<path d="M397.21,219.8 C397.45,220.32 397.49,221.01 397.3,221.64 C397.11,222.27 396.66,223 396.1,223.57 C395.54,224.14 394.72,224.72 393.94,225.08 C393.15,225.45 392.19,225.71 391.39,225.77 C390.59,225.83 389.74,225.71 389.14,225.44 C388.54,225.18 388.03,224.71 387.79,224.2 C387.55,223.68 387.51,222.99 387.7,222.36 C387.89,221.73 388.34,221 388.9,220.43 C389.46,219.86 390.28,219.28 391.06,218.92 C391.85,218.55 392.81,218.29 393.61,218.23 C394.41,218.17 395.26,218.29 395.86,218.56 C396.46,218.82 396.97,219.29 397.21,219.8Z" fill="#111"/>
<path d="M396.27,220.24 C396.46,220.65 396.49,221.21 396.34,221.71 C396.19,222.21 395.83,222.8 395.38,223.26 C394.93,223.72 394.28,224.17 393.65,224.47 C393.02,224.76 392.25,224.97 391.61,225.01 C390.97,225.06 390.29,224.96 389.81,224.76 C389.33,224.55 388.92,224.17 388.73,223.76 C388.54,223.35 388.51,222.79 388.66,222.29 C388.81,221.79 389.17,221.2 389.62,220.74 C390.07,220.28 390.72,219.83 391.35,219.53 C391.98,219.24 392.75,219.03 393.39,218.99 C394.03,218.94 394.71,219.04 395.19,219.24 C395.67,219.45 396.08,219.83 396.27,220.24Z" fill="#888" stroke="#fff" stroke-width="0.4"/>
<path d="M394.86,220.9 C394.98,221.16 394.99,221.5 394.9,221.82 C394.81,222.13 394.58,222.5 394.3,222.78 C394.02,223.07 393.61,223.36 393.22,223.54 C392.83,223.72 392.34,223.85 391.94,223.88 C391.54,223.91 391.12,223.85 390.82,223.72 C390.52,223.59 390.26,223.36 390.14,223.1 C390.02,222.84 390.01,222.5 390.1,222.18 C390.19,221.87 390.42,221.5 390.7,221.22 C390.98,220.93 391.39,220.64 391.78,220.46 C392.17,220.28 392.66,220.15 393.06,220.12 C393.46,220.09 393.88,220.15 394.18,220.28 C394.48,220.41 394.74,220.64 394.86,220.9Z" fill="#ddd"/>
<path d="M362,251 C361.92,248.7 362.5,246.12 364.5,244.5 C366.5,242.88 369.92,241.88 374,241.3 C378.08,240.72 384.83,240.92 389,241 C393.17,241.08 396.78,240.63 399,241.8 C401.22,242.97 402.05,245.63 402.3,248 C402.55,250.37 402.55,254.17 400.5,256 C398.45,257.83 394.25,258.17 390,259 C385.75,259.83 379.17,261.12 375,261 C370.83,260.88 367.17,259.97 365,258.3 C362.83,256.63 362.08,253.3 362,251Z" fill="#000" stroke="#000" stroke-width="1.4"/>
<path d="M363.26,250.97 C363.18,248.83 363.72,246.42 365.58,244.92 C367.44,243.42 370.62,242.49 374.42,241.94 C378.22,241.4 384.5,241.59 388.37,241.66 C392.25,241.74 395.61,241.32 397.67,242.41 C399.73,243.49 400.51,245.97 400.74,248.18 C400.97,250.38 400.97,253.91 399.06,255.62 C397.16,257.32 393.25,257.63 389.3,258.4 C385.35,259.18 379.23,260.37 375.35,260.26 C371.48,260.16 368.06,259.3 366.05,257.75 C364.04,256.2 363.34,253.1 363.26,250.97Z" fill="url(#z3g5)"/>
<ellipse cx="368" cy="249.5" rx="5.5" ry="5.5" fill="#a8a8a8" stroke="#fff" stroke-width="0.6" transform="rotate(0 368 249.5)"/>
<ellipse cx="368" cy="249.5" rx="4.12" ry="4.12" fill="#7e7e7e" stroke="#111" stroke-width="0.6" transform="rotate(0 368 249.5)"/>
<ellipse cx="368" cy="249.5" rx="2.75" ry="2.75" fill="#a8a8a8" stroke="#fff" stroke-width="0.6" transform="rotate(0 368 249.5)"/>
<ellipse cx="368" cy="249.5" rx="1.38" ry="1.38" fill="#7e7e7e" stroke="#111" stroke-width="0.6" transform="rotate(0 368 249.5)"/>
<circle cx="368" cy="249.5" r="1.2" fill="#111"/>
<ellipse cx="386.5" cy="248.5" rx="8.5" ry="5" fill="#a8a8a8" stroke="#fff" stroke-width="0.6" transform="rotate(0 386.5 248.5)"/>
<ellipse cx="386.5" cy="248.5" rx="6.38" ry="3.75" fill="#7e7e7e" stroke="#111" stroke-width="0.6" transform="rotate(0 386.5 248.5)"/>
<ellipse cx="386.5" cy="248.5" rx="4.25" ry="2.5" fill="#a8a8a8" stroke="#fff" stroke-width="0.6" transform="rotate(0 386.5 248.5)"/>
<ellipse cx="386.5" cy="248.5" rx="2.12" ry="1.25" fill="#7e7e7e" stroke="#111" stroke-width="0.6" transform="rotate(0 386.5 248.5)"/>
<circle cx="386.5" cy="248.5" r="1.2" fill="#111"/>
<rect x="283.5" y="236.25" width="19.25" height="22.5" fill="none" stroke="#444" stroke-width="0.75"/>
<rect x="386.5" y="236.25" width="19.25" height="22.5" fill="none" stroke="#444" stroke-width="0.75"/>
<rect x="243.5" y="191.25" width="85" height="85" fill="none" stroke="#777" stroke-width="0.7"/>
<rect x="346.25" y="191.75" width="85.25" height="84.5" fill="none" stroke="#777" stroke-width="0.7"/>
<text x="295.25" y="230.5" font-size="9.5" font-weight="bold" fill="#000" text-anchor="start" textLength="17" lengthAdjust="spacingAndGlyphs">39.6</text>
<text x="397.5" y="232" font-size="9.5" font-weight="bold" fill="#000" text-anchor="start" textLength="17" lengthAdjust="spacingAndGlyphs">21.8</text>
<text x="499.6" y="183.5" font-size="10" font-weight="bold" fill="#000" text-anchor="middle">shNC</text>
<line x1="458.3" y1="193.5" x2="460.5" y2="193.5" stroke="#333" stroke-width="0.6"/>
<text x="458.1" y="195.4" font-size="5.5" font-weight="normal" fill="#000" text-anchor="end">10<tspan dy="-2.2" font-size="4">6</tspan></text>
<line x1="458.3" y1="210" x2="460.5" y2="210" stroke="#333" stroke-width="0.6"/>
<text x="458.1" y="211.9" font-size="5.5" font-weight="normal" fill="#000" text-anchor="end">10<tspan dy="-2.2" font-size="4">5</tspan></text>
<line x1="458.3" y1="227.4" x2="460.5" y2="227.4" stroke="#333" stroke-width="0.6"/>
<text x="458.1" y="229.3" font-size="5.5" font-weight="normal" fill="#000" text-anchor="end">10<tspan dy="-2.2" font-size="4">4</tspan></text>
<line x1="458.3" y1="247.2" x2="460.5" y2="247.2" stroke="#333" stroke-width="0.6"/>
<text x="458.1" y="249.1" font-size="5.5" font-weight="normal" fill="#000" text-anchor="end">10<tspan dy="-2.2" font-size="4">3</tspan></text>
<line x1="458.3" y1="258.1" x2="460.5" y2="258.1" stroke="#333" stroke-width="0.6"/>
<text x="458.1" y="260" font-size="5.5" font-weight="normal" fill="#000" text-anchor="end">0</text>
<line x1="458.3" y1="270.7" x2="460.5" y2="270.7" stroke="#333" stroke-width="0.6"/>
<text x="458.1" y="272.6" font-size="5.5" font-weight="normal" fill="#000" text-anchor="end">-10<tspan dy="-2.2" font-size="4">3</tspan></text>
<line x1="459.4" y1="196.8" x2="460.5" y2="196.8" stroke="#555" stroke-width="0.4"/>
<line x1="459.4" y1="200.1" x2="460.5" y2="200.1" stroke="#555" stroke-width="0.4"/>
<line x1="459.4" y1="203.4" x2="460.5" y2="203.4" stroke="#555" stroke-width="0.4"/>
<line x1="459.4" y1="206.7" x2="460.5" y2="206.7" stroke="#555" stroke-width="0.4"/>
<line x1="459.4" y1="213.48" x2="460.5" y2="213.48" stroke="#555" stroke-width="0.4"/>
<line x1="459.4" y1="216.96" x2="460.5" y2="216.96" stroke="#555" stroke-width="0.4"/>
<line x1="459.4" y1="220.44" x2="460.5" y2="220.44" stroke="#555" stroke-width="0.4"/>
<line x1="459.4" y1="223.92" x2="460.5" y2="223.92" stroke="#555" stroke-width="0.4"/>
<line x1="459.4" y1="231.36" x2="460.5" y2="231.36" stroke="#555" stroke-width="0.4"/>
<line x1="459.4" y1="235.32" x2="460.5" y2="235.32" stroke="#555" stroke-width="0.4"/>
<line x1="459.4" y1="239.28" x2="460.5" y2="239.28" stroke="#555" stroke-width="0.4"/>
<line x1="459.4" y1="243.24" x2="460.5" y2="243.24" stroke="#555" stroke-width="0.4"/>
<line x1="459.4" y1="249.38" x2="460.5" y2="249.38" stroke="#555" stroke-width="0.4"/>
<line x1="459.4" y1="251.56" x2="460.5" y2="251.56" stroke="#555" stroke-width="0.4"/>
<line x1="459.4" y1="253.74" x2="460.5" y2="253.74" stroke="#555" stroke-width="0.4"/>
<line x1="459.4" y1="255.92" x2="460.5" y2="255.92" stroke="#555" stroke-width="0.4"/>
<line x1="459.4" y1="260.62" x2="460.5" y2="260.62" stroke="#555" stroke-width="0.4"/>
<line x1="459.4" y1="263.14" x2="460.5" y2="263.14" stroke="#555" stroke-width="0.4"/>
<line x1="459.4" y1="265.66" x2="460.5" y2="265.66" stroke="#555" stroke-width="0.4"/>
<line x1="459.4" y1="268.18" x2="460.5" y2="268.18" stroke="#555" stroke-width="0.4"/>
<line x1="479.4" y1="275.9" x2="479.4" y2="278.1" stroke="#333" stroke-width="0.6"/>
<text x="479.4" y="284.2" font-size="5.5" font-weight="normal" fill="#000" text-anchor="middle">0</text>
<line x1="507.1" y1="275.9" x2="507.1" y2="278.1" stroke="#333" stroke-width="0.6"/>
<text x="507.1" y="284.2" font-size="5.5" font-weight="normal" fill="#000" text-anchor="middle">10<tspan dy="-2.2" font-size="4">4</tspan></text>
<line x1="522.3" y1="275.9" x2="522.3" y2="278.1" stroke="#333" stroke-width="0.6"/>
<text x="522.3" y="284.2" font-size="5.5" font-weight="normal" fill="#000" text-anchor="middle">10<tspan dy="-2.2" font-size="4">5</tspan></text>
<line x1="537" y1="275.9" x2="537" y2="278.1" stroke="#333" stroke-width="0.6"/>
<text x="537" y="284.2" font-size="5.5" font-weight="normal" fill="#000" text-anchor="middle">10<tspan dy="-2.2" font-size="4">6</tspan></text>
<line x1="484.94" y1="275.9" x2="484.94" y2="277" stroke="#555" stroke-width="0.4"/>
<line x1="490.48" y1="275.9" x2="490.48" y2="277" stroke="#555" stroke-width="0.4"/>
<line x1="496.02" y1="275.9" x2="496.02" y2="277" stroke="#555" stroke-width="0.4"/>
<line x1="501.56" y1="275.9" x2="501.56" y2="277" stroke="#555" stroke-width="0.4"/>
<line x1="510.14" y1="275.9" x2="510.14" y2="277" stroke="#555" stroke-width="0.4"/>
<line x1="513.18" y1="275.9" x2="513.18" y2="277" stroke="#555" stroke-width="0.4"/>
<line x1="516.22" y1="275.9" x2="516.22" y2="277" stroke="#555" stroke-width="0.4"/>
<line x1="519.26" y1="275.9" x2="519.26" y2="277" stroke="#555" stroke-width="0.4"/>
<line x1="525.24" y1="275.9" x2="525.24" y2="277" stroke="#555" stroke-width="0.4"/>
<line x1="528.18" y1="275.9" x2="528.18" y2="277" stroke="#555" stroke-width="0.4"/>
<line x1="531.12" y1="275.9" x2="531.12" y2="277" stroke="#555" stroke-width="0.4"/>
<line x1="534.06" y1="275.9" x2="534.06" y2="277" stroke="#555" stroke-width="0.4"/>
<rect x="458.5" y="256.9" width="2" height="2.4" fill="#111"/>
<rect x="476.4" y="275.8" width="4" height="1.4" fill="#111"/>
<text x="598.4" y="183.5" font-size="10" font-weight="bold" fill="#000" text-anchor="middle">shRpl5</text>
<line x1="561.6" y1="194.8" x2="563.8" y2="194.8" stroke="#333" stroke-width="0.6"/>
<text x="561.4" y="196.7" font-size="5.5" font-weight="normal" fill="#000" text-anchor="end">10<tspan dy="-2.2" font-size="4">6</tspan></text>
<line x1="561.6" y1="210.3" x2="563.8" y2="210.3" stroke="#333" stroke-width="0.6"/>
<text x="561.4" y="212.2" font-size="5.5" font-weight="normal" fill="#000" text-anchor="end">10<tspan dy="-2.2" font-size="4">5</tspan></text>
<line x1="561.6" y1="227.9" x2="563.8" y2="227.9" stroke="#333" stroke-width="0.6"/>
<text x="561.4" y="229.8" font-size="5.5" font-weight="normal" fill="#000" text-anchor="end">10<tspan dy="-2.2" font-size="4">4</tspan></text>
<line x1="561.6" y1="247.2" x2="563.8" y2="247.2" stroke="#333" stroke-width="0.6"/>
<text x="561.4" y="249.1" font-size="5.5" font-weight="normal" fill="#000" text-anchor="end">10<tspan dy="-2.2" font-size="4">3</tspan></text>
<line x1="561.6" y1="259" x2="563.8" y2="259" stroke="#333" stroke-width="0.6"/>
<text x="561.4" y="260.9" font-size="5.5" font-weight="normal" fill="#000" text-anchor="end">0</text>
<line x1="561.6" y1="271.2" x2="563.8" y2="271.2" stroke="#333" stroke-width="0.6"/>
<text x="561.4" y="273.1" font-size="5.5" font-weight="normal" fill="#000" text-anchor="end">-10<tspan dy="-2.2" font-size="4">3</tspan></text>
<line x1="562.7" y1="197.9" x2="563.8" y2="197.9" stroke="#555" stroke-width="0.4"/>
<line x1="562.7" y1="201" x2="563.8" y2="201" stroke="#555" stroke-width="0.4"/>
<line x1="562.7" y1="204.1" x2="563.8" y2="204.1" stroke="#555" stroke-width="0.4"/>
<line x1="562.7" y1="207.2" x2="563.8" y2="207.2" stroke="#555" stroke-width="0.4"/>
<line x1="562.7" y1="213.82" x2="563.8" y2="213.82" stroke="#555" stroke-width="0.4"/>
<line x1="562.7" y1="217.34" x2="563.8" y2="217.34" stroke="#555" stroke-width="0.4"/>
<line x1="562.7" y1="220.86" x2="563.8" y2="220.86" stroke="#555" stroke-width="0.4"/>
<line x1="562.7" y1="224.38" x2="563.8" y2="224.38" stroke="#555" stroke-width="0.4"/>
<line x1="562.7" y1="231.76" x2="563.8" y2="231.76" stroke="#555" stroke-width="0.4"/>
<line x1="562.7" y1="235.62" x2="563.8" y2="235.62" stroke="#555" stroke-width="0.4"/>
<line x1="562.7" y1="239.48" x2="563.8" y2="239.48" stroke="#555" stroke-width="0.4"/>
<line x1="562.7" y1="243.34" x2="563.8" y2="243.34" stroke="#555" stroke-width="0.4"/>
<line x1="562.7" y1="249.56" x2="563.8" y2="249.56" stroke="#555" stroke-width="0.4"/>
<line x1="562.7" y1="251.92" x2="563.8" y2="251.92" stroke="#555" stroke-width="0.4"/>
<line x1="562.7" y1="254.28" x2="563.8" y2="254.28" stroke="#555" stroke-width="0.4"/>
<line x1="562.7" y1="256.64" x2="563.8" y2="256.64" stroke="#555" stroke-width="0.4"/>
<line x1="562.7" y1="261.44" x2="563.8" y2="261.44" stroke="#555" stroke-width="0.4"/>
<line x1="562.7" y1="263.88" x2="563.8" y2="263.88" stroke="#555" stroke-width="0.4"/>
<line x1="562.7" y1="266.32" x2="563.8" y2="266.32" stroke="#555" stroke-width="0.4"/>
<line x1="562.7" y1="268.76" x2="563.8" y2="268.76" stroke="#555" stroke-width="0.4"/>
<line x1="581.9" y1="275.9" x2="581.9" y2="278.1" stroke="#333" stroke-width="0.6"/>
<text x="581.9" y="284.2" font-size="5.5" font-weight="normal" fill="#000" text-anchor="middle">0</text>
<line x1="609.6" y1="275.9" x2="609.6" y2="278.1" stroke="#333" stroke-width="0.6"/>
<text x="609.6" y="284.2" font-size="5.5" font-weight="normal" fill="#000" text-anchor="middle">10<tspan dy="-2.2" font-size="4">4</tspan></text>
<line x1="625.2" y1="275.9" x2="625.2" y2="278.1" stroke="#333" stroke-width="0.6"/>
<text x="625.2" y="284.2" font-size="5.5" font-weight="normal" fill="#000" text-anchor="middle">10<tspan dy="-2.2" font-size="4">5</tspan></text>
<line x1="640.4" y1="275.9" x2="640.4" y2="278.1" stroke="#333" stroke-width="0.6"/>
<text x="640.4" y="284.2" font-size="5.5" font-weight="normal" fill="#000" text-anchor="middle">10<tspan dy="-2.2" font-size="4">6</tspan></text>
<line x1="587.44" y1="275.9" x2="587.44" y2="277" stroke="#555" stroke-width="0.4"/>
<line x1="592.98" y1="275.9" x2="592.98" y2="277" stroke="#555" stroke-width="0.4"/>
<line x1="598.52" y1="275.9" x2="598.52" y2="277" stroke="#555" stroke-width="0.4"/>
<line x1="604.06" y1="275.9" x2="604.06" y2="277" stroke="#555" stroke-width="0.4"/>
<line x1="612.72" y1="275.9" x2="612.72" y2="277" stroke="#555" stroke-width="0.4"/>
<line x1="615.84" y1="275.9" x2="615.84" y2="277" stroke="#555" stroke-width="0.4"/>
<line x1="618.96" y1="275.9" x2="618.96" y2="277" stroke="#555" stroke-width="0.4"/>
<line x1="622.08" y1="275.9" x2="622.08" y2="277" stroke="#555" stroke-width="0.4"/>
<line x1="628.24" y1="275.9" x2="628.24" y2="277" stroke="#555" stroke-width="0.4"/>
<line x1="631.28" y1="275.9" x2="631.28" y2="277" stroke="#555" stroke-width="0.4"/>
<line x1="634.32" y1="275.9" x2="634.32" y2="277" stroke="#555" stroke-width="0.4"/>
<line x1="637.36" y1="275.9" x2="637.36" y2="277" stroke="#555" stroke-width="0.4"/>
<rect x="561.8" y="257.8" width="2" height="2.4" fill="#111"/>
<rect x="578.9" y="275.8" width="4" height="1.4" fill="#111"/>
<path d="M482,234.6 C482.28,232.22 483.1,231 484.5,229.6 C485.9,228.2 488.17,227.03 490.4,226.2 C492.63,225.37 495.12,225.07 497.9,224.6 C500.68,224.13 504.43,223.27 507.1,223.4 C509.77,223.53 512.5,224.08 513.9,225.4 C515.3,226.72 515.5,229.2 515.5,231.3 C515.5,233.4 514.87,235.9 513.9,238 C512.93,240.1 511.38,242.22 509.7,243.9 C508.02,245.58 505.77,247.27 503.8,248.1 C501.83,248.93 499.58,249.18 497.9,248.9 C496.22,248.62 494.95,246.82 493.7,246.4 C492.45,245.98 491.8,246.12 490.4,246.4 C489,246.68 486.7,248.1 485.3,248.1 C483.9,248.1 482.42,247.1 482,246.4 C481.58,245.7 482.8,245.87 482.8,243.9 C482.8,241.93 481.72,236.98 482,234.6Z" fill="#000" stroke="#000" stroke-width="1.4"/>
<path d="M484.1,234.24 C484.36,232.09 485.09,231 486.35,229.74 C487.61,228.48 489.65,227.43 491.66,226.68 C493.67,225.93 495.9,225.66 498.41,225.24 C500.91,224.82 504.29,224.04 506.69,224.16 C509.09,224.28 511.55,224.78 512.81,225.96 C514.07,227.15 514.25,229.38 514.25,231.27 C514.25,233.16 513.68,235.41 512.81,237.3 C511.94,239.19 510.54,241.1 509.03,242.61 C507.51,244.12 505.49,245.64 503.72,246.39 C501.95,247.14 499.92,247.37 498.41,247.11 C496.89,246.86 495.75,245.24 494.63,244.86 C493.5,244.49 492.92,244.61 491.66,244.86 C490.4,245.12 488.33,246.39 487.07,246.39 C485.81,246.39 484.48,245.49 484.1,244.86 C483.73,244.23 484.82,244.38 484.82,242.61 C484.82,240.84 483.85,236.39 484.1,234.24Z" fill="url(#z3g6)"/>
<ellipse cx="503.5" cy="232.4" rx="9" ry="6.5" fill="#a8a8a8" stroke="#fff" stroke-width="0.6" transform="rotate(-5 503.5 232.4)"/>
<ellipse cx="503.5" cy="232.4" rx="6.75" ry="4.88" fill="#7e7e7e" stroke="#111" stroke-width="0.6" transform="rotate(-5 503.5 232.4)"/>
<ellipse cx="503.5" cy="232.4" rx="4.5" ry="3.25" fill="#a8a8a8" stroke="#fff" stroke-width="0.6" transform="rotate(-5 503.5 232.4)"/>
<ellipse cx="503.5" cy="232.4" rx="2.25" ry="1.62" fill="#7e7e7e" stroke="#111" stroke-width="0.6" transform="rotate(-5 503.5 232.4)"/>
<circle cx="503.5" cy="232.4" r="1.2" fill="#111"/>
<path d="M482,244 C482.67,243.25 484.67,242.42 486,242.5 C487.33,242.58 488.75,243.83 490,244.5 C491.25,245.17 493.5,245.92 493.5,246.5 C493.5,247.08 491.42,247.65 490,248 C488.58,248.35 486.33,248.77 485,248.6 C483.67,248.43 482.5,247.77 482,247 C481.5,246.23 481.33,244.75 482,244Z" fill="#0a0a0a"/>
<path d="M576.1,238.8 C576.52,236.85 576.58,234.62 577.7,233 C578.82,231.38 580.83,229.95 582.8,229.1 C584.77,228.25 587.13,227.95 589.5,227.9 C591.87,227.85 594.77,228.6 597,228.8 C599.23,229 601.35,228.55 602.9,229.1 C604.45,229.65 605.65,230.77 606.3,232.1 C606.95,233.43 607.08,235.42 606.8,237.1 C606.52,238.78 605.95,240.8 604.6,242.2 C603.25,243.6 600.52,244.1 598.7,245.5 C596.88,246.9 595.52,248.92 593.7,250.6 C591.88,252.28 589.62,254.9 587.8,255.6 C585.98,256.3 584.48,255.63 582.8,254.8 C581.12,253.97 578.97,252.28 577.7,250.6 C576.43,248.92 575.47,246.67 575.2,244.7 C574.93,242.73 575.68,240.75 576.1,238.8Z" fill="#000" stroke="#000" stroke-width="1.4"/>
<path d="M576.74,238.8 C577.13,236.99 577.19,234.91 578.23,233.41 C579.27,231.9 581.15,230.57 582.97,229.78 C584.8,228.99 587,228.71 589.21,228.66 C591.41,228.62 594.1,229.31 596.18,229.5 C598.26,229.69 600.23,229.27 601.67,229.78 C603.11,230.29 604.23,231.33 604.83,232.57 C605.43,233.81 605.56,235.65 605.29,237.22 C605.03,238.78 604.5,240.66 603.25,241.96 C601.99,243.26 599.45,243.73 597.76,245.03 C596.07,246.33 594.8,248.21 593.11,249.77 C591.42,251.34 589.31,253.77 587.62,254.42 C585.94,255.08 584.54,254.46 582.97,253.68 C581.41,252.91 579.41,251.34 578.23,249.77 C577.05,248.21 576.16,246.12 575.91,244.29 C575.66,242.46 576.36,240.61 576.74,238.8Z" fill="url(#z3g7)"/>
<ellipse cx="587" cy="239.5" rx="10.5" ry="9" fill="#a8a8a8" stroke="#fff" stroke-width="0.6" transform="rotate(0 587 239.5)"/>
<ellipse cx="587" cy="239.5" rx="8.75" ry="7.5" fill="#7e7e7e" stroke="#111" stroke-width="0.6" transform="rotate(0 587 239.5)"/>
<ellipse cx="587" cy="239.5" rx="7" ry="6" fill="#a8a8a8" stroke="#fff" stroke-width="0.6" transform="rotate(0 587 239.5)"/>
<ellipse cx="587" cy="239.5" rx="5.25" ry="4.5" fill="#7e7e7e" stroke="#111" stroke-width="0.6" transform="rotate(0 587 239.5)"/>
<ellipse cx="587" cy="239.5" rx="3.5" ry="3" fill="#a8a8a8" stroke="#fff" stroke-width="0.6" transform="rotate(0 587 239.5)"/>
<ellipse cx="587" cy="239.5" rx="1.75" ry="1.5" fill="#7e7e7e" stroke="#111" stroke-width="0.6" transform="rotate(0 587 239.5)"/>
<circle cx="587" cy="239.5" r="1.2" fill="#111"/>
<rect x="497.6" y="219.9" width="38.9" height="22.6" fill="none" stroke="#444" stroke-width="0.75"/>
<rect x="600.4" y="220" width="38.9" height="22.5" fill="none" stroke="#444" stroke-width="0.75"/>
<rect x="461.5" y="189.8" width="85.6" height="85.1" fill="none" stroke="#777" stroke-width="0.7"/>
<rect x="564.8" y="190.1" width="85.1" height="84.8" fill="none" stroke="#777" stroke-width="0.7"/>
<text x="508.8" y="215.7" font-size="9.5" font-weight="bold" fill="#000" text-anchor="start" textLength="16" lengthAdjust="spacingAndGlyphs">78.2</text>
<text x="604.6" y="216.2" font-size="9.5" font-weight="bold" fill="#000" text-anchor="start" textLength="16.3" lengthAdjust="spacingAndGlyphs">4.03</text>
<text x="7.1" y="321.1" font-size="13" font-weight="bold" fill="#000" text-anchor="start">E</text>
<text x="65" y="332.3" font-size="10" font-weight="bold" fill="#000" text-anchor="middle">shNC-1</text>
<text x="65" y="426.5" font-size="10" font-weight="bold" fill="#000" text-anchor="middle">shRpl5-1</text>
<text x="174.25" y="332.3" font-size="10" font-weight="bold" fill="#000" text-anchor="middle">shNC-2</text>
<text x="174.25" y="426.5" font-size="10" font-weight="bold" fill="#000" text-anchor="middle">shRpl5-2</text>
<text x="283.12" y="332.3" font-size="10" font-weight="bold" fill="#000" text-anchor="middle">shNC-3</text>
<text x="283.12" y="426.5" font-size="10" font-weight="bold" fill="#000" text-anchor="middle">shRpl5-3</text>
<g clip-path="url(#clipE1)">
<rect x="12" y="336.25" width="106" height="78.75" fill="url(#gE1)"/>
<ellipse cx="30" cy="400" rx="62" ry="62" fill="url(#sw0)" opacity="0.9"/>
<ellipse cx="22" cy="352" rx="38" ry="38" fill="url(#sw1)" opacity="0.5"/>
<ellipse cx="52" cy="370" rx="24" ry="40" fill="url(#sw2)" opacity="0.45"/>
<rect x="12" y="336.25" width="106" height="78.75" fill="#000" filter="url(#grain)" opacity="0.1"/>
<ellipse cx="23.6" cy="367" rx="13" ry="12.38" fill="url(#halo)" filter="url(#speck)" opacity="0.25"/>
<ellipse cx="23.6" cy="367" rx="10.5" ry="10" fill="url(#col3)" filter="url(#rough)" opacity="0.9"/>
<ellipse cx="97" cy="380" rx="23" ry="23" fill="url(#halo)" filter="url(#speck)" opacity="0.5"/>
<ellipse cx="101.5" cy="372" rx="9" ry="8" fill="url(#col4)" filter="url(#rough)" opacity="0.75"/>
<ellipse cx="97.5" cy="389" rx="10" ry="8.5" fill="url(#col5)" filter="url(#rough)" opacity="0.9"/>
<ellipse cx="40" cy="412" rx="8" ry="8" fill="url(#halo)" filter="url(#speck)" opacity="0.2"/>
<ellipse cx="88" cy="403" rx="6" ry="6" fill="url(#halo)" filter="url(#speck)" opacity="0.22"/>
<rect x="109" y="411.8" width="5" height="0.6" fill="#555" opacity="0.6"/>
</g>
<g clip-path="url(#clipE2)">
<rect x="121.25" y="336.25" width="106" height="78.75" fill="url(#gE2)"/>
<rect x="121.25" y="336.25" width="106" height="78.75" fill="#000" filter="url(#grain)" opacity="0.12"/>
<ellipse cx="147.9" cy="339.1" rx="7" ry="5.73" fill="url(#halo)" filter="url(#speck)" opacity="0.28"/>
<ellipse cx="147.9" cy="339.1" rx="5.5" ry="4.5" fill="url(#col6)" filter="url(#rough)" opacity="0.95"/>
<ellipse cx="145.5" cy="348.1" rx="6" ry="5.33" fill="url(#halo)" filter="url(#speck)" opacity="0.28"/>
<ellipse cx="145.5" cy="348.1" rx="4.5" ry="4" fill="url(#col7)" filter="url(#rough)" opacity="0.5"/>
<ellipse cx="140" cy="390" rx="22" ry="22" fill="url(#halo)" filter="url(#speck)" opacity="0.45"/>
<ellipse cx="134.3" cy="376.6" rx="6.5" ry="6.5" fill="url(#col8)" filter="url(#rough)" opacity="0.85"/>
<ellipse cx="147.9" cy="403" rx="16" ry="14.67" fill="url(#halo)" filter="url(#speck)" opacity="0.45"/>
<ellipse cx="147.9" cy="403" rx="12" ry="11" fill="url(#col9)" filter="url(#rough)" opacity="0.92"/>
<ellipse cx="192.1" cy="346.8" rx="8" ry="7.2" fill="url(#halo)" filter="url(#speck)" opacity="0.34"/>
<ellipse cx="192.1" cy="346.8" rx="5" ry="4.5" fill="url(#col10)" filter="url(#rough)" opacity="0.55"/>
<ellipse cx="202.5" cy="370.9" rx="6.5" ry="6" fill="url(#col11)" filter="url(#rough)" opacity="0.9"/>
<ellipse cx="198" cy="378" rx="12" ry="12" fill="url(#halo)" filter="url(#speck)" opacity="0.34"/>
<ellipse cx="174.4" cy="362.6" rx="5" ry="5" fill="url(#halo)" filter="url(#speck)" opacity="0.22"/>
<ellipse cx="174.4" cy="362.6" rx="3" ry="3" fill="url(#col12)" filter="url(#rough)" opacity="0.8"/>
<ellipse cx="164.8" cy="373.3" rx="6" ry="6" fill="url(#halo)" filter="url(#speck)" opacity="0.22"/>
<ellipse cx="164.8" cy="373.3" rx="5" ry="5" fill="url(#col13)" filter="url(#rough)" opacity="0.35"/>
<rect x="218.25" y="411.8" width="5" height="0.6" fill="#555" opacity="0.6"/>
</g>
<g clip-path="url(#clipE3)">
<rect x="230.25" y="336.25" width="105.75" height="78.75" fill="url(#gE3)"/>
<rect x="230.25" y="336.25" width="105.75" height="78.75" fill="#000" filter="url(#grain)" opacity="0.12"/>
<ellipse cx="276.2" cy="342.8" rx="11" ry="9.71" fill="url(#halo)" filter="url(#speck)" opacity="0.34"/>
<ellipse cx="276.2" cy="342.8" rx="8.5" ry="7.5" fill="url(#col14)" filter="url(#rough)" opacity="0.92"/>
<ellipse cx="301" cy="349" rx="14" ry="11.2" fill="url(#halo)" filter="url(#speck)" opacity="0.39"/>
<ellipse cx="301" cy="349" rx="10" ry="8" fill="url(#col15)" filter="url(#rough)" opacity="0.6"/>
<ellipse cx="312" cy="382" rx="17" ry="10.07" fill="url(#halo)" filter="url(#speck)" opacity="0.48"/>
<ellipse cx="312" cy="382" rx="13.5" ry="8" fill="url(#col4)" filter="url(#rough)" opacity="0.7"/>
<ellipse cx="249" cy="400" rx="22" ry="22" fill="url(#halo)" filter="url(#speck)" opacity="0.45"/>
<ellipse cx="247" cy="401" rx="14" ry="12" fill="url(#col6)" filter="url(#rough)" opacity="0.92"/>
<ellipse cx="264" cy="402" rx="10" ry="8.57" fill="url(#halo)" filter="url(#speck)" opacity="0.34"/>
<ellipse cx="264" cy="402" rx="7" ry="6" fill="url(#col12)" filter="url(#rough)" opacity="0.5"/>
<ellipse cx="236.8" cy="358.9" rx="3" ry="3" fill="url(#halo)" filter="url(#speck)" opacity="0.17"/>
<ellipse cx="236.8" cy="358.9" rx="1.8" ry="1.8" fill="url(#col16)" filter="url(#rough)" opacity="0.6"/>
<rect x="327" y="411.8" width="5" height="0.6" fill="#555" opacity="0.6"/>
</g>
<g clip-path="url(#clipE4)">
<rect x="12" y="431.25" width="106" height="78.75" fill="url(#gE4)"/>
<rect x="12" y="431.25" width="106" height="78.75" fill="#000" filter="url(#grain2)" opacity="0.2"/>
<circle cx="73.15" cy="485.76" r="0.45" fill="#3a3040" opacity="0.5"/>
<circle cx="81.76" cy="497.8" r="0.45" fill="#3a3040" opacity="0.5"/>
<circle cx="78.99" cy="496.59" r="0.45" fill="#3a3040" opacity="0.5"/>
<circle cx="43.45" cy="469.19" r="0.45" fill="#3a3040" opacity="0.5"/>
<circle cx="89.17" cy="480.19" r="0.45" fill="#3a3040" opacity="0.5"/>
<circle cx="87.05" cy="448.04" r="0.45" fill="#3a3040" opacity="0.5"/>
<circle cx="65.45" cy="456.04" r="0.45" fill="#3a3040" opacity="0.5"/>
<circle cx="69.19" cy="475.69" r="0.45" fill="#3a3040" opacity="0.5"/>
<circle cx="42.66" cy="454.25" r="0.45" fill="#3a3040" opacity="0.5"/>
<circle cx="55.97" cy="496.23" r="0.45" fill="#3a3040" opacity="0.5"/>
<circle cx="80.29" cy="450.83" r="0.45" fill="#3a3040" opacity="0.5"/>
<circle cx="81.86" cy="449.58" r="0.45" fill="#3a3040" opacity="0.5"/>
<circle cx="72.87" cy="448.85" r="0.45" fill="#3a3040" opacity="0.5"/>
<circle cx="42.09" cy="493.53" r="0.45" fill="#3a3040" opacity="0.5"/>
<rect x="109" y="506.8" width="5" height="0.6" fill="#555" opacity="0.6"/>
</g>
<g clip-path="url(#clipE5)">
<rect x="121.25" y="431.25" width="106" height="78.75" fill="url(#gE5)"/>
<rect x="121.25" y="431.25" width="106" height="78.75" fill="#000" filter="url(#grain2)" opacity="0.2"/>
<circle cx="214" cy="470" r="0.45" fill="#3a3040" opacity="0.5"/>
<circle cx="216" cy="476" r="0.45" fill="#3a3040" opacity="0.5"/>
<circle cx="212" cy="488" r="0.45" fill="#3a3040" opacity="0.5"/>
<rect x="218.25" y="506.8" width="5" height="0.6" fill="#555" opacity="0.6"/>
</g>
<g clip-path="url(#clipE6)">
<rect x="230.25" y="431.25" width="105.75" height="78.75" fill="url(#gE6)"/>
<rect x="230.25" y="431.25" width="105.75" height="78.75" fill="#000" filter="url(#grain2)" opacity="0.2"/>
<circle cx="282" cy="465" r="0.45" fill="#3a3040" opacity="0.5"/>
<circle cx="320" cy="448" r="0.45" fill="#3a3040" opacity="0.5"/>
<rect x="327" y="506.8" width="5" height="0.6" fill="#555" opacity="0.6"/>
</g>
<text x="431.75" y="345" font-size="12" font-weight="bold" fill="#000" text-anchor="middle" textLength="102" lengthAdjust="spacingAndGlyphs">Colony Forming Unit</text>
<text x="583.6" y="345" font-size="12" font-weight="bold" fill="#000" text-anchor="middle" textLength="103.2" lengthAdjust="spacingAndGlyphs">Colony Forming Unit</text>
<line x1="398.25" y1="357.65" x2="398.25" y2="478.85" stroke="#000" stroke-width="1.2"/>
<line x1="393.85" y1="478.25" x2="398.25" y2="478.25" stroke="#000" stroke-width="1.2"/>
<text x="391.65" y="481.58" font-size="9.8" font-weight="bold" fill="#000" text-anchor="end">0</text>
<line x1="393.85" y1="448.25" x2="398.25" y2="448.25" stroke="#000" stroke-width="1.2"/>
<text x="391.65" y="451.58" font-size="9.8" font-weight="bold" fill="#000" text-anchor="end">100</text>
<line x1="393.85" y1="418.25" x2="398.25" y2="418.25" stroke="#000" stroke-width="1.2"/>
<text x="391.65" y="421.58" font-size="9.8" font-weight="bold" fill="#000" text-anchor="end">200</text>
<line x1="393.85" y1="388.25" x2="398.25" y2="388.25" stroke="#000" stroke-width="1.2"/>
<text x="391.65" y="391.58" font-size="9.8" font-weight="bold" fill="#000" text-anchor="end">300</text>
<line x1="393.85" y1="358.25" x2="398.25" y2="358.25" stroke="#000" stroke-width="1.2"/>
<text x="391.65" y="361.58" font-size="9.8" font-weight="bold" fill="#000" text-anchor="end">400</text>
<text x="371.5" y="417.5" font-size="11" font-weight="bold" fill="#000" text-anchor="middle" textLength="67.5" lengthAdjust="spacingAndGlyphs" transform="rotate(-90 371.5 417.5)">Colony number</text>
<line x1="398.25" y1="478.25" x2="478.25" y2="478.25" stroke="#000" stroke-width="1.2"/>
<line x1="421.25" y1="478.25" x2="421.25" y2="482.45" stroke="#000" stroke-width="1.2"/>
<line x1="455.75" y1="478.25" x2="455.75" y2="482.45" stroke="#000" stroke-width="1.2"/>
<rect x="410" y="396.25" width="22.5" height="82" fill="#5fa6fc"/>
<line x1="421.25" y1="396.25" x2="421.25" y2="393.25" stroke="#5fa6fc" stroke-width="0.9"/>
<line x1="415.6" y1="393.25" x2="426.9" y2="393.25" stroke="#5fa6fc" stroke-width="0.9"/>
<text x="421.25" y="494" font-size="10" font-weight="bold" fill="#000" text-anchor="middle">shNC</text>
<text x="455.75" y="494" font-size="10" font-weight="bold" fill="#000" text-anchor="middle">shRpl5</text>
<path d="M421.25,387 V380.75 H450.75 V387" fill="none" stroke="#000" stroke-width="1"/>
<path d="M428.12,373.1L428.12,377.9M426.05,374.3L430.2,376.7M430.2,374.3L426.05,376.7M433.38,373.1L433.38,377.9M431.3,374.3L435.45,376.7M435.45,374.3L431.3,376.7M438.62,373.1L438.62,377.9M436.55,374.3L440.7,376.7M440.7,374.3L436.55,376.7M443.88,373.1L443.88,377.9M441.8,374.3L445.95,376.7M445.95,374.3L441.8,376.7" stroke="#111" stroke-width="0.85" fill="none"/>
<line x1="543.4" y1="360.5" x2="543.4" y2="481.7" stroke="#000" stroke-width="1.2"/>
<line x1="539" y1="481.1" x2="543.4" y2="481.1" stroke="#000" stroke-width="1.2"/>
<text x="536.8" y="484.43" font-size="9.8" font-weight="bold" fill="#000" text-anchor="end">0</text>
<line x1="539" y1="441.1" x2="543.4" y2="441.1" stroke="#000" stroke-width="1.2"/>
<text x="536.8" y="444.43" font-size="9.8" font-weight="bold" fill="#000" text-anchor="end">50</text>
<line x1="539" y1="401.1" x2="543.4" y2="401.1" stroke="#000" stroke-width="1.2"/>
<text x="536.8" y="404.43" font-size="9.8" font-weight="bold" fill="#000" text-anchor="end">100</text>
<line x1="539" y1="361.1" x2="543.4" y2="361.1" stroke="#000" stroke-width="1.2"/>
<text x="536.8" y="364.43" font-size="9.8" font-weight="bold" fill="#000" text-anchor="end">150</text>
<text x="516.5" y="420.3" font-size="9.5" font-weight="bold" text-anchor="middle" transform="rotate(-90 516.5 420.3)" textLength="88.5" lengthAdjust="spacingAndGlyphs">Cell number (×10<tspan dy="-3" font-size="6">4</tspan><tspan dy="3">)</tspan></text>
<line x1="543.4" y1="481.1" x2="624" y2="481.1" stroke="#000" stroke-width="1.2"/>
<line x1="566" y1="481.1" x2="566" y2="485.3" stroke="#000" stroke-width="1.2"/>
<line x1="600.25" y1="481.1" x2="600.25" y2="485.3" stroke="#000" stroke-width="1.2"/>
<rect x="554.75" y="400.5" width="23" height="80.6" fill="#5fa6fc"/>
<line x1="566.25" y1="400.5" x2="566.25" y2="391.75" stroke="#5fa6fc" stroke-width="0.9"/>
<line x1="560.4" y1="391.75" x2="572.1" y2="391.75" stroke="#5fa6fc" stroke-width="0.9"/>
<rect x="589" y="478" width="23" height="3.1" fill="#ff2b12"/>
<text x="566" y="496.5" font-size="10" font-weight="bold" fill="#000" text-anchor="middle">shNC</text>
<text x="600.25" y="496.5" font-size="10" font-weight="bold" fill="#000" text-anchor="middle">shRpl5</text>
<path d="M566,388.6 V386.25 H594 V388.6" fill="none" stroke="#000" stroke-width="1"/>
<path d="M574.75,378.35L574.75,383.15M572.67,379.55L576.83,381.95M576.83,379.55L572.67,381.95M580,378.35L580,383.15M577.92,379.55L582.08,381.95M582.08,379.55L577.92,381.95M585.25,378.35L585.25,383.15M583.17,379.55L587.33,381.95M587.33,379.55L583.17,381.95" stroke="#111" stroke-width="0.85" fill="none"/>
<text x="7.8" y="549" font-size="13" font-weight="bold" fill="#000" text-anchor="start">F</text>
<g transform="translate(0 0)" stroke="#111" stroke-width="0.7">
<path d="M63.5,604 L79.2,593.4" stroke="#6b5030" stroke-width="2.2" fill="none" stroke-linecap="round"/>
<path d="M63.5,604 L79.2,593.4" stroke="#d2a878" stroke-width="1.2" fill="none" stroke-linecap="round"/>
<path d="M38,613.6 Q44,606 52.5,611.5 L53.6,613.6 Z" fill="#8b4a1f"/>
<path d="M54.6,613.6 L55.6,611.5 Q63,606 68.4,613.6 Z" fill="#8b4a1f"/>
<ellipse cx="53.4" cy="599.2" rx="11.9" ry="13.8" fill="#8b4a1f"/>
<ellipse cx="47.7" cy="596" rx="2.8" ry="4.3" fill="#8b4a1f"/>
<ellipse cx="59" cy="596" rx="2.8" ry="4.3" fill="#8b4a1f"/>
<circle cx="38.7" cy="568.6" r="7.7" fill="#8b4a1f"/>
<circle cx="67.8" cy="568.2" r="7.7" fill="#8b4a1f"/>
<ellipse cx="38.6" cy="568.8" rx="4.2" ry="5.3" fill="#f29aae" stroke="none" transform="rotate(-20 38.6 568.8)"/>
<ellipse cx="67.9" cy="568.4" rx="4.2" ry="5.3" fill="#f29aae" stroke="none" transform="rotate(20 67.9 568.4)"/>
<ellipse cx="53.5" cy="576" rx="13.6" ry="12" fill="#8b4a1f"/>
<circle cx="49.2" cy="573.8" r="1" fill="#111" stroke="none"/>
<circle cx="57.8" cy="573.8" r="1" fill="#111" stroke="none"/>
<path d="M51.3,579.6 L56.5,579.6 L54,583.2 Z" fill="#f2a0b4" stroke="none"/>
<path d="M50,581 L38.5,578.5 M50,582 L38.5,582.5 M58,581 L69,578.5 M58,582 L69,582.5" stroke="#333" stroke-width="0.35" fill="none"/>
</g>
<g transform="translate(223.7 4)" stroke="#111" stroke-width="0.7">
<path d="M63.5,604 L79.2,593.4" stroke="#6b5030" stroke-width="2.2" fill="none" stroke-linecap="round"/>
<path d="M63.5,604 L79.2,593.4" stroke="#d2a878" stroke-width="1.2" fill="none" stroke-linecap="round"/>
<path d="M38,613.6 Q44,606 52.5,611.5 L53.6,613.6 Z" fill="#8b4a1f"/>
<path d="M54.6,613.6 L55.6,611.5 Q63,606 68.4,613.6 Z" fill="#8b4a1f"/>
<ellipse cx="53.4" cy="599.2" rx="11.9" ry="13.8" fill="#8b4a1f"/>
<ellipse cx="47.7" cy="596" rx="2.8" ry="4.3" fill="#8b4a1f"/>
<ellipse cx="59" cy="596" rx="2.8" ry="4.3" fill="#8b4a1f"/>
<circle cx="38.7" cy="568.6" r="7.7" fill="#8b4a1f"/>
<circle cx="67.8" cy="568.2" r="7.7" fill="#8b4a1f"/>
<ellipse cx="38.6" cy="568.8" rx="4.2" ry="5.3" fill="#f29aae" stroke="none" transform="rotate(-20 38.6 568.8)"/>
<ellipse cx="67.9" cy="568.4" rx="4.2" ry="5.3" fill="#f29aae" stroke="none" transform="rotate(20 67.9 568.4)"/>
<ellipse cx="53.5" cy="576" rx="13.6" ry="12" fill="#8b4a1f"/>
<circle cx="49.2" cy="573.8" r="1" fill="#111" stroke="none"/>
<circle cx="57.8" cy="573.8" r="1" fill="#111" stroke="none"/>
<path d="M51.3,579.6 L56.5,579.6 L54,583.2 Z" fill="#f2a0b4" stroke="none"/>
<path d="M50,581 L38.5,578.5 M50,582 L38.5,582.5 M58,581 L69,578.5 M58,582 L69,582.5" stroke="#333" stroke-width="0.35" fill="none"/>
</g>
<text x="55" y="625.7" font-size="9" font-weight="bold" fill="#000" text-anchor="middle" textLength="55" lengthAdjust="spacingAndGlyphs">Primary AML</text>
<text x="55" y="637.2" font-size="9" font-weight="bold" fill="#000" text-anchor="middle" textLength="84" lengthAdjust="spacingAndGlyphs">shNC or shRpl5 Mice</text>
<line x1="85.2" y1="593.3" x2="104" y2="593.3" stroke="#000" stroke-width="1.3"/>
<path d="M100.5,596.5 L105.5,593.3 L100.5,590.1" fill="none" stroke="#000" stroke-width="1.3" stroke-linejoin="miter"/>
<text x="107.1" y="560.4" font-size="9" font-weight="bold" fill="#000" text-anchor="start" textLength="74.2" lengthAdjust="spacingAndGlyphs">Stem Cell Isolation</text>
<line x1="143.1" y1="568.7" x2="155.92" y2="581.15" stroke="#000" stroke-width="1.3"/>
<path d="M151.18,581.01 L157,582.2 L155.64,576.42" fill="none" stroke="#000" stroke-width="1.3" stroke-linejoin="miter"/>
<rect x="159.4" y="566.6" width="16.6" height="15" fill="url(#mag)" rx="1.2"/>
<rect x="162" y="572.5" width="10" height="1.5" fill="#e8b0d8" opacity="0.6"/>
<circle cx="114.4" cy="590.2" r="4.2" fill="#f7a51f" stroke="#e07a10" stroke-width="0.5"/>
<ellipse cx="114.4" cy="590.2" rx="2.44" ry="2.1" fill="#e8231a"/>
<circle cx="121.6" cy="586.3" r="4.2" fill="#f06ad0" stroke="#d040a8" stroke-width="0.5"/>
<ellipse cx="121.6" cy="586.3" rx="2.44" ry="2.1" fill="#e8231a"/>
<circle cx="130.4" cy="586.3" r="4.2" fill="#f7a51f" stroke="#e07a10" stroke-width="0.5"/>
<ellipse cx="130.4" cy="586.3" rx="2.44" ry="2.1" fill="#e8231a"/>
<circle cx="138.3" cy="590.2" r="4.2" fill="#f7a51f" stroke="#e07a10" stroke-width="0.5"/>
<ellipse cx="138.3" cy="590.2" rx="2.44" ry="2.1" fill="#e8231a"/>
<circle cx="121.6" cy="594.1" r="4.2" fill="#f7a51f" stroke="#e07a10" stroke-width="0.5"/>
<ellipse cx="121.6" cy="594.1" rx="2.44" ry="2.1" fill="#e8231a"/>
<circle cx="130" cy="594.1" r="4.2" fill="#f06ad0" stroke="#d040a8" stroke-width="0.5"/>
<ellipse cx="130" cy="594.1" rx="2.44" ry="2.1" fill="#e8231a"/>
<path d="M115.5,602.5 Q113,600.2 111.8,602.2 Q110.5,604.6 113,605.3 Q110.8,606.6 112.4,608.3 Q114.2,609.6 116,607.6 L135.8,607.6 Q137.8,609.6 139.6,608.2 Q141.2,606.4 139,605.3 Q141.4,604.4 140,602.2 Q138.6,600.2 136.3,602.5 Z" fill="#ecebd2" stroke="#8a8a70" stroke-width="0.5"/>
<line x1="147.7" y1="592.7" x2="165.9" y2="592.7" stroke="#000" stroke-width="1.3"/>
<path d="M162.4,595.9 L167.4,592.7 L162.4,589.5" fill="none" stroke="#000" stroke-width="1.3" stroke-linejoin="miter"/>
<circle cx="173.7" cy="590" r="4" fill="#f06ad0" stroke="#d040a8" stroke-width="0.5"/>
<ellipse cx="173.7" cy="590" rx="2.32" ry="2" fill="#e8231a"/>
<circle cx="182" cy="589.3" r="4" fill="#f06ad0" stroke="#d040a8" stroke-width="0.5"/>
<ellipse cx="182" cy="589.3" rx="2.32" ry="2" fill="#e8231a"/>
<circle cx="178.2" cy="595.8" r="4" fill="#f06ad0" stroke="#d040a8" stroke-width="0.5"/>
<ellipse cx="178.2" cy="595.8" rx="2.32" ry="2" fill="#e8231a"/>
<circle cx="186.8" cy="596.2" r="4" fill="#f06ad0" stroke="#d040a8" stroke-width="0.5"/>
<ellipse cx="186.8" cy="596.2" rx="2.32" ry="2" fill="#e8231a"/>
<line x1="161.2" y1="617.3" x2="173.94" y2="604.46" stroke="#000" stroke-width="1.3"/>
<path d="M173.75,609.2 L175,603.4 L169.21,604.69" fill="none" stroke="#000" stroke-width="1.3" stroke-linejoin="miter"/>
<circle cx="140.8" cy="626" r="4.1" fill="#82b340" stroke="#5d8a2a" stroke-width="0.5"/>
<ellipse cx="140.8" cy="626" rx="2.38" ry="2.05" fill="#e8231a"/>
<circle cx="148" cy="621.8" r="4.1" fill="#82b340" stroke="#5d8a2a" stroke-width="0.5"/>
<ellipse cx="148" cy="621.8" rx="2.38" ry="2.05" fill="#e8231a"/>
<circle cx="156.3" cy="621.8" r="4.1" fill="#82b340" stroke="#5d8a2a" stroke-width="0.5"/>
<ellipse cx="156.3" cy="621.8" rx="2.38" ry="2.05" fill="#e8231a"/>
<circle cx="163.9" cy="626" r="4.1" fill="#82b340" stroke="#5d8a2a" stroke-width="0.5"/>
<ellipse cx="163.9" cy="626" rx="2.38" ry="2.05" fill="#e8231a"/>
<circle cx="148" cy="629.7" r="4.1" fill="#82b340" stroke="#5d8a2a" stroke-width="0.5"/>
<ellipse cx="148" cy="629.7" rx="2.38" ry="2.05" fill="#e8231a"/>
<circle cx="156.3" cy="629.7" r="4.1" fill="#82b340" stroke="#5d8a2a" stroke-width="0.5"/>
<ellipse cx="156.3" cy="629.7" rx="2.38" ry="2.05" fill="#e8231a"/>
<text x="116.8" y="643.6" font-size="9" font-weight="bold" fill="#000" text-anchor="start" textLength="64.5" lengthAdjust="spacingAndGlyphs">Supportive Cells</text>
<text x="222.8" y="589.8" font-size="10.5" font-weight="bold" fill="#000" text-anchor="middle" textLength="19.5" lengthAdjust="spacingAndGlyphs">BMT</text>
<line x1="194.3" y1="592.7" x2="252.4" y2="592.7" stroke="#000" stroke-width="1.3"/>
<path d="M248.9,595.9 L253.9,592.7 L248.9,589.5" fill="none" stroke="#000" stroke-width="1.3" stroke-linejoin="miter"/>
<text x="225.1" y="604.6" font-size="9" font-weight="bold" fill="#000" text-anchor="middle" textLength="41" lengthAdjust="spacingAndGlyphs">Six Groups</text>
<text x="176.2" y="615" font-size="9" font-weight="bold" fill="#000" text-anchor="start" textLength="86.8" lengthAdjust="spacingAndGlyphs">3, 10, 30, 100, 300, 900</text>
<text x="219.1" y="633.1" font-size="9" font-weight="bold" fill="#000" text-anchor="start" textLength="113.4" lengthAdjust="spacingAndGlyphs">Lethally Irradiated C57BL/6</text>
<g clip-path="url(#ldaclip)">
<line x1="371.38" y1="522.5" x2="395.7" y2="662.1" stroke="#ff2b12" stroke-width="0.8" stroke-dasharray="1.2,0.8"/>
<line x1="370.58" y1="522.5" x2="418.72" y2="662.1" stroke="#ff2b12" stroke-width="1"/>
<line x1="368.86" y1="522.5" x2="468.08" y2="662.1" stroke="#ff2b12" stroke-width="0.8" stroke-dasharray="1.2,0.8"/>
<line x1="372.15" y1="522.5" x2="373.6" y2="662.1" stroke="#000" stroke-width="1"/>
<line x1="372.19" y1="522.5" x2="372.6" y2="662.1" stroke="#000" stroke-width="0.8" stroke-dasharray="1,0.7"/>
<line x1="372.09" y1="522.5" x2="375.4" y2="662.1" stroke="#000" stroke-width="0.8" stroke-dasharray="1,0.7"/>
<line x1="371.98" y1="522.5" x2="378.4" y2="662.1" stroke="#000" stroke-width="0.8" stroke-dasharray="1,0.7"/>
<line x1="372.2" y1="522.5" x2="372.2" y2="527.2" stroke="#000" stroke-width="1.3"/>
</g>
<circle cx="373.6" cy="528.8" r="1.3" fill="#fff" stroke="#ff2b12" stroke-width="0.6"/>
<circle cx="374.6" cy="530.4" r="1.3" fill="#fff" stroke="#ff2b12" stroke-width="0.6"/>
<circle cx="377.5" cy="538.3" r="1.3" fill="#fff" stroke="#ff2b12" stroke-width="0.6"/>
<circle cx="388.5" cy="574.4" r="1.4" fill="#ff2b12"/>
<path d="M373.2,549.2 L374.6,550.6 L373.2,552 L371.8,550.6 Z" fill="#000"/>
<path d="M375,620.3 L376.4,621.7 L375,623.1 L373.6,621.7 Z" fill="#000"/>
<path d="M375.4,655.6 L378.4,655.6 L376.9,658.2 Z" fill="#000" stroke="#000" stroke-width="0.5"/>
<path d="M386.9,655.6 L389.9,655.6 L388.4,658.2 Z" fill="#000" stroke="#000" stroke-width="0.5"/>
<path d="M418.5,655.6 L421.5,655.6 L420,658.2 Z" fill="#000" stroke="#000" stroke-width="0.5"/>
<path d="M418.5,646.1 L421.5,646.1 L420,648.7 Z" fill="#fff" stroke="#ff2b12" stroke-width="0.5"/>
<path d="M515,645.1 L518,645.1 L516.5,647.7 Z" fill="#ff2b12" stroke="#ff2b12" stroke-width="0.5"/>
<rect x="366.7" y="522.5" width="156.05" height="139.6" fill="none" stroke="#999" stroke-width="0.8"/>
<line x1="364.1" y1="527.2" x2="366.7" y2="527.2" stroke="#000" stroke-width="0.7"/>
<text x="361.2" y="527.2" font-size="8.5" font-weight="bold" fill="#000" text-anchor="middle" transform="rotate(-90 361.2 527.2)">0.0</text>
<line x1="364.1" y1="553.5" x2="366.7" y2="553.5" stroke="#000" stroke-width="0.7"/>
<text x="361.2" y="553.5" font-size="8.5" font-weight="bold" fill="#000" text-anchor="middle" transform="rotate(-90 361.2 553.5)">−0.5</text>
<line x1="364.1" y1="579.6" x2="366.7" y2="579.6" stroke="#000" stroke-width="0.7"/>
<text x="361.2" y="579.6" font-size="8.5" font-weight="bold" fill="#000" text-anchor="middle" transform="rotate(-90 361.2 579.6)">−1.0</text>
<line x1="364.1" y1="605.5" x2="366.7" y2="605.5" stroke="#000" stroke-width="0.7"/>
<text x="361.2" y="605.5" font-size="8.5" font-weight="bold" fill="#000" text-anchor="middle" transform="rotate(-90 361.2 605.5)">−1.5</text>
<line x1="364.1" y1="631.5" x2="366.7" y2="631.5" stroke="#000" stroke-width="0.7"/>
<text x="361.2" y="631.5" font-size="8.5" font-weight="bold" fill="#000" text-anchor="middle" transform="rotate(-90 361.2 631.5)">−2.0</text>
<line x1="364.1" y1="657.2" x2="366.7" y2="657.2" stroke="#000" stroke-width="0.7"/>
<text x="361.2" y="657.2" font-size="8.5" font-weight="bold" fill="#000" text-anchor="middle" transform="rotate(-90 361.2 657.2)">−2.5</text>
<line x1="372.2" y1="662.1" x2="372.2" y2="664.7" stroke="#000" stroke-width="0.7"/>
<text x="372.2" y="671.2" font-size="8.5" font-weight="bold" fill="#000" text-anchor="middle">0</text>
<line x1="404.2" y1="662.1" x2="404.2" y2="664.7" stroke="#000" stroke-width="0.7"/>
<text x="404.2" y="671.2" font-size="8.5" font-weight="bold" fill="#000" text-anchor="middle">200</text>
<line x1="436.1" y1="662.1" x2="436.1" y2="664.7" stroke="#000" stroke-width="0.7"/>
<text x="436.1" y="671.2" font-size="8.5" font-weight="bold" fill="#000" text-anchor="middle">400</text>
<line x1="468.1" y1="662.1" x2="468.1" y2="664.7" stroke="#000" stroke-width="0.7"/>
<text x="468.1" y="671.2" font-size="8.5" font-weight="bold" fill="#000" text-anchor="middle">600</text>
<line x1="500.3" y1="662.1" x2="500.3" y2="664.7" stroke="#000" stroke-width="0.7"/>
<text x="500.3" y="671.2" font-size="8.5" font-weight="bold" fill="#000" text-anchor="middle">800</text>
<text x="348.8" y="595.6" font-size="11" font-weight="bold" fill="#000" text-anchor="middle" textLength="106.3" lengthAdjust="spacingAndGlyphs" transform="rotate(-90 348.8 595.6)">Log fraction nonresponding</text>
<text x="435.5" y="682" font-size="9.5" font-weight="bold" fill="#000" text-anchor="middle" textLength="85.5" lengthAdjust="spacingAndGlyphs">Dose (number of cells)</text>
<text x="471.3" y="537.6" font-size="10" font-weight="bold" fill="#000" text-anchor="start" textLength="21" lengthAdjust="spacingAndGlyphs">shNC</text>
<text x="471.3" y="545.8" font-size="10" font-weight="bold" fill="#ff2b12" text-anchor="start" textLength="26.5" lengthAdjust="spacingAndGlyphs">shRpl5</text>
<text x="532" y="525" font-size="13" font-weight="bold" fill="#000" text-anchor="start">G</text>
<text x="561" y="530.3" font-size="12" font-weight="bold" textLength="71" lengthAdjust="spacingAndGlyphs">EdU<tspan dy="-4" font-size="10" font-weight="normal">+</tspan><tspan dy="4">% of LIC</tspan></text>
<line x1="560.25" y1="545.7" x2="560.25" y2="665.1" stroke="#000" stroke-width="1.2"/>
<line x1="555.85" y1="664.5" x2="560.25" y2="664.5" stroke="#000" stroke-width="1.2"/>
<text x="553.65" y="667.83" font-size="9.8" font-weight="bold" fill="#000" text-anchor="end">0</text>
<line x1="555.85" y1="625.1" x2="560.25" y2="625.1" stroke="#000" stroke-width="1.2"/>
<text x="553.65" y="628.43" font-size="9.8" font-weight="bold" fill="#000" text-anchor="end">10</text>
<line x1="555.85" y1="585.7" x2="560.25" y2="585.7" stroke="#000" stroke-width="1.2"/>
<text x="553.65" y="589.03" font-size="9.8" font-weight="bold" fill="#000" text-anchor="end">20</text>
<line x1="555.85" y1="546.3" x2="560.25" y2="546.3" stroke="#000" stroke-width="1.2"/>
<text x="553.65" y="549.63" font-size="9.8" font-weight="bold" fill="#000" text-anchor="end">30</text>
<text x="538.5" y="605" font-size="11" font-weight="bold" fill="#000" text-anchor="middle" textLength="67.5" lengthAdjust="spacingAndGlyphs" transform="rotate(-90 538.5 605)">Percentage (%)</text>
<line x1="560.25" y1="664.5" x2="639" y2="664.5" stroke="#000" stroke-width="1.2"/>
<line x1="582.75" y1="664.5" x2="582.75" y2="668.7" stroke="#000" stroke-width="1.2"/>
<line x1="616.5" y1="664.5" x2="616.5" y2="668.7" stroke="#000" stroke-width="1.2"/>
<rect x="571.5" y="576.25" width="22.5" height="88.25" fill="#5fa6fc"/>
<line x1="582.75" y1="576.25" x2="582.75" y2="559.5" stroke="#5fa6fc" stroke-width="0.9"/>
<line x1="577" y1="559.5" x2="588.5" y2="559.5" stroke="#5fa6fc" stroke-width="0.9"/>
<rect x="605.25" y="638" width="22.75" height="26.5" fill="#ff2b12"/>
<line x1="616.6" y1="638" x2="616.6" y2="635.75" stroke="#ff2b12" stroke-width="0.9"/>
<line x1="611.1" y1="635.75" x2="622.1" y2="635.75" stroke="#ff2b12" stroke-width="0.9"/>
<text x="582.75" y="680.8" font-size="10" font-weight="bold" fill="#000" text-anchor="middle">shNC</text>
<text x="616.5" y="680.8" font-size="10" font-weight="bold" fill="#000" text-anchor="middle">shRpl5</text>
<path d="M582.75,557.5 V552 H618.5 V557.5" fill="none" stroke="#000" stroke-width="1"/>
<path d="M600.62,546.1L600.62,550.9M598.55,547.3L602.7,549.7M602.7,547.3L598.55,549.7" stroke="#111" stroke-width="0.85" fill="none"/>
<text x="8.7" y="660.6" font-size="13" font-weight="bold" fill="#000" text-anchor="start">H</text>
<line x1="19.6" y1="665.5" x2="19.6" y2="704.55" stroke="#222" stroke-width="0.8"/>
<line x1="19.6" y1="733.05" x2="19.6" y2="770.6" stroke="#222" stroke-width="0.8"/>
<line x1="19.6" y1="770.6" x2="110.2" y2="770.6" stroke="#222" stroke-width="0.8"/>
<line x1="159.3" y1="770.6" x2="226" y2="770.6" stroke="#222" stroke-width="0.8"/>
<text x="23.17" y="718.8" font-size="10.5" font-weight="bold" fill="#000" text-anchor="middle" textLength="23.5" lengthAdjust="spacingAndGlyphs" transform="rotate(-90 23.17 718.8)">c-Kit</text>
<text x="135.5" y="774" font-size="10.5" font-weight="bold" fill="#000" text-anchor="middle" textLength="33.5" lengthAdjust="spacingAndGlyphs">MAC-1</text>
<line x1="19.6" y1="787.2" x2="19.6" y2="808.8" stroke="#222" stroke-width="0.8"/>
<line x1="19.6" y1="860.8" x2="19.6" y2="881.3" stroke="#222" stroke-width="0.8"/>
<line x1="19.6" y1="881.3" x2="109.8" y2="881.3" stroke="#222" stroke-width="0.8"/>
<line x1="168.5" y1="881.3" x2="226.3" y2="881.3" stroke="#222" stroke-width="0.8"/>
<text x="23.17" y="834.8" font-size="10.5" font-weight="bold" fill="#000" text-anchor="middle" textLength="47" lengthAdjust="spacingAndGlyphs" transform="rotate(-90 23.17 834.8)">Pyronin Y</text>
<text x="140.5" y="883.3" font-size="10.5" font-weight="bold" fill="#000" text-anchor="middle" textLength="36.8" lengthAdjust="spacingAndGlyphs">Hoechst</text>
<text x="80.5" y="667.5" font-size="10" font-weight="bold" fill="#000" text-anchor="middle">shNC</text>
<line x1="33.1" y1="675" x2="35.3" y2="675" stroke="#333" stroke-width="0.6"/>
<text x="32.9" y="676.9" font-size="5.5" font-weight="normal" fill="#000" text-anchor="end">10<tspan dy="-2.2" font-size="4">6</tspan></text>
<line x1="33.1" y1="690.75" x2="35.3" y2="690.75" stroke="#333" stroke-width="0.6"/>
<text x="32.9" y="692.65" font-size="5.5" font-weight="normal" fill="#000" text-anchor="end">10<tspan dy="-2.2" font-size="4">5</tspan></text>
<line x1="33.1" y1="708" x2="35.3" y2="708" stroke="#333" stroke-width="0.6"/>
<text x="32.9" y="709.9" font-size="5.5" font-weight="normal" fill="#000" text-anchor="end">10<tspan dy="-2.2" font-size="4">4</tspan></text>
<line x1="33.1" y1="728.75" x2="35.3" y2="728.75" stroke="#333" stroke-width="0.6"/>
<text x="32.9" y="730.65" font-size="5.5" font-weight="normal" fill="#000" text-anchor="end">10<tspan dy="-2.2" font-size="4">3</tspan></text>
<line x1="33.1" y1="740" x2="35.3" y2="740" stroke="#333" stroke-width="0.6"/>
<text x="32.9" y="741.9" font-size="5.5" font-weight="normal" fill="#000" text-anchor="end">0</text>
<line x1="33.1" y1="753" x2="35.3" y2="753" stroke="#333" stroke-width="0.6"/>
<text x="32.9" y="754.9" font-size="5.5" font-weight="normal" fill="#000" text-anchor="end">-10<tspan dy="-2.2" font-size="4">3</tspan></text>
<line x1="34.2" y1="678.15" x2="35.3" y2="678.15" stroke="#555" stroke-width="0.4"/>
<line x1="34.2" y1="681.3" x2="35.3" y2="681.3" stroke="#555" stroke-width="0.4"/>
<line x1="34.2" y1="684.45" x2="35.3" y2="684.45" stroke="#555" stroke-width="0.4"/>
<line x1="34.2" y1="687.6" x2="35.3" y2="687.6" stroke="#555" stroke-width="0.4"/>
<line x1="34.2" y1="694.2" x2="35.3" y2="694.2" stroke="#555" stroke-width="0.4"/>
<line x1="34.2" y1="697.65" x2="35.3" y2="697.65" stroke="#555" stroke-width="0.4"/>
<line x1="34.2" y1="701.1" x2="35.3" y2="701.1" stroke="#555" stroke-width="0.4"/>
<line x1="34.2" y1="704.55" x2="35.3" y2="704.55" stroke="#555" stroke-width="0.4"/>
<line x1="34.2" y1="712.15" x2="35.3" y2="712.15" stroke="#555" stroke-width="0.4"/>
<line x1="34.2" y1="716.3" x2="35.3" y2="716.3" stroke="#555" stroke-width="0.4"/>
<line x1="34.2" y1="720.45" x2="35.3" y2="720.45" stroke="#555" stroke-width="0.4"/>
<line x1="34.2" y1="724.6" x2="35.3" y2="724.6" stroke="#555" stroke-width="0.4"/>
<line x1="34.2" y1="731" x2="35.3" y2="731" stroke="#555" stroke-width="0.4"/>
<line x1="34.2" y1="733.25" x2="35.3" y2="733.25" stroke="#555" stroke-width="0.4"/>
<line x1="34.2" y1="735.5" x2="35.3" y2="735.5" stroke="#555" stroke-width="0.4"/>
<line x1="34.2" y1="737.75" x2="35.3" y2="737.75" stroke="#555" stroke-width="0.4"/>
<line x1="34.2" y1="742.6" x2="35.3" y2="742.6" stroke="#555" stroke-width="0.4"/>
<line x1="34.2" y1="745.2" x2="35.3" y2="745.2" stroke="#555" stroke-width="0.4"/>
<line x1="34.2" y1="747.8" x2="35.3" y2="747.8" stroke="#555" stroke-width="0.4"/>
<line x1="34.2" y1="750.4" x2="35.3" y2="750.4" stroke="#555" stroke-width="0.4"/>
<line x1="54.5" y1="758.6" x2="54.5" y2="760.8" stroke="#333" stroke-width="0.6"/>
<text x="54.5" y="766.9" font-size="5.5" font-weight="normal" fill="#000" text-anchor="middle">0</text>
<line x1="73.75" y1="758.6" x2="73.75" y2="760.8" stroke="#333" stroke-width="0.6"/>
<text x="73.75" y="766.9" font-size="5.5" font-weight="normal" fill="#000" text-anchor="middle">10<tspan dy="-2.2" font-size="4">4</tspan></text>
<line x1="93.75" y1="758.6" x2="93.75" y2="760.8" stroke="#333" stroke-width="0.6"/>
<text x="93.75" y="766.9" font-size="5.5" font-weight="normal" fill="#000" text-anchor="middle">10<tspan dy="-2.2" font-size="4">5</tspan></text>
<line x1="112.5" y1="758.6" x2="112.5" y2="760.8" stroke="#333" stroke-width="0.6"/>
<text x="112.5" y="766.9" font-size="5.5" font-weight="normal" fill="#000" text-anchor="middle">10<tspan dy="-2.2" font-size="4">6</tspan></text>
<line x1="58.35" y1="758.6" x2="58.35" y2="759.7" stroke="#555" stroke-width="0.4"/>
<line x1="62.2" y1="758.6" x2="62.2" y2="759.7" stroke="#555" stroke-width="0.4"/>
<line x1="66.05" y1="758.6" x2="66.05" y2="759.7" stroke="#555" stroke-width="0.4"/>
<line x1="69.9" y1="758.6" x2="69.9" y2="759.7" stroke="#555" stroke-width="0.4"/>
<line x1="77.75" y1="758.6" x2="77.75" y2="759.7" stroke="#555" stroke-width="0.4"/>
<line x1="81.75" y1="758.6" x2="81.75" y2="759.7" stroke="#555" stroke-width="0.4"/>
<line x1="85.75" y1="758.6" x2="85.75" y2="759.7" stroke="#555" stroke-width="0.4"/>
<line x1="89.75" y1="758.6" x2="89.75" y2="759.7" stroke="#555" stroke-width="0.4"/>
<line x1="97.5" y1="758.6" x2="97.5" y2="759.7" stroke="#555" stroke-width="0.4"/>
<line x1="101.25" y1="758.6" x2="101.25" y2="759.7" stroke="#555" stroke-width="0.4"/>
<line x1="105" y1="758.6" x2="105" y2="759.7" stroke="#555" stroke-width="0.4"/>
<line x1="108.75" y1="758.6" x2="108.75" y2="759.7" stroke="#555" stroke-width="0.4"/>
<rect x="33.3" y="738.8" width="2" height="2.4" fill="#111"/>
<rect x="50" y="758.4" width="5" height="1.4" fill="#111"/>
<text x="192.3" y="667.5" font-size="10" font-weight="bold" fill="#000" text-anchor="middle">shRpl5</text>
<line x1="141.3" y1="675" x2="143.5" y2="675" stroke="#333" stroke-width="0.6"/>
<text x="141.1" y="676.9" font-size="5.5" font-weight="normal" fill="#000" text-anchor="end">10<tspan dy="-2.2" font-size="4">6</tspan></text>
<line x1="141.3" y1="690.75" x2="143.5" y2="690.75" stroke="#333" stroke-width="0.6"/>
<text x="141.1" y="692.65" font-size="5.5" font-weight="normal" fill="#000" text-anchor="end">10<tspan dy="-2.2" font-size="4">5</tspan></text>
<line x1="141.3" y1="708" x2="143.5" y2="708" stroke="#333" stroke-width="0.6"/>
<text x="141.1" y="709.9" font-size="5.5" font-weight="normal" fill="#000" text-anchor="end">10<tspan dy="-2.2" font-size="4">4</tspan></text>
<line x1="141.3" y1="728.75" x2="143.5" y2="728.75" stroke="#333" stroke-width="0.6"/>
<text x="141.1" y="730.65" font-size="5.5" font-weight="normal" fill="#000" text-anchor="end">10<tspan dy="-2.2" font-size="4">3</tspan></text>
<line x1="141.3" y1="740" x2="143.5" y2="740" stroke="#333" stroke-width="0.6"/>
<text x="141.1" y="741.9" font-size="5.5" font-weight="normal" fill="#000" text-anchor="end">0</text>
<line x1="141.3" y1="753" x2="143.5" y2="753" stroke="#333" stroke-width="0.6"/>
<text x="141.1" y="754.9" font-size="5.5" font-weight="normal" fill="#000" text-anchor="end">-10<tspan dy="-2.2" font-size="4">3</tspan></text>
<line x1="142.4" y1="678.15" x2="143.5" y2="678.15" stroke="#555" stroke-width="0.4"/>
<line x1="142.4" y1="681.3" x2="143.5" y2="681.3" stroke="#555" stroke-width="0.4"/>
<line x1="142.4" y1="684.45" x2="143.5" y2="684.45" stroke="#555" stroke-width="0.4"/>
<line x1="142.4" y1="687.6" x2="143.5" y2="687.6" stroke="#555" stroke-width="0.4"/>
<line x1="142.4" y1="694.2" x2="143.5" y2="694.2" stroke="#555" stroke-width="0.4"/>
<line x1="142.4" y1="697.65" x2="143.5" y2="697.65" stroke="#555" stroke-width="0.4"/>
<line x1="142.4" y1="701.1" x2="143.5" y2="701.1" stroke="#555" stroke-width="0.4"/>
<line x1="142.4" y1="704.55" x2="143.5" y2="704.55" stroke="#555" stroke-width="0.4"/>
<line x1="142.4" y1="712.15" x2="143.5" y2="712.15" stroke="#555" stroke-width="0.4"/>
<line x1="142.4" y1="716.3" x2="143.5" y2="716.3" stroke="#555" stroke-width="0.4"/>
<line x1="142.4" y1="720.45" x2="143.5" y2="720.45" stroke="#555" stroke-width="0.4"/>
<line x1="142.4" y1="724.6" x2="143.5" y2="724.6" stroke="#555" stroke-width="0.4"/>
<line x1="142.4" y1="731" x2="143.5" y2="731" stroke="#555" stroke-width="0.4"/>
<line x1="142.4" y1="733.25" x2="143.5" y2="733.25" stroke="#555" stroke-width="0.4"/>
<line x1="142.4" y1="735.5" x2="143.5" y2="735.5" stroke="#555" stroke-width="0.4"/>
<line x1="142.4" y1="737.75" x2="143.5" y2="737.75" stroke="#555" stroke-width="0.4"/>
<line x1="142.4" y1="742.6" x2="143.5" y2="742.6" stroke="#555" stroke-width="0.4"/>
<line x1="142.4" y1="745.2" x2="143.5" y2="745.2" stroke="#555" stroke-width="0.4"/>
<line x1="142.4" y1="747.8" x2="143.5" y2="747.8" stroke="#555" stroke-width="0.4"/>
<line x1="142.4" y1="750.4" x2="143.5" y2="750.4" stroke="#555" stroke-width="0.4"/>
<line x1="162.8" y1="758.6" x2="162.8" y2="760.8" stroke="#333" stroke-width="0.6"/>
<text x="162.8" y="766.9" font-size="5.5" font-weight="normal" fill="#000" text-anchor="middle">0</text>
<line x1="182.05" y1="758.6" x2="182.05" y2="760.8" stroke="#333" stroke-width="0.6"/>
<text x="182.05" y="766.9" font-size="5.5" font-weight="normal" fill="#000" text-anchor="middle">10<tspan dy="-2.2" font-size="4">4</tspan></text>
<line x1="202.05" y1="758.6" x2="202.05" y2="760.8" stroke="#333" stroke-width="0.6"/>
<text x="202.05" y="766.9" font-size="5.5" font-weight="normal" fill="#000" text-anchor="middle">10<tspan dy="-2.2" font-size="4">5</tspan></text>
<line x1="220.8" y1="758.6" x2="220.8" y2="760.8" stroke="#333" stroke-width="0.6"/>
<text x="220.8" y="766.9" font-size="5.5" font-weight="normal" fill="#000" text-anchor="middle">10<tspan dy="-2.2" font-size="4">6</tspan></text>
<line x1="166.65" y1="758.6" x2="166.65" y2="759.7" stroke="#555" stroke-width="0.4"/>
<line x1="170.5" y1="758.6" x2="170.5" y2="759.7" stroke="#555" stroke-width="0.4"/>
<line x1="174.35" y1="758.6" x2="174.35" y2="759.7" stroke="#555" stroke-width="0.4"/>
<line x1="178.2" y1="758.6" x2="178.2" y2="759.7" stroke="#555" stroke-width="0.4"/>
<line x1="186.05" y1="758.6" x2="186.05" y2="759.7" stroke="#555" stroke-width="0.4"/>
<line x1="190.05" y1="758.6" x2="190.05" y2="759.7" stroke="#555" stroke-width="0.4"/>
<line x1="194.05" y1="758.6" x2="194.05" y2="759.7" stroke="#555" stroke-width="0.4"/>
<line x1="198.05" y1="758.6" x2="198.05" y2="759.7" stroke="#555" stroke-width="0.4"/>
<line x1="205.8" y1="758.6" x2="205.8" y2="759.7" stroke="#555" stroke-width="0.4"/>
<line x1="209.55" y1="758.6" x2="209.55" y2="759.7" stroke="#555" stroke-width="0.4"/>
<line x1="213.3" y1="758.6" x2="213.3" y2="759.7" stroke="#555" stroke-width="0.4"/>
<line x1="217.05" y1="758.6" x2="217.05" y2="759.7" stroke="#555" stroke-width="0.4"/>
<rect x="141.5" y="738.8" width="2" height="2.4" fill="#111"/>
<rect x="158.3" y="758.4" width="5" height="1.4" fill="#111"/>
<path d="M79.2,712 C79.42,709.33 79.68,705.45 80.6,703 C81.52,700.55 82.85,698.67 84.7,697.3 C86.55,695.93 89.38,694.87 91.7,694.8 C94.02,694.73 96.78,695.2 98.6,696.9 C100.42,698.6 101.87,701.82 102.6,705 C103.33,708.18 103.13,712.33 103,716 C102.87,719.67 102.22,723.67 101.8,727 C101.38,730.33 100.83,733.33 100.5,736 C100.17,738.67 100.3,740.95 99.8,743 C99.3,745.05 98.38,747.8 97.5,748.3 C96.62,748.8 95.58,747.3 94.5,746 C93.42,744.7 92.5,742.5 91,740.5 C89.5,738.5 87.2,736.42 85.5,734 C83.8,731.58 81.83,728.5 80.8,726 C79.77,723.5 79.57,721.33 79.3,719 C79.03,716.67 78.98,714.67 79.2,712Z" fill="#000" stroke="#000" stroke-width="1.4"/>
<path d="M80.03,712.28 C80.23,709.8 80.48,706.19 81.33,703.91 C82.18,701.63 83.42,699.88 85.14,698.61 C86.86,697.34 89.5,696.35 91.65,696.28 C93.81,696.22 96.38,696.66 98.07,698.24 C99.76,699.82 101.11,702.81 101.79,705.77 C102.47,708.73 102.28,712.59 102.16,716 C102.04,719.41 101.43,723.13 101.04,726.23 C100.66,729.33 100.15,732.12 99.84,734.6 C99.53,737.08 99.65,739.2 99.18,741.11 C98.72,743.02 97.87,745.57 97.05,746.04 C96.22,746.5 95.26,745.11 94.25,743.9 C93.25,742.69 92.39,740.64 91,738.78 C89.61,736.92 87.47,734.99 85.89,732.74 C84.3,730.49 82.47,727.62 81.51,725.3 C80.55,722.97 80.37,720.96 80.12,718.79 C79.87,716.62 79.82,714.76 80.03,712.28Z" fill="url(#z3g8)"/>
<ellipse cx="91.3" cy="713.5" rx="6.5" ry="8.5" fill="#a8a8a8" stroke="#fff" stroke-width="0.6" transform="rotate(0 91.3 713.5)"/>
<ellipse cx="91.3" cy="713.5" rx="4.88" ry="6.38" fill="#7e7e7e" stroke="#111" stroke-width="0.6" transform="rotate(0 91.3 713.5)"/>
<ellipse cx="91.3" cy="713.5" rx="3.25" ry="4.25" fill="#a8a8a8" stroke="#fff" stroke-width="0.6" transform="rotate(0 91.3 713.5)"/>
<ellipse cx="91.3" cy="713.5" rx="1.62" ry="2.12" fill="#7e7e7e" stroke="#111" stroke-width="0.6" transform="rotate(0 91.3 713.5)"/>
<circle cx="91.3" cy="713.5" r="1.2" fill="#111"/>
<path d="M93.5,738 C94.08,736.83 96.5,736.33 97.5,737 C98.5,737.67 99.28,740.33 99.5,742 C99.72,743.67 99.38,745.95 98.8,747 C98.22,748.05 96.8,748.8 96,748.3 C95.2,747.8 94.42,745.72 94,744 C93.58,742.28 92.92,739.17 93.5,738Z" fill="#050505"/>
<ellipse cx="38.3" cy="708" rx="1.3" ry="3" fill="none" stroke="#222" stroke-width="0.6"/>
<path d="M186.1,707.3 C187.37,705.87 189.5,704.62 190.9,703.7 C192.3,702.78 193.3,702.22 194.5,701.8 C195.7,701.38 196.7,700.88 198.1,701.2 C199.5,701.52 201.82,702.08 202.9,703.7 C203.98,705.32 204.38,707.83 204.6,710.9 C204.82,713.97 204.42,718.88 204.2,722.1 C203.98,725.32 203.52,727.52 203.3,730.2 C203.08,732.88 202.88,735.53 202.9,738.2 C202.92,740.87 203.18,743.25 203.4,746.2 C203.62,749.15 204.82,754.82 204.2,755.9 C203.58,756.98 201.38,754.45 199.7,752.7 C198.02,750.95 195.83,747.82 194.1,745.4 C192.37,742.98 190.57,740.47 189.3,738.2 C188.03,735.93 187.13,734.22 186.5,731.8 C185.87,729.38 185.97,726.12 185.5,723.7 C185.03,721.28 184.07,719.2 183.7,717.3 C183.33,715.4 182.9,713.97 183.3,712.3 C183.7,710.63 184.83,708.73 186.1,707.3Z" fill="#000" stroke="#000" stroke-width="1.4"/>
<path d="M186.53,707.64 C187.72,706.29 189.73,705.12 191.04,704.26 C192.36,703.4 193.3,702.86 194.43,702.47 C195.56,702.08 196.5,701.61 197.81,701.91 C199.13,702.21 201.31,702.74 202.32,704.26 C203.34,705.78 203.72,708.14 203.92,711.03 C204.13,713.91 203.75,718.53 203.55,721.55 C203.34,724.58 202.9,726.65 202.7,729.17 C202.5,731.69 202.31,734.18 202.32,736.69 C202.34,739.19 202.59,741.44 202.79,744.21 C203,746.98 204.13,752.31 203.55,753.33 C202.97,754.34 200.9,751.96 199.32,750.32 C197.73,748.67 195.68,745.73 194.05,743.46 C192.42,741.18 190.73,738.82 189.54,736.69 C188.35,734.56 187.5,732.94 186.91,730.67 C186.31,728.4 186.41,725.33 185.97,723.06 C185.53,720.79 184.62,718.83 184.28,717.04 C183.93,715.26 183.52,713.91 183.9,712.34 C184.28,710.78 185.34,708.99 186.53,707.64Z" fill="url(#z3g9)"/>
<ellipse cx="193.5" cy="714.5" rx="6.8" ry="9.5" fill="#a8a8a8" stroke="#fff" stroke-width="0.6" transform="rotate(0 193.5 714.5)"/>
<ellipse cx="193.5" cy="714.5" rx="5.44" ry="7.6" fill="#7e7e7e" stroke="#111" stroke-width="0.6" transform="rotate(0 193.5 714.5)"/>
<ellipse cx="193.5" cy="714.5" rx="4.08" ry="5.7" fill="#a8a8a8" stroke="#fff" stroke-width="0.6" transform="rotate(0 193.5 714.5)"/>
<ellipse cx="193.5" cy="714.5" rx="2.72" ry="3.8" fill="#7e7e7e" stroke="#111" stroke-width="0.6" transform="rotate(0 193.5 714.5)"/>
<ellipse cx="193.5" cy="714.5" rx="1.36" ry="1.9" fill="#a8a8a8" stroke="#fff" stroke-width="0.6" transform="rotate(0 193.5 714.5)"/>
<circle cx="193.5" cy="714.5" r="1.2" fill="#111"/>
<rect x="81.4" y="691.4" width="33.9" height="25.2" fill="none" stroke="#444" stroke-width="0.75"/>
<rect x="189.5" y="691.3" width="33.8" height="25.5" fill="none" stroke="#444" stroke-width="0.75"/>
<rect x="36.3" y="670" width="87.3" height="87.6" fill="none" stroke="#777" stroke-width="0.7"/>
<rect x="144.5" y="670" width="87" height="87.5" fill="none" stroke="#777" stroke-width="0.7"/>
<text x="93.9" y="685.3" font-size="9.5" font-weight="bold" fill="#000" text-anchor="middle" textLength="16.5" lengthAdjust="spacingAndGlyphs">66.6</text>
<text x="197.8" y="687.5" font-size="9.5" font-weight="bold" fill="#000" text-anchor="middle" textLength="9.5" lengthAdjust="spacingAndGlyphs">58</text>
<line x1="33.1" y1="789.4" x2="35.3" y2="789.4" stroke="#333" stroke-width="0.6"/>
<text x="32.9" y="791.3" font-size="5.5" font-weight="normal" fill="#000" text-anchor="end">10<tspan dy="-2.2" font-size="4">7</tspan></text>
<line x1="33.1" y1="823.9" x2="35.3" y2="823.9" stroke="#333" stroke-width="0.6"/>
<text x="32.9" y="825.8" font-size="5.5" font-weight="normal" fill="#000" text-anchor="end">10<tspan dy="-2.2" font-size="4">6</tspan></text>
<line x1="33.1" y1="846.9" x2="35.3" y2="846.9" stroke="#333" stroke-width="0.6"/>
<text x="32.9" y="848.8" font-size="5.5" font-weight="normal" fill="#000" text-anchor="end">10<tspan dy="-2.2" font-size="4">5</tspan></text>
<line x1="33.1" y1="860.8" x2="35.3" y2="860.8" stroke="#333" stroke-width="0.6"/>
<text x="32.9" y="862.7" font-size="5.5" font-weight="normal" fill="#000" text-anchor="end">0</text>
<line x1="34.2" y1="796.3" x2="35.3" y2="796.3" stroke="#555" stroke-width="0.4"/>
<line x1="34.2" y1="803.2" x2="35.3" y2="803.2" stroke="#555" stroke-width="0.4"/>
<line x1="34.2" y1="810.1" x2="35.3" y2="810.1" stroke="#555" stroke-width="0.4"/>
<line x1="34.2" y1="817" x2="35.3" y2="817" stroke="#555" stroke-width="0.4"/>
<line x1="34.2" y1="828.5" x2="35.3" y2="828.5" stroke="#555" stroke-width="0.4"/>
<line x1="34.2" y1="833.1" x2="35.3" y2="833.1" stroke="#555" stroke-width="0.4"/>
<line x1="34.2" y1="837.7" x2="35.3" y2="837.7" stroke="#555" stroke-width="0.4"/>
<line x1="34.2" y1="842.3" x2="35.3" y2="842.3" stroke="#555" stroke-width="0.4"/>
<line x1="34.2" y1="849.68" x2="35.3" y2="849.68" stroke="#555" stroke-width="0.4"/>
<line x1="34.2" y1="852.46" x2="35.3" y2="852.46" stroke="#555" stroke-width="0.4"/>
<line x1="34.2" y1="855.24" x2="35.3" y2="855.24" stroke="#555" stroke-width="0.4"/>
<line x1="34.2" y1="858.02" x2="35.3" y2="858.02" stroke="#555" stroke-width="0.4"/>
<line x1="37.5" y1="870.4" x2="37.5" y2="872.6" stroke="#333" stroke-width="0.6"/>
<text x="37.5" y="878.7" font-size="4" font-weight="normal" fill="#000" text-anchor="middle">0</text>
<line x1="61.25" y1="870.4" x2="61.25" y2="872.6" stroke="#333" stroke-width="0.6"/>
<text x="61.25" y="878.7" font-size="4" font-weight="normal" fill="#000" text-anchor="middle">2.0M</text>
<line x1="86.25" y1="870.4" x2="86.25" y2="872.6" stroke="#333" stroke-width="0.6"/>
<text x="86.25" y="878.7" font-size="4" font-weight="normal" fill="#000" text-anchor="middle">4.0M</text>
<line x1="110" y1="870.4" x2="110" y2="872.6" stroke="#333" stroke-width="0.6"/>
<text x="110" y="878.7" font-size="4" font-weight="normal" fill="#000" text-anchor="middle">6.0M</text>
<line x1="42.25" y1="870.4" x2="42.25" y2="871.5" stroke="#555" stroke-width="0.4"/>
<line x1="47" y1="870.4" x2="47" y2="871.5" stroke="#555" stroke-width="0.4"/>
<line x1="51.75" y1="870.4" x2="51.75" y2="871.5" stroke="#555" stroke-width="0.4"/>
<line x1="56.5" y1="870.4" x2="56.5" y2="871.5" stroke="#555" stroke-width="0.4"/>
<line x1="66.25" y1="870.4" x2="66.25" y2="871.5" stroke="#555" stroke-width="0.4"/>
<line x1="71.25" y1="870.4" x2="71.25" y2="871.5" stroke="#555" stroke-width="0.4"/>
<line x1="76.25" y1="870.4" x2="76.25" y2="871.5" stroke="#555" stroke-width="0.4"/>
<line x1="81.25" y1="870.4" x2="81.25" y2="871.5" stroke="#555" stroke-width="0.4"/>
<line x1="91" y1="870.4" x2="91" y2="871.5" stroke="#555" stroke-width="0.4"/>
<line x1="95.75" y1="870.4" x2="95.75" y2="871.5" stroke="#555" stroke-width="0.4"/>
<line x1="100.5" y1="870.4" x2="100.5" y2="871.5" stroke="#555" stroke-width="0.4"/>
<line x1="105.25" y1="870.4" x2="105.25" y2="871.5" stroke="#555" stroke-width="0.4"/>
<rect x="33.3" y="859.3" width="2" height="3" fill="#111"/>
<line x1="141.4" y1="786" x2="143.6" y2="786" stroke="#333" stroke-width="0.6"/>
<text x="141.2" y="787.9" font-size="5.5" font-weight="normal" fill="#000" text-anchor="end">10<tspan dy="-2.2" font-size="4">7</tspan></text>
<line x1="141.4" y1="815.2" x2="143.6" y2="815.2" stroke="#333" stroke-width="0.6"/>
<text x="141.2" y="817.1" font-size="5.5" font-weight="normal" fill="#000" text-anchor="end">10<tspan dy="-2.2" font-size="4">6</tspan></text>
<line x1="141.4" y1="845.3" x2="143.6" y2="845.3" stroke="#333" stroke-width="0.6"/>
<text x="141.2" y="847.2" font-size="5.5" font-weight="normal" fill="#000" text-anchor="end">10<tspan dy="-2.2" font-size="4">5</tspan></text>
<line x1="141.4" y1="858.5" x2="143.6" y2="858.5" stroke="#333" stroke-width="0.6"/>
<text x="141.2" y="860.4" font-size="5.5" font-weight="normal" fill="#000" text-anchor="end">0</text>
<line x1="142.5" y1="791.84" x2="143.6" y2="791.84" stroke="#555" stroke-width="0.4"/>
<line x1="142.5" y1="797.68" x2="143.6" y2="797.68" stroke="#555" stroke-width="0.4"/>
<line x1="142.5" y1="803.52" x2="143.6" y2="803.52" stroke="#555" stroke-width="0.4"/>
<line x1="142.5" y1="809.36" x2="143.6" y2="809.36" stroke="#555" stroke-width="0.4"/>
<line x1="142.5" y1="821.22" x2="143.6" y2="821.22" stroke="#555" stroke-width="0.4"/>
<line x1="142.5" y1="827.24" x2="143.6" y2="827.24" stroke="#555" stroke-width="0.4"/>
<line x1="142.5" y1="833.26" x2="143.6" y2="833.26" stroke="#555" stroke-width="0.4"/>
<line x1="142.5" y1="839.28" x2="143.6" y2="839.28" stroke="#555" stroke-width="0.4"/>
<line x1="142.5" y1="847.94" x2="143.6" y2="847.94" stroke="#555" stroke-width="0.4"/>
<line x1="142.5" y1="850.58" x2="143.6" y2="850.58" stroke="#555" stroke-width="0.4"/>
<line x1="142.5" y1="853.22" x2="143.6" y2="853.22" stroke="#555" stroke-width="0.4"/>
<line x1="142.5" y1="855.86" x2="143.6" y2="855.86" stroke="#555" stroke-width="0.4"/>
<line x1="145.4" y1="867.2" x2="145.4" y2="869.4" stroke="#333" stroke-width="0.6"/>
<text x="145.4" y="875.5" font-size="4" font-weight="normal" fill="#000" text-anchor="middle">0</text>
<line x1="167.4" y1="867.2" x2="167.4" y2="869.4" stroke="#333" stroke-width="0.6"/>
<text x="167.4" y="875.5" font-size="4" font-weight="normal" fill="#000" text-anchor="middle">2.0M</text>
<line x1="193" y1="867.2" x2="193" y2="869.4" stroke="#333" stroke-width="0.6"/>
<text x="193" y="875.5" font-size="4" font-weight="normal" fill="#000" text-anchor="middle">4.0M</text>
<line x1="217.5" y1="867.2" x2="217.5" y2="869.4" stroke="#333" stroke-width="0.6"/>
<text x="217.5" y="875.5" font-size="4" font-weight="normal" fill="#000" text-anchor="middle">6.0M</text>
<line x1="149.8" y1="867.2" x2="149.8" y2="868.3" stroke="#555" stroke-width="0.4"/>
<line x1="154.2" y1="867.2" x2="154.2" y2="868.3" stroke="#555" stroke-width="0.4"/>
<line x1="158.6" y1="867.2" x2="158.6" y2="868.3" stroke="#555" stroke-width="0.4"/>
<line x1="163" y1="867.2" x2="163" y2="868.3" stroke="#555" stroke-width="0.4"/>
<line x1="172.52" y1="867.2" x2="172.52" y2="868.3" stroke="#555" stroke-width="0.4"/>
<line x1="177.64" y1="867.2" x2="177.64" y2="868.3" stroke="#555" stroke-width="0.4"/>
<line x1="182.76" y1="867.2" x2="182.76" y2="868.3" stroke="#555" stroke-width="0.4"/>
<line x1="187.88" y1="867.2" x2="187.88" y2="868.3" stroke="#555" stroke-width="0.4"/>
<line x1="197.9" y1="867.2" x2="197.9" y2="868.3" stroke="#555" stroke-width="0.4"/>
<line x1="202.8" y1="867.2" x2="202.8" y2="868.3" stroke="#555" stroke-width="0.4"/>
<line x1="207.7" y1="867.2" x2="207.7" y2="868.3" stroke="#555" stroke-width="0.4"/>
<line x1="212.6" y1="867.2" x2="212.6" y2="868.3" stroke="#555" stroke-width="0.4"/>
<rect x="141.6" y="857" width="2" height="3" fill="#111"/>
<path d="M59.7,806.7 C60.3,805.08 61.1,803.67 62.5,802.5 C63.9,801.33 65.78,800.4 68.1,799.7 C70.42,799 74.32,798.3 76.4,798.3 C78.48,798.3 78.52,799.7 80.6,799.7 C82.68,799.7 85.67,798.3 88.9,798.3 C92.13,798.3 97.22,798.77 100,799.7 C102.78,800.63 104.12,801.58 105.6,803.9 C107.08,806.22 108.68,811.28 108.9,813.6 C109.12,815.92 108.38,817.1 106.9,817.8 C105.42,818.5 102.53,817.57 100,817.8 C97.47,818.03 94.48,818.73 91.7,819.2 C88.92,819.67 85.62,819.68 83.3,820.6 C80.98,821.52 79.08,822.4 77.8,824.7 C76.52,827 76.43,831.62 75.6,834.4 C74.77,837.18 74.05,840.47 72.8,841.4 C71.55,842.33 69.5,841.62 68.1,840 C66.7,838.38 65.47,834.93 64.4,831.7 C63.33,828.47 62.62,823.85 61.7,820.6 C60.78,817.35 59.23,814.52 58.9,812.2 C58.57,809.88 59.1,808.32 59.7,806.7Z" fill="#000" stroke="#000" stroke-width="1.4"/>
<path d="M60.92,807.12 C61.49,805.58 62.25,804.23 63.58,803.12 C64.91,802.02 66.69,801.13 68.89,800.47 C71.1,799.8 74.8,799.13 76.78,799.13 C78.76,799.13 78.79,800.47 80.77,800.47 C82.75,800.47 85.58,799.13 88.66,799.13 C91.73,799.13 96.56,799.58 99.2,800.47 C101.84,801.35 103.11,802.25 104.52,804.45 C105.93,806.66 107.45,811.47 107.66,813.67 C107.86,815.87 107.16,817 105.76,817.66 C104.35,818.32 101.61,817.44 99.2,817.66 C96.79,817.88 93.96,818.55 91.31,818.99 C88.67,819.43 85.54,819.45 83.33,820.32 C81.13,821.19 79.33,822.03 78.11,824.22 C76.89,826.4 76.81,830.79 76.02,833.43 C75.23,836.07 74.55,839.19 73.36,840.08 C72.17,840.97 70.22,840.29 68.89,838.75 C67.56,837.21 66.39,833.94 65.38,830.87 C64.37,827.79 63.69,823.41 62.82,820.32 C61.94,817.23 60.47,814.54 60.16,812.34 C59.84,810.14 60.35,808.65 60.92,807.12Z" fill="url(#z3g10)"/>
<ellipse cx="69.5" cy="821" rx="6.8" ry="16.5" fill="#a8a8a8" stroke="#fff" stroke-width="0.6" transform="rotate(0 69.5 821)"/>
<ellipse cx="69.5" cy="821" rx="5.67" ry="13.75" fill="#7e7e7e" stroke="#111" stroke-width="0.6" transform="rotate(0 69.5 821)"/>
<ellipse cx="69.5" cy="821" rx="4.53" ry="11" fill="#a8a8a8" stroke="#fff" stroke-width="0.6" transform="rotate(0 69.5 821)"/>
<ellipse cx="69.5" cy="821" rx="3.4" ry="8.25" fill="#7e7e7e" stroke="#111" stroke-width="0.6" transform="rotate(0 69.5 821)"/>
<ellipse cx="69.5" cy="821" rx="2.27" ry="5.5" fill="#a8a8a8" stroke="#fff" stroke-width="0.6" transform="rotate(0 69.5 821)"/>
<ellipse cx="69.5" cy="821" rx="1.13" ry="2.75" fill="#7e7e7e" stroke="#111" stroke-width="0.6" transform="rotate(0 69.5 821)"/>
<circle cx="69.5" cy="821" r="0.8" fill="#111"/>
<path d="M84,804 C85.17,803.42 90.17,802.83 92,803 C93.83,803.17 95,804.42 95,805 C95,805.58 93.67,806.25 92,806.5 C90.33,806.75 86.33,806.92 85,806.5 C83.67,806.08 82.83,804.58 84,804Z" fill="#f0f0f0"/>
<path d="M172,810 C172.87,807.25 174.17,806.33 175.5,805.5 C176.83,804.67 178.58,804.67 180,805 C181.42,805.33 182.67,806.58 184,807.5 C185.33,808.42 185.67,810.52 188,810.5 C190.33,810.48 194.1,808.42 198,807.4 C201.9,806.38 207.98,804.05 211.4,804.4 C214.82,804.75 216.97,806.95 218.5,809.5 C220.03,812.05 220.77,816.63 220.6,819.7 C220.43,822.77 220.57,826.7 217.5,827.9 C214.43,829.1 207.45,826.97 202.2,826.9 C196.95,826.83 188.9,826.32 186,827.5 C183.1,828.68 185.63,831.92 184.8,834 C183.97,836.08 182.63,838.92 181,840 C179.37,841.08 176.67,841.5 175,840.5 C173.33,839.5 171.78,837.08 171,834 C170.22,830.92 170.13,826 170.3,822 C170.47,818 171.13,812.75 172,810Z" fill="#000" stroke="#000" stroke-width="1.4"/>
<path d="M173.4,810.4 C174.22,807.79 175.46,806.92 176.72,806.12 C177.99,805.33 179.65,805.33 181,805.65 C182.35,805.97 183.53,807.15 184.8,808.02 C186.07,808.9 186.38,810.89 188.6,810.88 C190.82,810.86 194.39,808.9 198.1,807.93 C201.81,806.96 207.58,804.75 210.83,805.08 C214.08,805.41 216.12,807.5 217.57,809.92 C219.03,812.35 219.73,816.7 219.57,819.62 C219.41,822.53 219.54,826.26 216.62,827.4 C213.71,828.54 207.08,826.52 202.09,826.45 C197.1,826.39 189.45,825.9 186.7,827.02 C183.94,828.15 186.35,831.22 185.56,833.2 C184.77,835.18 183.5,837.87 181.95,838.9 C180.4,839.93 177.83,840.33 176.25,839.38 C174.67,838.42 173.19,836.13 172.45,833.2 C171.71,830.27 171.63,825.6 171.79,821.8 C171.94,818 172.58,813.01 173.4,810.4Z" fill="url(#z3g11)"/>
<ellipse cx="177.7" cy="822.5" rx="6.6" ry="16.5" fill="#a8a8a8" stroke="#fff" stroke-width="0.6" transform="rotate(0 177.7 822.5)"/>
<ellipse cx="177.7" cy="822.5" rx="5.5" ry="13.75" fill="#7e7e7e" stroke="#111" stroke-width="0.6" transform="rotate(0 177.7 822.5)"/>
<ellipse cx="177.7" cy="822.5" rx="4.4" ry="11" fill="#a8a8a8" stroke="#fff" stroke-width="0.6" transform="rotate(0 177.7 822.5)"/>
<ellipse cx="177.7" cy="822.5" rx="3.3" ry="8.25" fill="#7e7e7e" stroke="#111" stroke-width="0.6" transform="rotate(0 177.7 822.5)"/>
<ellipse cx="177.7" cy="822.5" rx="2.2" ry="5.5" fill="#a8a8a8" stroke="#fff" stroke-width="0.6" transform="rotate(0 177.7 822.5)"/>
<ellipse cx="177.7" cy="822.5" rx="1.1" ry="2.75" fill="#7e7e7e" stroke="#111" stroke-width="0.6" transform="rotate(0 177.7 822.5)"/>
<circle cx="177.7" cy="822.5" r="0.8" fill="#111"/>
<line x1="76.4" y1="781.4" x2="76.4" y2="869.4" stroke="#111" stroke-width="0.9"/>
<line x1="36.3" y1="822.8" x2="123.7" y2="822.8" stroke="#111" stroke-width="0.9"/>
<rect x="36.3" y="781.4" width="87.4" height="88" fill="none" stroke="#777" stroke-width="0.7"/>
<line x1="184.4" y1="779.6" x2="184.4" y2="866.2" stroke="#111" stroke-width="0.9"/>
<line x1="144.6" y1="820.3" x2="231.3" y2="820.3" stroke="#111" stroke-width="0.9"/>
<rect x="144.6" y="779.6" width="86.7" height="86.6" fill="none" stroke="#777" stroke-width="0.7"/>
<text x="43" y="796.4" font-size="9.5" font-weight="bold" fill="#000" text-anchor="start" textLength="15.9" lengthAdjust="spacingAndGlyphs">59.1</text>
<text x="88.9" y="796.4" font-size="9.5" font-weight="bold" fill="#000" text-anchor="start" textLength="16.1" lengthAdjust="spacingAndGlyphs">19.9</text>
<text x="43.9" y="848.9" font-size="9.5" font-weight="bold" fill="#000" text-anchor="start" textLength="15.8" lengthAdjust="spacingAndGlyphs">20.1</text>
<text x="150.7" y="793.5" font-size="9.5" font-weight="bold" fill="#000" text-anchor="start" textLength="16.3" lengthAdjust="spacingAndGlyphs">25.2</text>
<text x="196" y="793.5" font-size="9.5" font-weight="bold" fill="#000" text-anchor="start" textLength="16" lengthAdjust="spacingAndGlyphs">11.0</text>
<text x="151.5" y="848.3" font-size="9.5" font-weight="bold" fill="#000" text-anchor="start" textLength="16.5" lengthAdjust="spacingAndGlyphs">57.7</text>
<text x="334.75" y="712" font-size="12" font-weight="bold" fill="#000" text-anchor="middle" textLength="84.5" lengthAdjust="spacingAndGlyphs">Cell Cycle of LIC</text>
<line x1="272.5" y1="731.4" x2="272.5" y2="851.1" stroke="#000" stroke-width="1.2"/>
<line x1="268.1" y1="850.5" x2="272.5" y2="850.5" stroke="#000" stroke-width="1.2"/>
<text x="265.9" y="853.83" font-size="9.8" font-weight="bold" fill="#000" text-anchor="end">0</text>
<line x1="268.1" y1="820.88" x2="272.5" y2="820.88" stroke="#000" stroke-width="1.2"/>
<text x="265.9" y="824.21" font-size="9.8" font-weight="bold" fill="#000" text-anchor="end">20</text>
<line x1="268.1" y1="791.25" x2="272.5" y2="791.25" stroke="#000" stroke-width="1.2"/>
<text x="265.9" y="794.58" font-size="9.8" font-weight="bold" fill="#000" text-anchor="end">40</text>
<line x1="268.1" y1="761.62" x2="272.5" y2="761.62" stroke="#000" stroke-width="1.2"/>
<text x="265.9" y="764.96" font-size="9.8" font-weight="bold" fill="#000" text-anchor="end">60</text>
<line x1="268.1" y1="732" x2="272.5" y2="732" stroke="#000" stroke-width="1.2"/>
<text x="265.9" y="735.33" font-size="9.8" font-weight="bold" fill="#000" text-anchor="end">80</text>
<text x="251" y="789.25" font-size="11" font-weight="bold" fill="#000" text-anchor="middle" transform="rotate(-90 251 789.25)">%</text>
<line x1="272.5" y1="850.5" x2="391.25" y2="850.5" stroke="#000" stroke-width="1.2"/>
<line x1="290.5" y1="850.5" x2="290.5" y2="854.7" stroke="#000" stroke-width="1.2"/>
<line x1="331.75" y1="850.5" x2="331.75" y2="854.7" stroke="#000" stroke-width="1.2"/>
<line x1="372.5" y1="850.5" x2="372.5" y2="854.7" stroke="#000" stroke-width="1.2"/>
<rect x="277.5" y="825.5" width="10.5" height="25" fill="#5fa6fc"/>
<line x1="282.75" y1="825.5" x2="282.75" y2="822" stroke="#5fa6fc" stroke-width="0.9"/>
<line x1="280" y1="822" x2="285.5" y2="822" stroke="#5fa6fc" stroke-width="0.9"/>
<rect x="293" y="762.5" width="10" height="88" fill="#ff2b12"/>
<line x1="298" y1="762.5" x2="298" y2="756.25" stroke="#ff2b12" stroke-width="0.9"/>
<line x1="295.25" y1="756.25" x2="300.75" y2="756.25" stroke="#ff2b12" stroke-width="0.9"/>
<rect x="319" y="758" width="10" height="92.5" fill="#5fa6fc"/>
<line x1="324" y1="758" x2="324" y2="754.25" stroke="#5fa6fc" stroke-width="0.9"/>
<line x1="321.25" y1="754.25" x2="326.75" y2="754.25" stroke="#5fa6fc" stroke-width="0.9"/>
<rect x="334.5" y="820.5" width="10" height="30" fill="#ff2b12"/>
<line x1="339.5" y1="820.5" x2="339.5" y2="815.75" stroke="#ff2b12" stroke-width="0.9"/>
<line x1="336.75" y1="815.75" x2="342.25" y2="815.75" stroke="#ff2b12" stroke-width="0.9"/>
<rect x="360" y="820.5" width="10.5" height="30" fill="#5fa6fc"/>
<line x1="365.25" y1="820.5" x2="365.25" y2="818.25" stroke="#5fa6fc" stroke-width="0.9"/>
<line x1="362.5" y1="818.25" x2="368" y2="818.25" stroke="#5fa6fc" stroke-width="0.9"/>
<rect x="375.5" y="830.75" width="10.5" height="19.75" fill="#ff2b12"/>
<line x1="380.75" y1="830.75" x2="380.75" y2="827.5" stroke="#ff2b12" stroke-width="0.9"/>
<line x1="378" y1="827.5" x2="383.5" y2="827.5" stroke="#ff2b12" stroke-width="0.9"/>
<text x="290.5" y="866.5" font-size="10" font-weight="bold" fill="#000" text-anchor="middle">G0</text>
<text x="331.75" y="866.5" font-size="10" font-weight="bold" fill="#000" text-anchor="middle">G1</text>
<text x="372.5" y="866.5" font-size="9.5" font-weight="bold" fill="#000" text-anchor="middle" textLength="32" lengthAdjust="spacingAndGlyphs">S/G2/M</text>
<path d="M277,753 V747.5 H299.5 V753" fill="none" stroke="#000" stroke-width="1"/>
<path d="M280.38,740.1L280.38,744.9M278.3,741.3L282.45,743.7M282.45,741.3L278.3,743.7M285.62,740.1L285.62,744.9M283.55,741.3L287.7,743.7M287.7,741.3L283.55,743.7M290.88,740.1L290.88,744.9M288.8,741.3L292.95,743.7M292.95,741.3L288.8,743.7M296.12,740.1L296.12,744.9M294.05,741.3L298.2,743.7M298.2,741.3L294.05,743.7" stroke="#111" stroke-width="0.85" fill="none"/>
<path d="M323.75,751.75 V744.5 H345.75 V751.75" fill="none" stroke="#000" stroke-width="1"/>
<path d="M326.88,737.6L326.88,742.4M324.8,738.8L328.95,741.2M328.95,738.8L324.8,741.2M332.12,737.6L332.12,742.4M330.05,738.8L334.2,741.2M334.2,738.8L330.05,741.2M337.38,737.6L337.38,742.4M335.3,738.8L339.45,741.2M339.45,738.8L335.3,741.2M342.62,737.6L342.62,742.4M340.55,738.8L344.7,741.2M344.7,738.8L340.55,741.2" stroke="#111" stroke-width="0.85" fill="none"/>
<rect x="389.5" y="733.5" width="11.75" height="6" fill="#5fa6fc"/>
<rect x="389.5" y="751.25" width="11.75" height="5.75" fill="#ff2b12"/>
<text x="408" y="740.3" font-size="9.5" font-weight="bold" fill="#000" text-anchor="start" textLength="20" lengthAdjust="spacingAndGlyphs">shNC</text>
<text x="408" y="757.8" font-size="9.5" font-weight="bold" fill="#000" text-anchor="start" textLength="26" lengthAdjust="spacingAndGlyphs">shRpl5</text>
<text x="436.6" y="707.5" font-size="13" font-weight="bold" fill="#000" text-anchor="start">I</text>
<text x="475.5" y="708.3" font-size="12" font-weight="bold" fill="#000" text-anchor="start" textLength="114" lengthAdjust="spacingAndGlyphs">Gene Expression of LIC</text>
<line x1="479.6" y1="732.3" x2="479.6" y2="786.5" stroke="#000" stroke-width="1.2"/>
<line x1="474.6" y1="732.8" x2="479.6" y2="732.8" stroke="#000" stroke-width="1.2"/>
<text x="472.6" y="736.1" font-size="9.8" font-weight="bold" fill="#000" text-anchor="end">40</text>
<line x1="474.6" y1="746.4" x2="479.6" y2="746.4" stroke="#000" stroke-width="1.2"/>
<text x="472.6" y="749.7" font-size="9.8" font-weight="bold" fill="#000" text-anchor="end">30</text>
<line x1="474.6" y1="760.2" x2="479.6" y2="760.2" stroke="#000" stroke-width="1.2"/>
<text x="472.6" y="763.5" font-size="9.8" font-weight="bold" fill="#000" text-anchor="end">20</text>
<line x1="474.6" y1="774.2" x2="479.6" y2="774.2" stroke="#000" stroke-width="1.2"/>
<text x="472.6" y="777.5" font-size="9.8" font-weight="bold" fill="#000" text-anchor="end">10</text>
<line x1="476.4" y1="786.5" x2="482.6" y2="786.5" stroke="#000" stroke-width="1.2"/>
<line x1="479.6" y1="795.4" x2="479.6" y2="849.7" stroke="#000" stroke-width="1.2"/>
<line x1="476.4" y1="795.4" x2="482.6" y2="795.4" stroke="#000" stroke-width="1.2"/>
<line x1="474.6" y1="813.4" x2="479.6" y2="813.4" stroke="#000" stroke-width="1.2"/>
<text x="472.6" y="816.7" font-size="9.8" font-weight="bold" fill="#000" text-anchor="end">1.0</text>
<line x1="474.6" y1="831.7" x2="479.6" y2="831.7" stroke="#000" stroke-width="1.2"/>
<text x="472.6" y="835" font-size="9.8" font-weight="bold" fill="#000" text-anchor="end">0.5</text>
<line x1="474.6" y1="849.2" x2="479.6" y2="849.2" stroke="#000" stroke-width="1.2"/>
<text x="472.6" y="852.5" font-size="9.8" font-weight="bold" fill="#000" text-anchor="end">0.0</text>
<text x="472.6" y="798.7" font-size="9.8" font-weight="bold" fill="#000" text-anchor="end">1.5</text>
<text x="457" y="790.1" font-size="11" font-weight="bold" fill="#000" text-anchor="middle" textLength="72.4" lengthAdjust="spacingAndGlyphs" transform="rotate(-90 457 790.1)">Transcript&#160; Level</text>
<line x1="479.6" y1="849.2" x2="595.3" y2="849.2" stroke="#000" stroke-width="1.2"/>
<line x1="507.7" y1="849.2" x2="507.7" y2="853.4" stroke="#000" stroke-width="1.2"/>
<line x1="567.8" y1="849.2" x2="567.8" y2="853.4" stroke="#000" stroke-width="1.2"/>
<rect x="483.9" y="811.8" width="8.7" height="37.4" fill="#5fa6fc"/>
<line x1="488.25" y1="811.8" x2="488.25" y2="811" stroke="#5fa6fc" stroke-width="0.9"/>
<line x1="485.75" y1="811" x2="490.75" y2="811" stroke="#5fa6fc" stroke-width="0.9"/>
<rect x="496.8" y="814.6" width="9.1" height="34.6" fill="#5fa6fc"/>
<line x1="501.35" y1="814.6" x2="501.35" y2="813.2" stroke="#5fa6fc" stroke-width="0.9"/>
<line x1="498.85" y1="813.2" x2="503.85" y2="813.2" stroke="#5fa6fc" stroke-width="0.9"/>
<rect x="509.6" y="795.2" width="8.9" height="54" fill="#ff2b12"/>
<rect x="509.6" y="757.4" width="8.9" height="28.7" fill="#ff2b12"/>
<line x1="514.05" y1="757.4" x2="514.05" y2="756.5" stroke="#ff2b12" stroke-width="0.9"/>
<line x1="511.55" y1="756.5" x2="516.55" y2="756.5" stroke="#ff2b12" stroke-width="0.9"/>
<rect x="522.7" y="795.2" width="8.9" height="54" fill="#ff2b12"/>
<rect x="522.7" y="756.4" width="8.9" height="29.7" fill="#ff2b12"/>
<line x1="527.15" y1="756.4" x2="527.15" y2="755.5" stroke="#ff2b12" stroke-width="0.9"/>
<line x1="524.65" y1="755.5" x2="529.65" y2="755.5" stroke="#ff2b12" stroke-width="0.9"/>
<rect x="544.6" y="809.9" width="8.7" height="39.3" fill="#5fa6fc"/>
<line x1="548.95" y1="809.9" x2="548.95" y2="808.3" stroke="#5fa6fc" stroke-width="0.9"/>
<line x1="546.45" y1="808.3" x2="551.45" y2="808.3" stroke="#5fa6fc" stroke-width="0.9"/>
<rect x="557.5" y="815.8" width="8.6" height="33.4" fill="#5fa6fc"/>
<line x1="561.8" y1="815.8" x2="561.8" y2="815" stroke="#5fa6fc" stroke-width="0.9"/>
<line x1="559.3" y1="815" x2="564.3" y2="815" stroke="#5fa6fc" stroke-width="0.9"/>
<rect x="570.3" y="839.6" width="8.9" height="9.6" fill="#ff2b12"/>
<line x1="574.75" y1="839.6" x2="574.75" y2="839" stroke="#ff2b12" stroke-width="0.9"/>
<line x1="572.25" y1="839" x2="577.25" y2="839" stroke="#ff2b12" stroke-width="0.9"/>
<rect x="583.4" y="838" width="8.7" height="11.2" fill="#ff2b12"/>
<line x1="587.75" y1="838" x2="587.75" y2="837.3" stroke="#ff2b12" stroke-width="0.9"/>
<line x1="585.25" y1="837.3" x2="590.25" y2="837.3" stroke="#ff2b12" stroke-width="0.9"/>
<text x="507.7" y="864" font-size="10" font-weight="bold" fill="#000" text-anchor="middle" textLength="31" lengthAdjust="spacingAndGlyphs">Cdkn2c</text>
<text x="567.8" y="864" font-size="10" font-weight="bold" fill="#000" text-anchor="middle" textLength="26" lengthAdjust="spacingAndGlyphs">Cdk17</text>
<path d="M493.3,749.9 V745 H520.6 V749.9" fill="none" stroke="#000" stroke-width="1"/>
<line x1="488.6" y1="749.9" x2="497.9" y2="749.9" stroke="#000" stroke-width="1"/>
<line x1="514.3" y1="749.9" x2="526.4" y2="749.9" stroke="#000" stroke-width="1"/>
<path d="M499.08,738.2L499.08,743M497,739.4L501.15,741.8M501.15,739.4L497,741.8M504.33,738.2L504.33,743M502.25,739.4L506.4,741.8M506.4,739.4L502.25,741.8M509.58,738.2L509.58,743M507.5,739.4L511.65,741.8M511.65,739.4L507.5,741.8M514.83,738.2L514.83,743M512.75,739.4L516.9,741.8M516.9,739.4L512.75,741.8" stroke="#111" stroke-width="0.85" fill="none"/>
<path d="M556.8,805.3 V800.6 H580.9 V805.3" fill="none" stroke="#000" stroke-width="1"/>
<line x1="552.1" y1="805.3" x2="563.8" y2="805.3" stroke="#000" stroke-width="1"/>
<line x1="575" y1="805.3" x2="586.7" y2="805.3" stroke="#000" stroke-width="1"/>
<path d="M560.97,793.5L560.97,798.3M558.9,794.7L563.05,797.1M563.05,794.7L558.9,797.1M566.22,793.5L566.22,798.3M564.15,794.7L568.3,797.1M568.3,794.7L564.15,797.1M571.47,793.5L571.47,798.3M569.4,794.7L573.55,797.1M573.55,794.7L569.4,797.1M576.72,793.5L576.72,798.3M574.65,794.7L578.8,797.1M578.8,794.7L574.65,797.1" stroke="#111" stroke-width="0.85" fill="none"/>
<rect x="601.5" y="735.75" width="13" height="5.7" fill="#5fa6fc"/>
<text x="621" y="741.3" font-size="9.5" font-weight="bold" fill="#000" text-anchor="start">shNC-1</text>
<rect x="601.5" y="751.25" width="13" height="5.7" fill="#5fa6fc"/>
<text x="621" y="757" font-size="9.5" font-weight="bold" fill="#000" text-anchor="start">shNC-2</text>
<rect x="601.5" y="767" width="13" height="5.7" fill="#ff2b12"/>
<text x="621" y="773" font-size="9.5" font-weight="bold" fill="#000" text-anchor="start">shRpl5-1</text>
<rect x="601.5" y="783" width="13" height="5.7" fill="#ff2b12"/>
<text x="621" y="789.3" font-size="9.5" font-weight="bold" fill="#000" text-anchor="start">shRpl5-2</text>
</svg>
</body></html>
